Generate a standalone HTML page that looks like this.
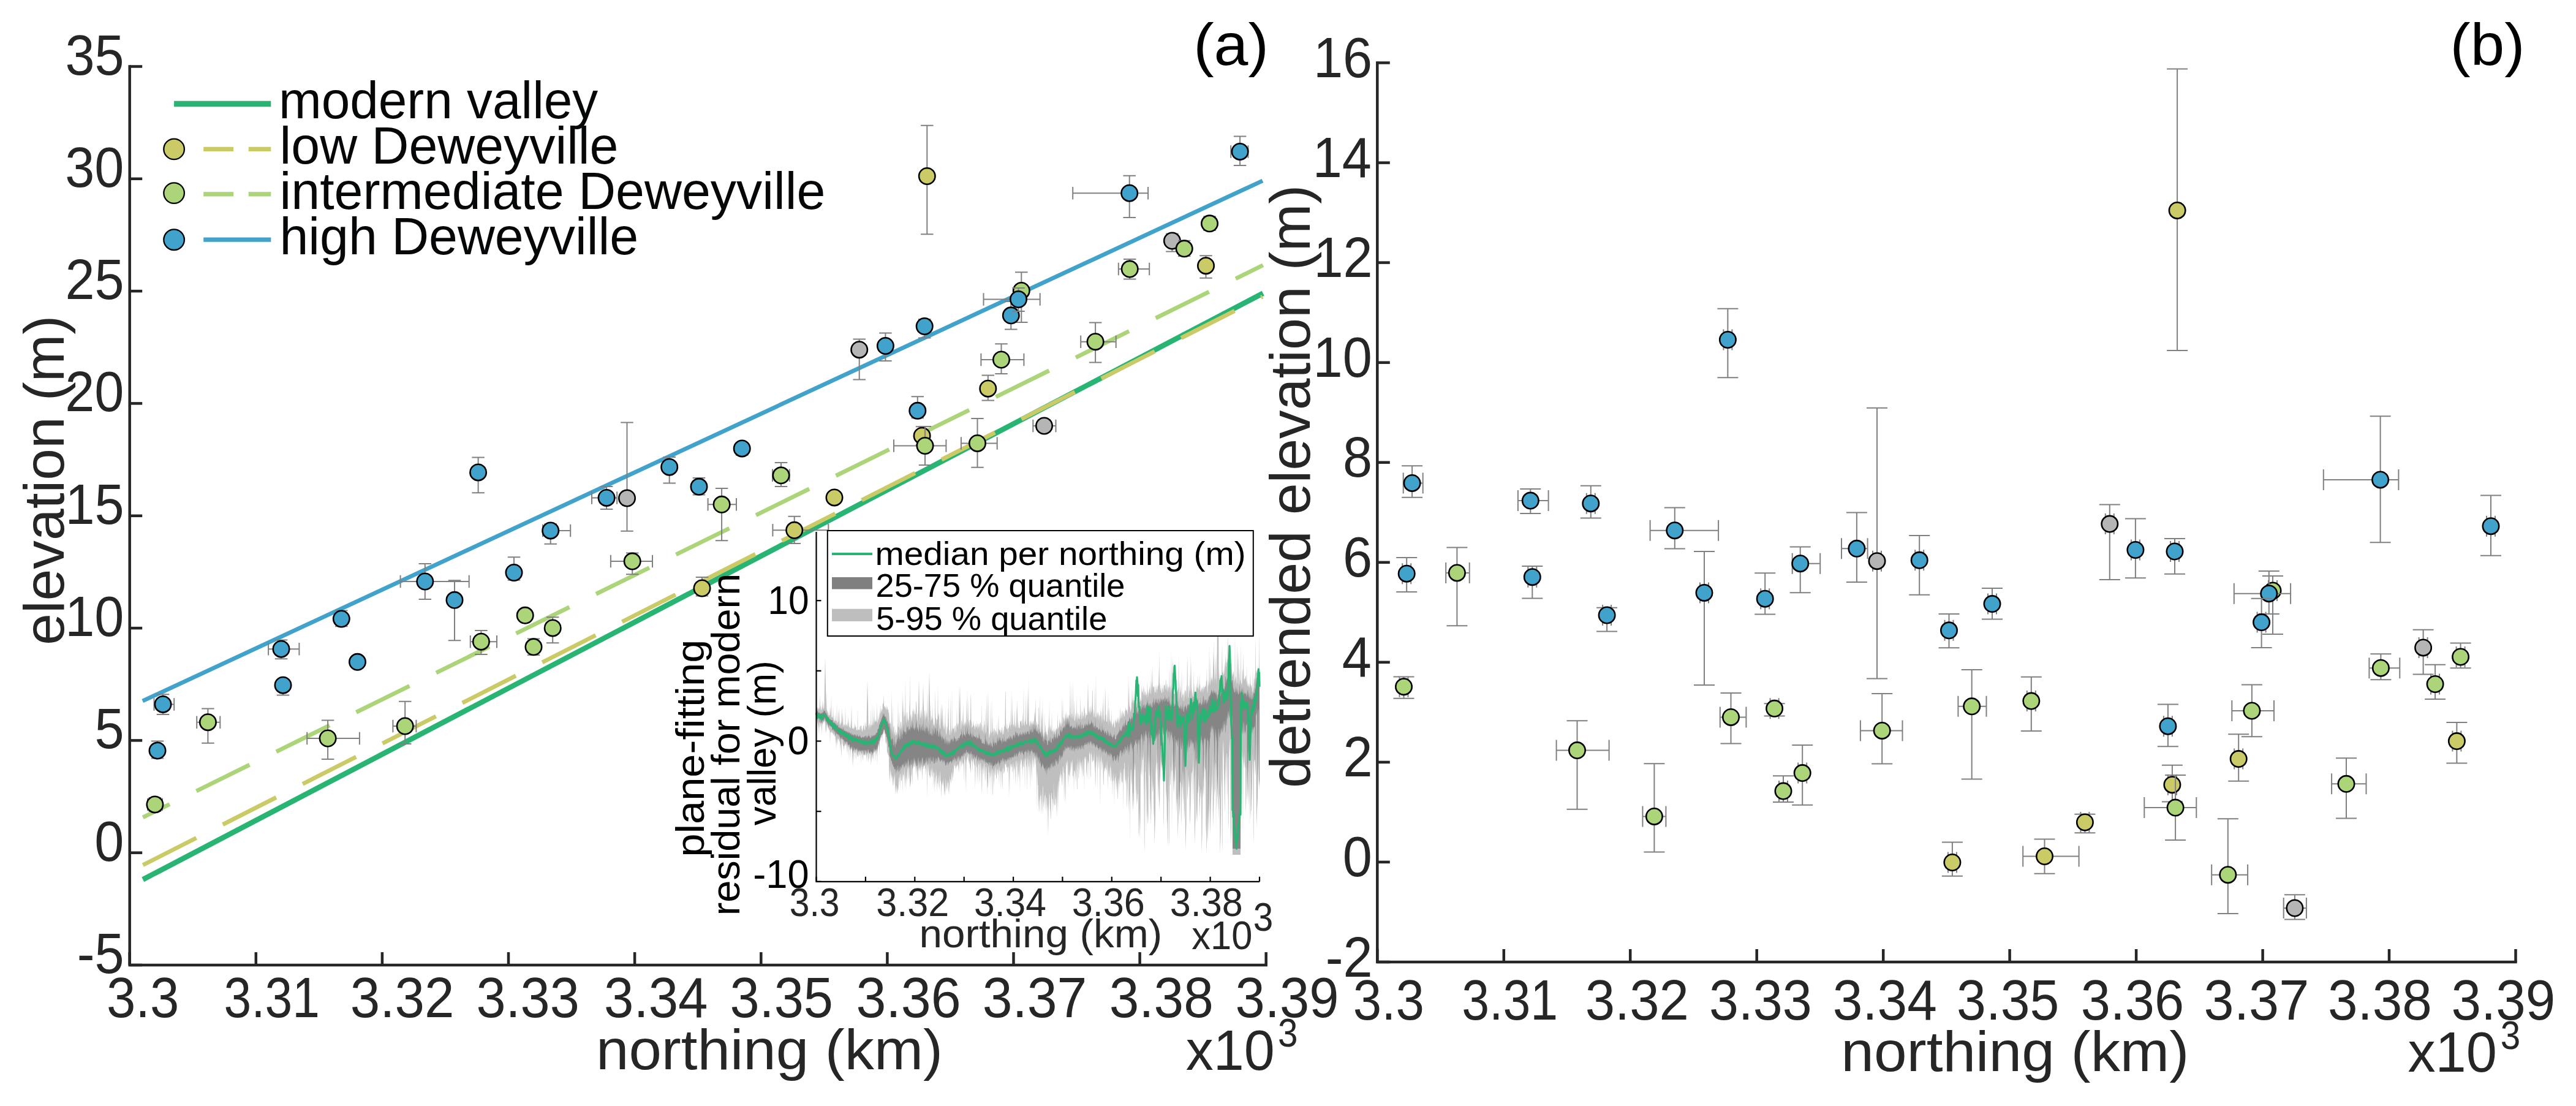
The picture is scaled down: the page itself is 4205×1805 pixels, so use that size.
<!DOCTYPE html>
<html><head><meta charset="utf-8"><style>html,body{margin:0;padding:0;background:#fff;}svg{display:block;-webkit-font-smoothing:antialiased;}</style></head>
<body><svg width="4205" height="1805" viewBox="0 0 4205 1805" font-family="'Liberation Sans', sans-serif">
<rect width="4205" height="1805" fill="#fff"/>
<path d="M211.7,106.3 V1575.0 H2068.8999999999996" fill="none" stroke="#262626" stroke-width="4.5"/>
<line x1="211.7" y1="1575.0" x2="232.2" y2="1575.0" stroke="#262626" stroke-width="4.5"/>
<line x1="211.7" y1="1391.7" x2="232.2" y2="1391.7" stroke="#262626" stroke-width="4.5"/>
<line x1="211.7" y1="1208.4" x2="232.2" y2="1208.4" stroke="#262626" stroke-width="4.5"/>
<line x1="211.7" y1="1025.1" x2="232.2" y2="1025.1" stroke="#262626" stroke-width="4.5"/>
<line x1="211.7" y1="841.8" x2="232.2" y2="841.8" stroke="#262626" stroke-width="4.5"/>
<line x1="211.7" y1="658.4" x2="232.2" y2="658.4" stroke="#262626" stroke-width="4.5"/>
<line x1="211.7" y1="475.1" x2="232.2" y2="475.1" stroke="#262626" stroke-width="4.5"/>
<line x1="211.7" y1="291.8" x2="232.2" y2="291.8" stroke="#262626" stroke-width="4.5"/>
<line x1="211.7" y1="108.5" x2="232.2" y2="108.5" stroke="#262626" stroke-width="4.5"/>
<line x1="211.7" y1="1575.0" x2="211.7" y2="1554.0" stroke="#262626" stroke-width="4.5"/>
<line x1="417.8" y1="1575.0" x2="417.8" y2="1554.0" stroke="#262626" stroke-width="4.5"/>
<line x1="623.9" y1="1575.0" x2="623.9" y2="1554.0" stroke="#262626" stroke-width="4.5"/>
<line x1="830.0" y1="1575.0" x2="830.0" y2="1554.0" stroke="#262626" stroke-width="4.5"/>
<line x1="1036.1" y1="1575.0" x2="1036.1" y2="1554.0" stroke="#262626" stroke-width="4.5"/>
<line x1="1242.3" y1="1575.0" x2="1242.3" y2="1554.0" stroke="#262626" stroke-width="4.5"/>
<line x1="1448.4" y1="1575.0" x2="1448.4" y2="1554.0" stroke="#262626" stroke-width="4.5"/>
<line x1="1654.5" y1="1575.0" x2="1654.5" y2="1554.0" stroke="#262626" stroke-width="4.5"/>
<line x1="1860.6" y1="1575.0" x2="1860.6" y2="1554.0" stroke="#262626" stroke-width="4.5"/>
<line x1="2066.7" y1="1575.0" x2="2066.7" y2="1554.0" stroke="#262626" stroke-width="4.5"/>
<text x="125.7" y="1588.0" font-size="93" textLength="76.9" lengthAdjust="spacingAndGlyphs" fill="#262626">-5</text>
<text x="154.3" y="1404.7" font-size="93" textLength="48.1" lengthAdjust="spacingAndGlyphs" fill="#262626">0</text>
<text x="154.5" y="1221.4" font-size="93" textLength="48.1" lengthAdjust="spacingAndGlyphs" fill="#262626">5</text>
<text x="106.2" y="1038.1" font-size="93" textLength="96.2" lengthAdjust="spacingAndGlyphs" fill="#262626">10</text>
<text x="106.5" y="854.8" font-size="93" textLength="96.2" lengthAdjust="spacingAndGlyphs" fill="#262626">15</text>
<text x="106.2" y="671.4" font-size="93" textLength="96.2" lengthAdjust="spacingAndGlyphs" fill="#262626">20</text>
<text x="106.5" y="488.1" font-size="93" textLength="96.2" lengthAdjust="spacingAndGlyphs" fill="#262626">25</text>
<text x="106.2" y="304.8" font-size="93" textLength="96.2" lengthAdjust="spacingAndGlyphs" fill="#262626">30</text>
<text x="106.5" y="121.5" font-size="93" textLength="96.2" lengthAdjust="spacingAndGlyphs" fill="#262626">35</text>
<text x="174.0" y="1660.2" font-size="93" textLength="118.4" lengthAdjust="spacingAndGlyphs" fill="#262626">3.3</text>
<text x="365.5" y="1660.2" font-size="93" textLength="156.4" lengthAdjust="spacingAndGlyphs" fill="#262626">3.31</text>
<text x="571.7" y="1660.2" font-size="93" textLength="169.7" lengthAdjust="spacingAndGlyphs" fill="#262626">3.32</text>
<text x="777.5" y="1660.2" font-size="93" textLength="168.3" lengthAdjust="spacingAndGlyphs" fill="#262626">3.33</text>
<text x="986.1" y="1660.2" font-size="93" textLength="169.4" lengthAdjust="spacingAndGlyphs" fill="#262626">3.34</text>
<text x="1191.5" y="1660.2" font-size="93" textLength="168.4" lengthAdjust="spacingAndGlyphs" fill="#262626">3.35</text>
<text x="1397.4" y="1660.2" font-size="93" textLength="171.2" lengthAdjust="spacingAndGlyphs" fill="#262626">3.36</text>
<text x="1603.7" y="1660.2" font-size="93" textLength="170.7" lengthAdjust="spacingAndGlyphs" fill="#262626">3.37</text>
<text x="1810.7" y="1660.2" font-size="93" textLength="170.1" lengthAdjust="spacingAndGlyphs" fill="#262626">3.38</text>
<text x="2016.6" y="1660.2" font-size="93" textLength="168.9" lengthAdjust="spacingAndGlyphs" fill="#262626">3.39</text>
<text x="973.0" y="1744.5" font-size="93" textLength="565.9" lengthAdjust="spacingAndGlyphs" fill="#262626">northing (km)</text>
<text x="1935.8" y="1745.5" font-size="93" textLength="145.0" lengthAdjust="spacingAndGlyphs" fill="#262626">x10</text>
<text x="2085.9" y="1708.3" font-size="64" textLength="32.5" lengthAdjust="spacingAndGlyphs" fill="#262626">3</text>
<g transform="rotate(-90)"><text x="-1052.9" y="104.3" font-size="93" textLength="538.1" lengthAdjust="spacingAndGlyphs" fill="#262626">elevation (m)</text></g>
<text x="1948.2" y="106.3" font-size="97" textLength="122.7" lengthAdjust="spacingAndGlyphs" fill="#000">(a)</text>
<path d="M2248.3,100.3 V1570.0 H4108.7" fill="none" stroke="#262626" stroke-width="4.5"/>
<line x1="2248.3" y1="1570.0" x2="2268.8" y2="1570.0" stroke="#262626" stroke-width="4.5"/>
<line x1="2248.3" y1="1406.9" x2="2268.8" y2="1406.9" stroke="#262626" stroke-width="4.5"/>
<line x1="2248.3" y1="1243.9" x2="2268.8" y2="1243.9" stroke="#262626" stroke-width="4.5"/>
<line x1="2248.3" y1="1080.8" x2="2268.8" y2="1080.8" stroke="#262626" stroke-width="4.5"/>
<line x1="2248.3" y1="917.8" x2="2268.8" y2="917.8" stroke="#262626" stroke-width="4.5"/>
<line x1="2248.3" y1="754.7" x2="2268.8" y2="754.7" stroke="#262626" stroke-width="4.5"/>
<line x1="2248.3" y1="591.7" x2="2268.8" y2="591.7" stroke="#262626" stroke-width="4.5"/>
<line x1="2248.3" y1="428.6" x2="2268.8" y2="428.6" stroke="#262626" stroke-width="4.5"/>
<line x1="2248.3" y1="265.6" x2="2268.8" y2="265.6" stroke="#262626" stroke-width="4.5"/>
<line x1="2248.3" y1="102.5" x2="2268.8" y2="102.5" stroke="#262626" stroke-width="4.5"/>
<line x1="2248.3" y1="1570.0" x2="2248.3" y2="1549.0" stroke="#262626" stroke-width="4.5"/>
<line x1="2454.8" y1="1570.0" x2="2454.8" y2="1549.0" stroke="#262626" stroke-width="4.5"/>
<line x1="2661.2" y1="1570.0" x2="2661.2" y2="1549.0" stroke="#262626" stroke-width="4.5"/>
<line x1="2867.7" y1="1570.0" x2="2867.7" y2="1549.0" stroke="#262626" stroke-width="4.5"/>
<line x1="3074.2" y1="1570.0" x2="3074.2" y2="1549.0" stroke="#262626" stroke-width="4.5"/>
<line x1="3280.6" y1="1570.0" x2="3280.6" y2="1549.0" stroke="#262626" stroke-width="4.5"/>
<line x1="3487.1" y1="1570.0" x2="3487.1" y2="1549.0" stroke="#262626" stroke-width="4.5"/>
<line x1="3693.6" y1="1570.0" x2="3693.6" y2="1549.0" stroke="#262626" stroke-width="4.5"/>
<line x1="3900.0" y1="1570.0" x2="3900.0" y2="1549.0" stroke="#262626" stroke-width="4.5"/>
<line x1="4106.5" y1="1570.0" x2="4106.5" y2="1549.0" stroke="#262626" stroke-width="4.5"/>
<text x="2163.8" y="1593.5" font-size="93" textLength="76.9" lengthAdjust="spacingAndGlyphs" fill="#262626">-2</text>
<text x="2191.7" y="1430.4" font-size="93" textLength="48.1" lengthAdjust="spacingAndGlyphs" fill="#262626">0</text>
<text x="2192.6" y="1267.4" font-size="93" textLength="48.1" lengthAdjust="spacingAndGlyphs" fill="#262626">2</text>
<text x="2190.8" y="1104.3" font-size="93" textLength="48.1" lengthAdjust="spacingAndGlyphs" fill="#262626">4</text>
<text x="2192.1" y="941.3" font-size="93" textLength="48.1" lengthAdjust="spacingAndGlyphs" fill="#262626">6</text>
<text x="2192.0" y="778.2" font-size="93" textLength="48.1" lengthAdjust="spacingAndGlyphs" fill="#262626">8</text>
<text x="2143.6" y="615.2" font-size="93" textLength="96.2" lengthAdjust="spacingAndGlyphs" fill="#262626">10</text>
<text x="2144.5" y="452.1" font-size="93" textLength="96.2" lengthAdjust="spacingAndGlyphs" fill="#262626">12</text>
<text x="2142.7" y="289.1" font-size="93" textLength="96.2" lengthAdjust="spacingAndGlyphs" fill="#262626">14</text>
<text x="2144.0" y="126.0" font-size="93" textLength="96.2" lengthAdjust="spacingAndGlyphs" fill="#262626">16</text>
<text x="2208.8" y="1664.2" font-size="93" textLength="116.1" lengthAdjust="spacingAndGlyphs" fill="#262626">3.3</text>
<text x="2386.2" y="1664.2" font-size="93" textLength="157.0" lengthAdjust="spacingAndGlyphs" fill="#262626">3.31</text>
<text x="2587.7" y="1664.2" font-size="93" textLength="169.2" lengthAdjust="spacingAndGlyphs" fill="#262626">3.32</text>
<text x="2789.9" y="1664.2" font-size="93" textLength="167.7" lengthAdjust="spacingAndGlyphs" fill="#262626">3.33</text>
<text x="2991.7" y="1664.2" font-size="93" textLength="170.2" lengthAdjust="spacingAndGlyphs" fill="#262626">3.34</text>
<text x="3194.1" y="1664.2" font-size="93" textLength="167.3" lengthAdjust="spacingAndGlyphs" fill="#262626">3.35</text>
<text x="3396.7" y="1664.2" font-size="93" textLength="168.4" lengthAdjust="spacingAndGlyphs" fill="#262626">3.36</text>
<text x="3597.6" y="1664.2" font-size="93" textLength="171.6" lengthAdjust="spacingAndGlyphs" fill="#262626">3.37</text>
<text x="3799.9" y="1664.2" font-size="93" textLength="169.9" lengthAdjust="spacingAndGlyphs" fill="#262626">3.38</text>
<text x="4001.5" y="1664.2" font-size="93" textLength="169.7" lengthAdjust="spacingAndGlyphs" fill="#262626">3.39</text>
<text x="3005.3" y="1747.5" font-size="93" textLength="568.0" lengthAdjust="spacingAndGlyphs" fill="#262626">northing (km)</text>
<text x="3930.5" y="1749.0" font-size="93" textLength="145.5" lengthAdjust="spacingAndGlyphs" fill="#262626">x10</text>
<text x="4081.7" y="1711.6" font-size="64" textLength="32.5" lengthAdjust="spacingAndGlyphs" fill="#262626">3</text>
<g transform="rotate(-90)"><text x="-1285.9" y="2137.9" font-size="93" textLength="984.2" lengthAdjust="spacingAndGlyphs" fill="#262626">detrended elevation (m)</text></g>
<text x="3999.5" y="106.3" font-size="97" textLength="121.9" lengthAdjust="spacingAndGlyphs" fill="#000">(b)</text>
<line x1="233.3" y1="1435.4" x2="2061.7" y2="478.6" stroke="#28B473" stroke-width="8.6"/>
<line x1="233.3" y1="1411.8" x2="2061" y2="484.2" stroke="#CACA66" stroke-width="6.8" stroke-dasharray="97.8 48.4" stroke-dashoffset="0"/>
<line x1="233.3" y1="1334" x2="2061.7" y2="432.8" stroke="#ABD578" stroke-width="6.8" stroke-dasharray="97 48.5" stroke-dashoffset="48.3"/>
<line x1="232.8" y1="1144" x2="2061" y2="295" stroke="#41A2CB" stroke-width="6.8"/>
<path d="M1023.5,689.5 V866.7 M1013.25,689.5 h20.5 M1013.25,866.7 h20.5" stroke="#808080" stroke-width="2" fill="none"/><circle cx="1023.5" cy="813" r="13.2" fill="#B5B5B5" stroke="#000" stroke-width="2.6"/>
<path d="M1402.7,553.6 V619.6 M1392.45,553.6 h20.5 M1392.45,619.6 h20.5" stroke="#808080" stroke-width="2" fill="none"/><circle cx="1402.7" cy="570.7" r="13.2" fill="#B5B5B5" stroke="#000" stroke-width="2.6"/>
<path d="M1704.5,685 V705 M1694.25,685 h20.5 M1694.25,705 h20.5" stroke="#808080" stroke-width="2" fill="none"/><path d="M1686.3,695 H1723.5 M1686.3,684.75 v20.5 M1723.5,684.75 v20.5" stroke="#808080" stroke-width="2" fill="none"/><circle cx="1704.5" cy="695" r="13.2" fill="#B5B5B5" stroke="#000" stroke-width="2.6"/>
<path d="M1913.4,381.6 V410.4 M1903.15,381.6 h20.5 M1903.15,410.4 h20.5" stroke="#808080" stroke-width="2" fill="none"/><circle cx="1913.4" cy="393" r="13.2" fill="#B5B5B5" stroke="#000" stroke-width="2.6"/>
<path d="M1146,942.1 V972.6 M1135.75,942.1 h20.5 M1135.75,972.6 h20.5" stroke="#808080" stroke-width="2" fill="none"/><circle cx="1146" cy="960" r="13.2" fill="#CACA66" stroke="#000" stroke-width="2.6"/>
<path d="M1296.7,842.8 V887 M1286.45,842.8 h20.5 M1286.45,887 h20.5" stroke="#808080" stroke-width="2" fill="none"/><path d="M1261.4,865.3 H1352.3 M1261.4,855.05 v20.5 M1352.3,855.05 v20.5" stroke="#808080" stroke-width="2" fill="none"/><circle cx="1296.7" cy="865.3" r="13.2" fill="#CACA66" stroke="#000" stroke-width="2.6"/>
<circle cx="1362" cy="811.9" r="13.2" fill="#CACA66" stroke="#000" stroke-width="2.6"/>
<path d="M1505.1,696.3 V726 M1494.85,696.3 h20.5 M1494.85,726 h20.5" stroke="#808080" stroke-width="2" fill="none"/><circle cx="1505.1" cy="711.2" r="13.2" fill="#CACA66" stroke="#000" stroke-width="2.6"/>
<path d="M1513.3,204.8 V382.2 M1503.05,204.8 h20.5 M1503.05,382.2 h20.5" stroke="#808080" stroke-width="2" fill="none"/><circle cx="1513.3" cy="287.5" r="13.2" fill="#CACA66" stroke="#000" stroke-width="2.6"/>
<path d="M1612.8,612.5 V653.5 M1602.55,612.5 h20.5 M1602.55,653.5 h20.5" stroke="#808080" stroke-width="2" fill="none"/><circle cx="1612.8" cy="634.2" r="13.2" fill="#CACA66" stroke="#000" stroke-width="2.6"/>
<path d="M1968.5,417.2 V453.8 M1958.25,417.2 h20.5 M1958.25,453.8 h20.5" stroke="#808080" stroke-width="2" fill="none"/><circle cx="1968.5" cy="433.7" r="13.2" fill="#CACA66" stroke="#000" stroke-width="2.6"/>
<path d="M252.9,1302 V1324 M242.65,1302 h20.5 M242.65,1324 h20.5" stroke="#808080" stroke-width="2" fill="none"/><path d="M241,1312.9 H265 M241,1302.65 v20.5 M265,1302.65 v20.5" stroke="#808080" stroke-width="2" fill="none"/><circle cx="252.9" cy="1312.9" r="13.2" fill="#ABD578" stroke="#000" stroke-width="2.6"/>
<path d="M339.4,1156.6 V1212.7 M329.15,1156.6 h20.5 M329.15,1212.7 h20.5" stroke="#808080" stroke-width="2" fill="none"/><path d="M321.2,1178.7 H359.3 M321.2,1168.45 v20.5 M359.3,1168.45 v20.5" stroke="#808080" stroke-width="2" fill="none"/><circle cx="339.4" cy="1178.7" r="13.2" fill="#ABD578" stroke="#000" stroke-width="2.6"/>
<path d="M535.1,1175.6 V1239 M524.85,1175.6 h20.5 M524.85,1239 h20.5" stroke="#808080" stroke-width="2" fill="none"/><path d="M501.2,1205 H586.9 M501.2,1194.75 v20.5 M586.9,1194.75 v20.5" stroke="#808080" stroke-width="2" fill="none"/><circle cx="535.1" cy="1205" r="13.2" fill="#ABD578" stroke="#000" stroke-width="2.6"/>
<path d="M661.2,1144.8 V1214 M650.95,1144.8 h20.5 M650.95,1214 h20.5" stroke="#808080" stroke-width="2" fill="none"/><path d="M641.4,1185 H679.4 M641.4,1174.75 v20.5 M679.4,1174.75 v20.5" stroke="#808080" stroke-width="2" fill="none"/><circle cx="661.2" cy="1185" r="13.2" fill="#ABD578" stroke="#000" stroke-width="2.6"/>
<path d="M785.4,1029 V1068 M775.15,1029 h20.5 M775.15,1068 h20.5" stroke="#808080" stroke-width="2" fill="none"/><path d="M767.8,1047.2 H811 M767.8,1036.95 v20.5 M811,1036.95 v20.5" stroke="#808080" stroke-width="2" fill="none"/><circle cx="785.4" cy="1047.2" r="13.2" fill="#ABD578" stroke="#000" stroke-width="2.6"/>
<circle cx="857.2" cy="1004.3" r="13.2" fill="#ABD578" stroke="#000" stroke-width="2.6"/>
<path d="M871,1042.5 V1069 M860.75,1042.5 h20.5 M860.75,1069 h20.5" stroke="#808080" stroke-width="2" fill="none"/><circle cx="871" cy="1055.8" r="13.2" fill="#ABD578" stroke="#000" stroke-width="2.6"/>
<path d="M902.2,1007.3 V1049.3 M891.95,1007.3 h20.5 M891.95,1049.3 h20.5" stroke="#808080" stroke-width="2" fill="none"/><circle cx="902.2" cy="1024.9" r="13.2" fill="#ABD578" stroke="#000" stroke-width="2.6"/>
<path d="M1032.2,902.5 V937.2 M1021.95,902.5 h20.5 M1021.95,937.2 h20.5" stroke="#808080" stroke-width="2" fill="none"/><path d="M996.9,916.1 H1065 M996.9,905.85 v20.5 M1065,905.85 v20.5" stroke="#808080" stroke-width="2" fill="none"/><circle cx="1032.2" cy="916.1" r="13.2" fill="#ABD578" stroke="#000" stroke-width="2.6"/>
<path d="M1178.1,797 V882.2 M1167.85,797 h20.5 M1167.85,882.2 h20.5" stroke="#808080" stroke-width="2" fill="none"/><path d="M1155.6,823.3 H1202 M1155.6,813.05 v20.5 M1202,813.05 v20.5" stroke="#808080" stroke-width="2" fill="none"/><circle cx="1178.1" cy="823.3" r="13.2" fill="#ABD578" stroke="#000" stroke-width="2.6"/>
<path d="M1275,754.9 V794 M1264.75,754.9 h20.5 M1264.75,794 h20.5" stroke="#808080" stroke-width="2" fill="none"/><path d="M1261,775.8 H1288.8 M1261,765.55 v20.5 M1288.8,765.55 v20.5" stroke="#808080" stroke-width="2" fill="none"/><circle cx="1275" cy="775.8" r="13.2" fill="#ABD578" stroke="#000" stroke-width="2.6"/>
<path d="M1510,696 V759 M1499.75,696 h20.5 M1499.75,759 h20.5" stroke="#808080" stroke-width="2" fill="none"/><path d="M1459,727.5 H1544.4 M1459,717.25 v20.5 M1544.4,717.25 v20.5" stroke="#808080" stroke-width="2" fill="none"/><circle cx="1510" cy="727.5" r="13.2" fill="#ABD578" stroke="#000" stroke-width="2.6"/>
<path d="M1595.5,683 V762.8 M1585.25,683 h20.5 M1585.25,762.8 h20.5" stroke="#808080" stroke-width="2" fill="none"/><path d="M1568.9,723.4 H1627.7 M1568.9,713.15 v20.5 M1627.7,713.15 v20.5" stroke="#808080" stroke-width="2" fill="none"/><circle cx="1595.5" cy="723.4" r="13.2" fill="#ABD578" stroke="#000" stroke-width="2.6"/>
<path d="M1634.5,561.2 V610 M1624.25,561.2 h20.5 M1624.25,610 h20.5" stroke="#808080" stroke-width="2" fill="none"/><path d="M1601.4,587 H1671.4 M1601.4,576.75 v20.5 M1671.4,576.75 v20.5" stroke="#808080" stroke-width="2" fill="none"/><circle cx="1634.5" cy="587" r="13.2" fill="#ABD578" stroke="#000" stroke-width="2.6"/>
<path d="M1667.3,444.3 V526 M1657.05,444.3 h20.5 M1657.05,526 h20.5" stroke="#808080" stroke-width="2" fill="none"/><circle cx="1667.3" cy="474.4" r="13.2" fill="#ABD578" stroke="#000" stroke-width="2.6"/>
<path d="M1788.1,526.5 V591.6 M1777.85,526.5 h20.5 M1777.85,591.6 h20.5" stroke="#808080" stroke-width="2" fill="none"/><path d="M1764.2,557.7 H1821.7 M1764.2,547.45 v20.5 M1821.7,547.45 v20.5" stroke="#808080" stroke-width="2" fill="none"/><circle cx="1788.1" cy="557.7" r="13.2" fill="#ABD578" stroke="#000" stroke-width="2.6"/>
<path d="M1844.2,422.9 V455.4 M1833.95,422.9 h20.5 M1833.95,455.4 h20.5" stroke="#808080" stroke-width="2" fill="none"/><path d="M1825.8,439.1 H1876.2 M1825.8,428.85 v20.5 M1876.2,428.85 v20.5" stroke="#808080" stroke-width="2" fill="none"/><circle cx="1844.2" cy="439.1" r="13.2" fill="#ABD578" stroke="#000" stroke-width="2.6"/>
<path d="M1933.2,392.8 V418 M1922.95,392.8 h20.5 M1922.95,418 h20.5" stroke="#808080" stroke-width="2" fill="none"/><circle cx="1933.2" cy="405.8" r="13.2" fill="#ABD578" stroke="#000" stroke-width="2.6"/>
<path d="M1974.5,353.2 V376 M1964.25,353.2 h20.5 M1964.25,376 h20.5" stroke="#808080" stroke-width="2" fill="none"/><circle cx="1974.5" cy="364.8" r="13.2" fill="#ABD578" stroke="#000" stroke-width="2.6"/>
<path d="M257,1209.6 V1237.5 M246.75,1209.6 h20.5 M246.75,1237.5 h20.5" stroke="#808080" stroke-width="2" fill="none"/><circle cx="257" cy="1225" r="13.2" fill="#41A2CB" stroke="#000" stroke-width="2.6"/>
<path d="M266,1133.2 V1166.1 M255.75,1133.2 h20.5 M255.75,1166.1 h20.5" stroke="#808080" stroke-width="2" fill="none"/><path d="M251.5,1149.4 H284.2 M251.5,1139.15 v20.5 M284.2,1139.15 v20.5" stroke="#808080" stroke-width="2" fill="none"/><circle cx="266" cy="1149.4" r="13.2" fill="#41A2CB" stroke="#000" stroke-width="2.6"/>
<path d="M459,1044.4 V1075.2 M448.75,1044.4 h20.5 M448.75,1075.2 h20.5" stroke="#808080" stroke-width="2" fill="none"/><path d="M438.1,1059.2 H488.4 M438.1,1048.95 v20.5 M488.4,1048.95 v20.5" stroke="#808080" stroke-width="2" fill="none"/><circle cx="459" cy="1059.2" r="13.2" fill="#41A2CB" stroke="#000" stroke-width="2.6"/>
<path d="M462,1118.2 V1134.5 M451.75,1134.5 h20.5" stroke="#808080" stroke-width="2" fill="none"/><circle cx="462" cy="1118.2" r="13.2" fill="#41A2CB" stroke="#000" stroke-width="2.6"/>
<path d="M557.3,996.4 V1022.2 M547.05,996.4 h20.5 M547.05,1022.2 h20.5" stroke="#808080" stroke-width="2" fill="none"/><circle cx="557.3" cy="1010" r="13.2" fill="#41A2CB" stroke="#000" stroke-width="2.6"/>
<circle cx="583.5" cy="1080.3" r="13.2" fill="#41A2CB" stroke="#000" stroke-width="2.6"/>
<path d="M693.8,920.1 V978 M683.55,920.1 h20.5 M683.55,978 h20.5" stroke="#808080" stroke-width="2" fill="none"/><path d="M653.6,949 H765.7 M653.6,938.75 v20.5 M765.7,938.75 v20.5" stroke="#808080" stroke-width="2" fill="none"/><circle cx="693.8" cy="949" r="13.2" fill="#41A2CB" stroke="#000" stroke-width="2.6"/>
<path d="M742,947.3 V1045.3 M731.75,947.3 h20.5 M731.75,1045.3 h20.5" stroke="#808080" stroke-width="2" fill="none"/><circle cx="742" cy="979.3" r="13.2" fill="#41A2CB" stroke="#000" stroke-width="2.6"/>
<path d="M780.6,746.5 V804.3 M770.35,746.5 h20.5 M770.35,804.3 h20.5" stroke="#808080" stroke-width="2" fill="none"/><circle cx="780.6" cy="770.9" r="13.2" fill="#41A2CB" stroke="#000" stroke-width="2.6"/>
<path d="M839,909.3 V946.7 M828.75,909.3 h20.5 M828.75,946.7 h20.5" stroke="#808080" stroke-width="2" fill="none"/><circle cx="839" cy="934.5" r="13.2" fill="#41A2CB" stroke="#000" stroke-width="2.6"/>
<path d="M898.7,855.3 V887.8 M888.45,855.3 h20.5 M888.45,887.8 h20.5" stroke="#808080" stroke-width="2" fill="none"/><path d="M886,865.9 H931.2 M886,855.65 v20.5 M931.2,855.65 v20.5" stroke="#808080" stroke-width="2" fill="none"/><circle cx="898.7" cy="865.9" r="13.2" fill="#41A2CB" stroke="#000" stroke-width="2.6"/>
<path d="M990.1,794 V830.9 M979.85,794 h20.5 M979.85,830.9 h20.5" stroke="#808080" stroke-width="2" fill="none"/><path d="M966,812.4 H1007.2 M966,802.15 v20.5 M1007.2,802.15 v20.5" stroke="#808080" stroke-width="2" fill="none"/><circle cx="990.1" cy="812.4" r="13.2" fill="#41A2CB" stroke="#000" stroke-width="2.6"/>
<path d="M1092.7,746 V788.6 M1082.45,746 h20.5 M1082.45,788.6 h20.5" stroke="#808080" stroke-width="2" fill="none"/><circle cx="1092.7" cy="762.2" r="13.2" fill="#41A2CB" stroke="#000" stroke-width="2.6"/>
<path d="M1141,779.9 V807.5 M1130.75,779.9 h20.5 M1130.75,807.5 h20.5" stroke="#808080" stroke-width="2" fill="none"/><circle cx="1141" cy="794.3" r="13.2" fill="#41A2CB" stroke="#000" stroke-width="2.6"/>
<path d="M1211.2,731.9 V742.7 M1200.95,742.7 h20.5" stroke="#808080" stroke-width="2" fill="none"/><circle cx="1211.2" cy="731.9" r="13.2" fill="#41A2CB" stroke="#000" stroke-width="2.6"/>
<path d="M1445.4,543.6 V588.9 M1435.15,543.6 h20.5 M1435.15,588.9 h20.5" stroke="#808080" stroke-width="2" fill="none"/><circle cx="1445.4" cy="564.5" r="13.2" fill="#41A2CB" stroke="#000" stroke-width="2.6"/>
<path d="M1497.8,647.2 V682.2 M1487.55,647.2 h20.5 M1487.55,682.2 h20.5" stroke="#808080" stroke-width="2" fill="none"/><circle cx="1497.8" cy="670.3" r="13.2" fill="#41A2CB" stroke="#000" stroke-width="2.6"/>
<path d="M1509.2,521 V551.5 M1498.95,521 h20.5 M1498.95,551.5 h20.5" stroke="#808080" stroke-width="2" fill="none"/><circle cx="1509.2" cy="532.5" r="13.2" fill="#41A2CB" stroke="#000" stroke-width="2.6"/>
<path d="M1650.3,492 V537.4 M1640.05,492 h20.5 M1640.05,537.4 h20.5" stroke="#808080" stroke-width="2" fill="none"/><circle cx="1650.3" cy="514.8" r="13.2" fill="#41A2CB" stroke="#000" stroke-width="2.6"/>
<path d="M1662.5,470 V508 M1652.25,470 h20.5 M1652.25,508 h20.5" stroke="#808080" stroke-width="2" fill="none"/><path d="M1605.5,488.5 H1697.7 M1605.5,478.25 v20.5 M1697.7,478.25 v20.5" stroke="#808080" stroke-width="2" fill="none"/><circle cx="1662.5" cy="488.5" r="13.2" fill="#41A2CB" stroke="#000" stroke-width="2.6"/>
<path d="M1843.7,286.7 V355 M1833.45,286.7 h20.5 M1833.45,355 h20.5" stroke="#808080" stroke-width="2" fill="none"/><path d="M1751.2,315.2 H1874.1 M1751.2,304.95 v20.5 M1874.1,304.95 v20.5" stroke="#808080" stroke-width="2" fill="none"/><circle cx="1843.7" cy="315.2" r="13.2" fill="#41A2CB" stroke="#000" stroke-width="2.6"/>
<path d="M2024.1,222.4 V269.9 M2013.85,222.4 h20.5 M2013.85,269.9 h20.5" stroke="#808080" stroke-width="2" fill="none"/><path d="M2009.2,247.4 H2037.4 M2009.2,237.15 v20.5 M2037.4,237.15 v20.5" stroke="#808080" stroke-width="2" fill="none"/><circle cx="2024.1" cy="247.4" r="13.2" fill="#41A2CB" stroke="#000" stroke-width="2.6"/>
<path d="M3064,665.7 V1107.5 M3047.0,665.7 h34 M3047.0,1107.5 h34" stroke="#808080" stroke-width="2" fill="none"/><path d="M3057.0,915.7 H3071.0 M3057.0,898.7 v34 M3071.0,898.7 v34" stroke="#808080" stroke-width="2" fill="none"/><circle cx="3064" cy="915.7" r="13.2" fill="#B5B5B5" stroke="#000" stroke-width="2.6"/>
<path d="M3443.8,823.4 V946 M3426.8,823.4 h34 M3426.8,946 h34" stroke="#808080" stroke-width="2" fill="none"/><path d="M3436.8,855.1 H3450.8 M3436.8,838.1 v34 M3450.8,838.1 v34" stroke="#808080" stroke-width="2" fill="none"/><circle cx="3443.8" cy="855.1" r="13.2" fill="#B5B5B5" stroke="#000" stroke-width="2.6"/>
<path d="M3745.9,1460.3 V1500.4 M3728.9,1460.3 h34 M3728.9,1500.4 h34" stroke="#808080" stroke-width="2" fill="none"/><path d="M3727.7,1482 H3764.9 M3727.7,1465.0 v34 M3764.9,1465.0 v34" stroke="#808080" stroke-width="2" fill="none"/><circle cx="3745.9" cy="1482" r="13.2" fill="#B5B5B5" stroke="#000" stroke-width="2.6"/>
<path d="M3955.6,1027.8 V1100.5 M3938.6,1027.8 h34 M3938.6,1100.5 h34" stroke="#808080" stroke-width="2" fill="none"/><path d="M3948.6,1056.9 H3962.6 M3948.6,1039.9 v34 M3962.6,1039.9 v34" stroke="#808080" stroke-width="2" fill="none"/><circle cx="3955.6" cy="1056.9" r="13.2" fill="#B5B5B5" stroke="#000" stroke-width="2.6"/>
<path d="M3186.9,1374.4 V1429.8 M3169.9,1374.4 h34 M3169.9,1429.8 h34" stroke="#808080" stroke-width="2" fill="none"/><path d="M3179.9,1407.5 H3193.9 M3179.9,1390.5 v34 M3193.9,1390.5 v34" stroke="#808080" stroke-width="2" fill="none"/><circle cx="3186.9" cy="1407.5" r="13.2" fill="#CACA66" stroke="#000" stroke-width="2.6"/>
<path d="M3337.5,1369.5 V1425.7 M3320.5,1369.5 h34 M3320.5,1425.7 h34" stroke="#808080" stroke-width="2" fill="none"/><path d="M3302.2,1397.5 H3393.6 M3302.2,1380.5 v34 M3393.6,1380.5 v34" stroke="#808080" stroke-width="2" fill="none"/><circle cx="3337.5" cy="1397.5" r="13.2" fill="#CACA66" stroke="#000" stroke-width="2.6"/>
<path d="M3403.4,1328.8 V1359.2 M3386.4,1328.8 h34 M3386.4,1359.2 h34" stroke="#808080" stroke-width="2" fill="none"/><path d="M3396.4,1342 H3410.4 M3396.4,1325.0 v34 M3410.4,1325.0 v34" stroke="#808080" stroke-width="2" fill="none"/><circle cx="3403.4" cy="1342" r="13.2" fill="#CACA66" stroke="#000" stroke-width="2.6"/>
<path d="M3545.9,1248.7 V1308.4 M3528.9,1248.7 h34 M3528.9,1308.4 h34" stroke="#808080" stroke-width="2" fill="none"/><path d="M3538.9,1280.7 H3552.9 M3538.9,1263.7 v34 M3552.9,1263.7 v34" stroke="#808080" stroke-width="2" fill="none"/><circle cx="3545.9" cy="1280.7" r="13.2" fill="#CACA66" stroke="#000" stroke-width="2.6"/>
<path d="M3554.1,112.6 V572.1 M3537.1,112.6 h34 M3537.1,572.1 h34" stroke="#808080" stroke-width="2" fill="none"/><circle cx="3554.1" cy="343.4" r="13.2" fill="#CACA66" stroke="#000" stroke-width="2.6"/>
<path d="M3654.2,1198.2 V1274.7 M3637.2,1198.2 h34 M3637.2,1274.7 h34" stroke="#808080" stroke-width="2" fill="none"/><path d="M3647.2,1238.6 H3661.2 M3647.2,1221.6 v34 M3661.2,1221.6 v34" stroke="#808080" stroke-width="2" fill="none"/><circle cx="3654.2" cy="1238.6" r="13.2" fill="#CACA66" stroke="#000" stroke-width="2.6"/>
<path d="M4010.4,1178.9 V1245.4 M3993.4,1178.9 h34 M3993.4,1245.4 h34" stroke="#808080" stroke-width="2" fill="none"/><path d="M4003.4,1209.6 H4017.4 M4003.4,1192.6 v34 M4017.4,1192.6 v34" stroke="#808080" stroke-width="2" fill="none"/><circle cx="4010.4" cy="1209.6" r="13.2" fill="#CACA66" stroke="#000" stroke-width="2.6"/>
<path d="M2291.5,1104.4 V1139.7 M2274.5,1104.4 h34 M2274.5,1139.7 h34" stroke="#808080" stroke-width="2" fill="none"/><path d="M2284.5,1120.7 H2298.5 M2284.5,1103.7 v34 M2298.5,1103.7 v34" stroke="#808080" stroke-width="2" fill="none"/><circle cx="2291.5" cy="1120.7" r="13.2" fill="#ABD578" stroke="#000" stroke-width="2.6"/>
<path d="M2378.4,893.6 V1021.2 M2361.4,893.6 h34 M2361.4,1021.2 h34" stroke="#808080" stroke-width="2" fill="none"/><path d="M2360.2,934.9 H2398.7 M2360.2,917.9 v34 M2398.7,917.9 v34" stroke="#808080" stroke-width="2" fill="none"/><circle cx="2378.4" cy="934.9" r="13.2" fill="#ABD578" stroke="#000" stroke-width="2.6"/>
<path d="M2574.5,1176.3 V1320.7 M2557.5,1176.3 h34 M2557.5,1320.7 h34" stroke="#808080" stroke-width="2" fill="none"/><path d="M2540.6,1224.6 H2626.6 M2540.6,1207.6 v34 M2626.6,1207.6 v34" stroke="#808080" stroke-width="2" fill="none"/><circle cx="2574.5" cy="1224.6" r="13.2" fill="#ABD578" stroke="#000" stroke-width="2.6"/>
<path d="M2700.4,1246.3 V1390.4 M2683.4,1246.3 h34 M2683.4,1390.4 h34" stroke="#808080" stroke-width="2" fill="none"/><path d="M2681.4,1332.4 H2719.4 M2681.4,1315.4 v34 M2719.4,1315.4 v34" stroke="#808080" stroke-width="2" fill="none"/><circle cx="2700.4" cy="1332.4" r="13.2" fill="#ABD578" stroke="#000" stroke-width="2.6"/>
<path d="M2825.5,1131 V1213.5 M2808.5,1131 h34 M2808.5,1213.5 h34" stroke="#808080" stroke-width="2" fill="none"/><path d="M2807.8,1170.4 H2850.4 M2807.8,1153.4 v34 M2850.4,1153.4 v34" stroke="#808080" stroke-width="2" fill="none"/><circle cx="2825.5" cy="1170.4" r="13.2" fill="#ABD578" stroke="#000" stroke-width="2.6"/>
<path d="M2896.6,1148.2 V1168.5 M2879.6,1148.2 h34 M2879.6,1168.5 h34" stroke="#808080" stroke-width="2" fill="none"/><path d="M2889.6,1156.3 H2903.6 M2889.6,1139.3 v34 M2903.6,1139.3 v34" stroke="#808080" stroke-width="2" fill="none"/><circle cx="2896.6" cy="1156.3" r="13.2" fill="#ABD578" stroke="#000" stroke-width="2.6"/>
<path d="M2911,1266.2 V1309 M2894.0,1266.2 h34 M2894.0,1309 h34" stroke="#808080" stroke-width="2" fill="none"/><path d="M2904.0,1291.1 H2918.0 M2904.0,1274.1 v34 M2918.0,1274.1 v34" stroke="#808080" stroke-width="2" fill="none"/><circle cx="2911" cy="1291.1" r="13.2" fill="#ABD578" stroke="#000" stroke-width="2.6"/>
<path d="M2942.2,1216 V1313.7 M2925.2,1216 h34 M2925.2,1313.7 h34" stroke="#808080" stroke-width="2" fill="none"/><path d="M2935.2,1261.6 H2949.2 M2935.2,1244.6 v34 M2949.2,1244.6 v34" stroke="#808080" stroke-width="2" fill="none"/><circle cx="2942.2" cy="1261.6" r="13.2" fill="#ABD578" stroke="#000" stroke-width="2.6"/>
<path d="M3072.2,1131.9 V1246.6 M3055.2,1131.9 h34 M3055.2,1246.6 h34" stroke="#808080" stroke-width="2" fill="none"/><path d="M3036.9,1192.4 H3105.5 M3036.9,1175.4 v34 M3105.5,1175.4 v34" stroke="#808080" stroke-width="2" fill="none"/><circle cx="3072.2" cy="1192.4" r="13.2" fill="#ABD578" stroke="#000" stroke-width="2.6"/>
<path d="M3218.7,1093.1 V1271.6 M3201.7,1093.1 h34 M3201.7,1271.6 h34" stroke="#808080" stroke-width="2" fill="none"/><path d="M3196.4,1152.8 H3242.5 M3196.4,1135.8 v34 M3242.5,1135.8 v34" stroke="#808080" stroke-width="2" fill="none"/><circle cx="3218.7" cy="1152.8" r="13.2" fill="#ABD578" stroke="#000" stroke-width="2.6"/>
<path d="M3315.8,1104.8 V1192.9 M3298.8,1104.8 h34 M3298.8,1192.9 h34" stroke="#808080" stroke-width="2" fill="none"/><path d="M3308.8,1144.1 H3322.8 M3308.8,1127.1 v34 M3322.8,1127.1 v34" stroke="#808080" stroke-width="2" fill="none"/><circle cx="3315.8" cy="1144.1" r="13.2" fill="#ABD578" stroke="#000" stroke-width="2.6"/>
<path d="M3551.1,1265 V1371 M3534.1,1265 h34 M3534.1,1371 h34" stroke="#808080" stroke-width="2" fill="none"/><path d="M3500.3,1318.1 H3585.3 M3500.3,1301.1 v34 M3585.3,1301.1 v34" stroke="#808080" stroke-width="2" fill="none"/><circle cx="3551.1" cy="1318.1" r="13.2" fill="#ABD578" stroke="#000" stroke-width="2.6"/>
<path d="M3636.8,1336.3 V1491 M3619.8,1336.3 h34 M3619.8,1491 h34" stroke="#808080" stroke-width="2" fill="none"/><path d="M3610.2,1427.7 H3669.1 M3610.2,1410.7 v34 M3669.1,1410.7 v34" stroke="#808080" stroke-width="2" fill="none"/><circle cx="3636.8" cy="1427.7" r="13.2" fill="#ABD578" stroke="#000" stroke-width="2.6"/>
<path d="M3675.9,1117.4 V1202.3 M3658.9,1117.4 h34 M3658.9,1202.3 h34" stroke="#808080" stroke-width="2" fill="none"/><path d="M3643.3,1160 H3712 M3643.3,1143.0 v34 M3712,1143.0 v34" stroke="#808080" stroke-width="2" fill="none"/><circle cx="3675.9" cy="1160" r="13.2" fill="#ABD578" stroke="#000" stroke-width="2.6"/>
<path d="M3710,940.1 V1035.1 M3693.0,940.1 h34 M3693.0,1035.1 h34" stroke="#808080" stroke-width="2" fill="none"/><path d="M3703.0,964 H3717.0 M3703.0,947.0 v34 M3717.0,947.0 v34" stroke="#808080" stroke-width="2" fill="none"/><circle cx="3710" cy="964" r="13.2" fill="#ABD578" stroke="#000" stroke-width="2.6"/>
<path d="M3830,1237.3 V1335.5 M3813.0,1237.3 h34 M3813.0,1335.5 h34" stroke="#808080" stroke-width="2" fill="none"/><path d="M3806.1,1279.3 H3862.5 M3806.1,1262.3 v34 M3862.5,1262.3 v34" stroke="#808080" stroke-width="2" fill="none"/><circle cx="3830" cy="1279.3" r="13.2" fill="#ABD578" stroke="#000" stroke-width="2.6"/>
<path d="M3886.4,1067.2 V1109.2 M3869.4,1067.2 h34 M3869.4,1109.2 h34" stroke="#808080" stroke-width="2" fill="none"/><path d="M3867.4,1090.2 H3917.3 M3867.4,1073.2 v34 M3917.3,1073.2 v34" stroke="#808080" stroke-width="2" fill="none"/><circle cx="3886.4" cy="1090.2" r="13.2" fill="#ABD578" stroke="#000" stroke-width="2.6"/>
<path d="M3975.1,1084.8 V1141 M3958.1,1084.8 h34 M3958.1,1141 h34" stroke="#808080" stroke-width="2" fill="none"/><path d="M3968.1,1116.5 H3982.1 M3968.1,1099.5 v34 M3982.1,1099.5 v34" stroke="#808080" stroke-width="2" fill="none"/><circle cx="3975.1" cy="1116.5" r="13.2" fill="#ABD578" stroke="#000" stroke-width="2.6"/>
<path d="M4016.6,1049.5 V1090.2 M3999.6,1049.5 h34 M3999.6,1090.2 h34" stroke="#808080" stroke-width="2" fill="none"/><path d="M4009.6,1072 H4023.6 M4009.6,1055.0 v34 M4023.6,1055.0 v34" stroke="#808080" stroke-width="2" fill="none"/><circle cx="4016.6" cy="1072" r="13.2" fill="#ABD578" stroke="#000" stroke-width="2.6"/>
<path d="M2305.1,760.2 V811.7 M2288.1,760.2 h34 M2288.1,811.7 h34" stroke="#808080" stroke-width="2" fill="none"/><path d="M2290.7,788.4 H2322.7 M2290.7,771.4 v34 M2322.7,771.4 v34" stroke="#808080" stroke-width="2" fill="none"/><circle cx="2305.1" cy="788.4" r="13.2" fill="#41A2CB" stroke="#000" stroke-width="2.6"/>
<path d="M2296.2,909.9 V966 M2279.2,909.9 h34 M2279.2,966 h34" stroke="#808080" stroke-width="2" fill="none"/><path d="M2289.2,936.2 H2303.2 M2289.2,919.2 v34 M2303.2,919.2 v34" stroke="#808080" stroke-width="2" fill="none"/><circle cx="2296.2" cy="936.2" r="13.2" fill="#41A2CB" stroke="#000" stroke-width="2.6"/>
<path d="M2498.3,798.1 V838 M2481.3,798.1 h34 M2481.3,838 h34" stroke="#808080" stroke-width="2" fill="none"/><path d="M2477.9,817.1 H2527.6 M2477.9,800.1 v34 M2527.6,800.1 v34" stroke="#808080" stroke-width="2" fill="none"/><circle cx="2498.3" cy="817.1" r="13.2" fill="#41A2CB" stroke="#000" stroke-width="2.6"/>
<path d="M2501.3,924 V976.4 M2484.3,924 h34 M2484.3,976.4 h34" stroke="#808080" stroke-width="2" fill="none"/><path d="M2494.3,941.7 H2508.3 M2494.3,924.7 v34 M2508.3,924.7 v34" stroke="#808080" stroke-width="2" fill="none"/><circle cx="2501.3" cy="941.7" r="13.2" fill="#41A2CB" stroke="#000" stroke-width="2.6"/>
<path d="M2596.8,792.7 V845.6 M2579.8,792.7 h34 M2579.8,845.6 h34" stroke="#808080" stroke-width="2" fill="none"/><path d="M2589.8,821.7 H2603.8 M2589.8,804.7 v34 M2603.8,804.7 v34" stroke="#808080" stroke-width="2" fill="none"/><circle cx="2596.8" cy="821.7" r="13.2" fill="#41A2CB" stroke="#000" stroke-width="2.6"/>
<path d="M2623.1,991.8 V1030.4 M2606.1,991.8 h34 M2606.1,1030.4 h34" stroke="#808080" stroke-width="2" fill="none"/><path d="M2616.1,1004 H2630.1 M2616.1,987.0 v34 M2630.1,987.0 v34" stroke="#808080" stroke-width="2" fill="none"/><circle cx="2623.1" cy="1004" r="13.2" fill="#41A2CB" stroke="#000" stroke-width="2.6"/>
<path d="M2733.8,828.5 V895.5 M2716.8,828.5 h34 M2716.8,895.5 h34" stroke="#808080" stroke-width="2" fill="none"/><path d="M2693.6,865.7 H2805.1 M2693.6,848.7 v34 M2805.1,848.7 v34" stroke="#808080" stroke-width="2" fill="none"/><circle cx="2733.8" cy="865.7" r="13.2" fill="#41A2CB" stroke="#000" stroke-width="2.6"/>
<path d="M2782,899.9 V1118 M2765.0,899.9 h34 M2765.0,1118 h34" stroke="#808080" stroke-width="2" fill="none"/><path d="M2775.0,967.4 H2789.0 M2775.0,950.4 v34 M2789.0,950.4 v34" stroke="#808080" stroke-width="2" fill="none"/><circle cx="2782" cy="967.4" r="13.2" fill="#41A2CB" stroke="#000" stroke-width="2.6"/>
<path d="M2820.4,503.8 V616.3 M2803.4,503.8 h34 M2803.4,616.3 h34" stroke="#808080" stroke-width="2" fill="none"/><path d="M2813.4,554.5 H2827.4 M2813.4,537.5 v34 M2827.4,537.5 v34" stroke="#808080" stroke-width="2" fill="none"/><circle cx="2820.4" cy="554.5" r="13.2" fill="#41A2CB" stroke="#000" stroke-width="2.6"/>
<path d="M2881.2,935.2 V1002.5 M2864.2,935.2 h34 M2864.2,1002.5 h34" stroke="#808080" stroke-width="2" fill="none"/><path d="M2874.2,977.2 H2888.2 M2874.2,960.2 v34 M2888.2,960.2 v34" stroke="#808080" stroke-width="2" fill="none"/><circle cx="2881.2" cy="977.2" r="13.2" fill="#41A2CB" stroke="#000" stroke-width="2.6"/>
<path d="M2938.7,892.6 V967.2 M2921.7,892.6 h34 M2921.7,967.2 h34" stroke="#808080" stroke-width="2" fill="none"/><path d="M2925.7,919.7 H2971.2 M2925.7,902.7 v34 M2971.2,902.7 v34" stroke="#808080" stroke-width="2" fill="none"/><circle cx="2938.7" cy="919.7" r="13.2" fill="#41A2CB" stroke="#000" stroke-width="2.6"/>
<path d="M3030.9,836.4 V950.1 M3013.9,836.4 h34 M3013.9,950.1 h34" stroke="#808080" stroke-width="2" fill="none"/><path d="M3006,895.3 H3048.6 M3006,878.3 v34 M3048.6,878.3 v34" stroke="#808080" stroke-width="2" fill="none"/><circle cx="3030.9" cy="895.3" r="13.2" fill="#41A2CB" stroke="#000" stroke-width="2.6"/>
<path d="M3133.2,874.1 V970.7 M3116.2,874.1 h34 M3116.2,970.7 h34" stroke="#808080" stroke-width="2" fill="none"/><path d="M3126.2,914.3 H3140.2 M3126.2,897.3 v34 M3140.2,897.3 v34" stroke="#808080" stroke-width="2" fill="none"/><circle cx="3133.2" cy="914.3" r="13.2" fill="#41A2CB" stroke="#000" stroke-width="2.6"/>
<path d="M3181.5,1001.9 V1057.3 M3164.5,1001.9 h34 M3164.5,1057.3 h34" stroke="#808080" stroke-width="2" fill="none"/><path d="M3174.5,1028.8 H3188.5 M3174.5,1011.8 v34 M3188.5,1011.8 v34" stroke="#808080" stroke-width="2" fill="none"/><circle cx="3181.5" cy="1028.8" r="13.2" fill="#41A2CB" stroke="#000" stroke-width="2.6"/>
<path d="M3252,959.9 V1010.6 M3235.0,959.9 h34 M3235.0,1010.6 h34" stroke="#808080" stroke-width="2" fill="none"/><path d="M3245.0,985.6 H3259.0 M3245.0,968.6 v34 M3259.0,968.6 v34" stroke="#808080" stroke-width="2" fill="none"/><circle cx="3252" cy="985.6" r="13.2" fill="#41A2CB" stroke="#000" stroke-width="2.6"/>
<path d="M3485.9,846.5 V943.3 M3468.9,846.5 h34 M3468.9,943.3 h34" stroke="#808080" stroke-width="2" fill="none"/><path d="M3478.9,897.5 H3492.9 M3478.9,880.5 v34 M3492.9,880.5 v34" stroke="#808080" stroke-width="2" fill="none"/><circle cx="3485.9" cy="897.5" r="13.2" fill="#41A2CB" stroke="#000" stroke-width="2.6"/>
<path d="M3550,879 V936.8 M3533.0,879 h34 M3533.0,936.8 h34" stroke="#808080" stroke-width="2" fill="none"/><path d="M3543.0,900 H3557.0 M3543.0,883.0 v34 M3557.0,883.0 v34" stroke="#808080" stroke-width="2" fill="none"/><circle cx="3550" cy="900" r="13.2" fill="#41A2CB" stroke="#000" stroke-width="2.6"/>
<path d="M3538.9,1149.4 V1218.3 M3521.9,1149.4 h34 M3521.9,1218.3 h34" stroke="#808080" stroke-width="2" fill="none"/><path d="M3531.9,1185.2 H3545.9 M3531.9,1168.2 v34 M3545.9,1168.2 v34" stroke="#808080" stroke-width="2" fill="none"/><circle cx="3538.9" cy="1185.2" r="13.2" fill="#41A2CB" stroke="#000" stroke-width="2.6"/>
<path d="M3703.8,932 V1002 M3686.8,932 h34 M3686.8,1002 h34" stroke="#808080" stroke-width="2" fill="none"/><path d="M3646.8,968.7 H3739.1 M3646.8,951.7 v34 M3739.1,951.7 v34" stroke="#808080" stroke-width="2" fill="none"/><circle cx="3703.8" cy="968.7" r="13.2" fill="#41A2CB" stroke="#000" stroke-width="2.6"/>
<path d="M3691.6,976.8 V1056.9 M3674.6,976.8 h34 M3674.6,1056.9 h34" stroke="#808080" stroke-width="2" fill="none"/><path d="M3684.6,1015.6 H3698.6 M3684.6,998.6 v34 M3698.6,998.6 v34" stroke="#808080" stroke-width="2" fill="none"/><circle cx="3691.6" cy="1015.6" r="13.2" fill="#41A2CB" stroke="#000" stroke-width="2.6"/>
<path d="M3885.6,679.2 V885.3 M3868.6,679.2 h34 M3868.6,885.3 h34" stroke="#808080" stroke-width="2" fill="none"/><path d="M3792.8,782.9 H3915.4 M3792.8,765.9 v34 M3915.4,765.9 v34" stroke="#808080" stroke-width="2" fill="none"/><circle cx="3885.6" cy="782.9" r="13.2" fill="#41A2CB" stroke="#000" stroke-width="2.6"/>
<path d="M4066,808.5 V906.7 M4049.0,808.5 h34 M4049.0,906.7 h34" stroke="#808080" stroke-width="2" fill="none"/><path d="M4059.0,858.7 H4073.0 M4059.0,841.7 v34 M4073.0,841.7 v34" stroke="#808080" stroke-width="2" fill="none"/><circle cx="4066" cy="858.7" r="13.2" fill="#41A2CB" stroke="#000" stroke-width="2.6"/>
<line x1="284.1" y1="169.4" x2="442.3" y2="169.4" stroke="#28B473" stroke-width="9.5"/>
<line x1="332.2" y1="243.4" x2="442.3" y2="243.4" stroke="#CACA66" stroke-width="7.3" stroke-dasharray="49 24.5" stroke-dashoffset="0"/>
<line x1="332.2" y1="316.8" x2="442.3" y2="316.8" stroke="#ABD578" stroke-width="7.3" stroke-dasharray="49 24.5" stroke-dashoffset="0"/>
<line x1="332.2" y1="391.2" x2="442.3" y2="391.2" stroke="#41A2CB" stroke-width="7.3"/>
<circle cx="284.1" cy="243.4" r="16.8" fill="#CACA66" stroke="#000" stroke-width="2.3"/>
<circle cx="284.1" cy="315.1" r="16.8" fill="#ABD578" stroke="#000" stroke-width="2.3"/>
<circle cx="284.1" cy="391.2" r="16.8" fill="#41A2CB" stroke="#000" stroke-width="2.3"/>
<text x="454.9" y="193.1" font-size="85" textLength="521.3" lengthAdjust="spacingAndGlyphs" fill="#060708">modern valley</text>
<text x="456.6" y="266.9" font-size="85" textLength="552.9" lengthAdjust="spacingAndGlyphs" fill="#060708">low Deweyville</text>
<text x="456.5" y="341.0" font-size="85" textLength="890.8" lengthAdjust="spacingAndGlyphs" fill="#060708">intermediate Deweyville</text>
<text x="456.4" y="414.8" font-size="85" textLength="585.7" lengthAdjust="spacingAndGlyphs" fill="#060708">high Deweyville</text>
<path d="M1332.5,1155.2 L1333.0,1152.5 L1333.5,1155.9 L1334.0,1153.7 L1334.5,1156.0 L1335.0,1158.0 L1335.5,1157.9 L1336.0,1154.0 L1336.5,1157.8 L1337.0,1153.9 L1337.5,1159.0 L1338.0,1147.2 L1338.5,1135.3 L1339.0,1158.2 L1339.5,1149.8 L1340.0,1158.9 L1340.5,1157.0 L1341.0,1160.3 L1341.5,1155.1 L1342.0,1154.0 L1342.5,1143.2 L1343.0,1156.9 L1343.5,1157.9 L1344.0,1143.8 L1344.5,1155.4 L1345.0,1156.8 L1345.5,1152.6 L1346.0,1122.0 L1346.5,1097.0 L1347.0,1072.0 L1347.5,1097.0 L1348.0,1122.0 L1348.5,1158.5 L1349.0,1125.8 L1349.5,1157.9 L1350.0,1159.1 L1350.5,1160.4 L1351.0,1161.7 L1351.5,1164.2 L1352.0,1161.6 L1352.5,1167.1 L1353.0,1167.7 L1353.5,1167.4 L1354.0,1167.3 L1354.5,1165.8 L1355.0,1151.5 L1355.5,1167.3 L1356.0,1152.7 L1356.5,1172.0 L1357.0,1132.5 L1357.5,1170.9 L1358.0,1170.3 L1358.5,1171.4 L1359.0,1168.1 L1359.5,1171.9 L1360.0,1152.3 L1360.5,1170.3 L1361.0,1176.6 L1361.5,1171.6 L1362.0,1176.7 L1362.5,1176.0 L1363.0,1177.0 L1363.5,1163.5 L1364.0,1175.1 L1364.5,1176.5 L1365.0,1175.4 L1365.5,1178.2 L1366.0,1146.6 L1366.5,1177.8 L1367.0,1180.1 L1367.5,1179.2 L1368.0,1160.1 L1368.5,1178.3 L1369.0,1177.4 L1369.5,1156.0 L1370.0,1164.6 L1370.5,1178.7 L1371.0,1183.9 L1371.5,1183.8 L1372.0,1180.3 L1372.5,1181.5 L1373.0,1174.7 L1373.5,1182.4 L1374.0,1154.1 L1374.5,1166.3 L1375.0,1181.8 L1375.5,1172.2 L1376.0,1162.7 L1376.5,1186.5 L1377.0,1184.6 L1377.5,1181.5 L1378.0,1183.8 L1378.5,1181.5 L1379.0,1187.2 L1379.5,1181.3 L1380.0,1151.4 L1380.5,1184.8 L1381.0,1183.2 L1381.5,1182.3 L1382.0,1182.0 L1382.5,1185.1 L1383.0,1186.4 L1383.5,1182.6 L1384.0,1177.7 L1384.5,1168.5 L1385.0,1186.0 L1385.5,1174.9 L1386.0,1190.8 L1386.5,1184.6 L1387.0,1187.1 L1387.5,1187.7 L1388.0,1176.5 L1388.5,1189.4 L1389.0,1187.3 L1389.5,1175.0 L1390.0,1150.0 L1390.5,1175.0 L1391.0,1189.5 L1391.5,1188.8 L1392.0,1188.8 L1392.5,1186.6 L1393.0,1189.2 L1393.5,1189.2 L1394.0,1190.3 L1394.5,1186.6 L1395.0,1178.2 L1395.5,1187.7 L1396.0,1187.0 L1396.5,1182.2 L1397.0,1186.5 L1397.5,1187.0 L1398.0,1192.3 L1398.5,1192.1 L1399.0,1190.3 L1399.5,1193.6 L1400.0,1155.2 L1400.5,1190.4 L1401.0,1189.5 L1401.5,1191.9 L1402.0,1190.9 L1402.5,1191.3 L1403.0,1190.4 L1403.5,1181.8 L1404.0,1193.8 L1404.5,1185.7 L1405.0,1184.9 L1405.5,1183.6 L1406.0,1184.7 L1406.5,1191.2 L1407.0,1190.5 L1407.5,1193.7 L1408.0,1194.1 L1408.5,1190.1 L1409.0,1185.1 L1409.5,1183.2 L1410.0,1189.9 L1410.5,1178.3 L1411.0,1192.0 L1411.5,1190.3 L1412.0,1192.6 L1412.5,1184.2 L1413.0,1177.4 L1413.5,1185.4 L1414.0,1185.0 L1414.5,1188.1 L1415.0,1158.0 L1415.5,1133.0 L1416.0,1108.0 L1416.5,1133.0 L1417.0,1147.7 L1417.5,1183.8 L1418.0,1183.1 L1418.5,1192.2 L1419.0,1182.5 L1419.5,1180.1 L1420.0,1186.7 L1420.5,1181.8 L1421.0,1191.6 L1421.5,1154.9 L1422.0,1187.0 L1422.5,1182.5 L1423.0,1182.9 L1423.5,1184.0 L1424.0,1147.2 L1424.5,1184.0 L1425.0,1176.7 L1425.5,1185.7 L1426.0,1174.3 L1426.5,1169.9 L1427.0,1151.8 L1427.5,1182.7 L1428.0,1176.8 L1428.5,1175.5 L1429.0,1179.7 L1429.5,1172.6 L1430.0,1177.8 L1430.5,1178.0 L1431.0,1175.0 L1431.5,1146.4 L1432.0,1173.0 L1432.5,1180.7 L1433.0,1178.2 L1433.5,1165.2 L1434.0,1177.0 L1434.5,1174.1 L1435.0,1171.4 L1435.5,1167.1 L1436.0,1160.1 L1436.5,1169.6 L1437.0,1147.9 L1437.5,1162.4 L1438.0,1165.0 L1438.5,1155.0 L1439.0,1158.9 L1439.5,1162.4 L1440.0,1157.5 L1440.5,1157.7 L1441.0,1145.9 L1441.5,1149.3 L1442.0,1149.0 L1442.5,1132.5 L1443.0,1150.5 L1443.5,1154.6 L1444.0,1152.3 L1444.5,1152.7 L1445.0,1156.7 L1445.5,1153.8 L1446.0,1159.4 L1446.5,1156.0 L1447.0,1149.9 L1447.5,1161.1 L1448.0,1152.5 L1448.5,1154.2 L1449.0,1159.3 L1449.5,1158.0 L1450.0,1156.0 L1450.5,1164.0 L1451.0,1162.4 L1451.5,1169.3 L1452.0,1179.5 L1452.5,1182.3 L1453.0,1175.2 L1453.5,1182.1 L1454.0,1178.2 L1454.5,1188.9 L1455.0,1191.6 L1455.5,1126.8 L1456.0,1177.0 L1456.5,1199.4 L1457.0,1146.4 L1457.5,1180.2 L1458.0,1200.2 L1458.5,1186.7 L1459.0,1184.0 L1459.5,1186.3 L1460.0,1203.3 L1460.5,1195.5 L1461.0,1195.3 L1461.5,1187.5 L1462.0,1201.1 L1462.5,1199.0 L1463.0,1199.9 L1463.5,1195.9 L1464.0,1193.9 L1464.5,1199.7 L1465.0,1179.8 L1465.5,1188.5 L1466.0,1141.0 L1466.5,1185.9 L1467.0,1187.0 L1467.5,1185.0 L1468.0,1159.0 L1468.5,1186.9 L1469.0,1192.6 L1469.5,1187.4 L1470.0,1179.0 L1470.5,1178.2 L1471.0,1176.4 L1471.5,1191.3 L1472.0,1182.4 L1472.5,1189.5 L1473.0,1124.1 L1473.5,1165.0 L1474.0,1140.0 L1474.5,1160.3 L1475.0,1171.4 L1475.5,1186.0 L1476.0,1153.8 L1476.5,1169.3 L1477.0,1168.6 L1477.5,1164.6 L1478.0,1109.3 L1478.5,1166.5 L1479.0,1181.0 L1479.5,1178.1 L1480.0,1168.3 L1480.5,1161.7 L1481.0,1162.9 L1481.5,1177.6 L1482.0,1170.1 L1482.5,1179.6 L1483.0,1175.1 L1483.5,1175.4 L1484.0,1166.2 L1484.5,1140.8 L1485.0,1174.1 L1485.5,1096.4 L1486.0,1168.3 L1486.5,1165.2 L1487.0,1175.3 L1487.5,1178.4 L1488.0,1166.0 L1488.5,1175.1 L1489.0,1159.3 L1489.5,1161.5 L1490.0,1175.8 L1490.5,1161.2 L1491.0,1155.4 L1491.5,1164.9 L1492.0,1154.3 L1492.5,1177.0 L1493.0,1157.4 L1493.5,1166.1 L1494.0,1164.5 L1494.5,1167.6 L1495.0,1155.6 L1495.5,1145.6 L1496.0,1144.4 L1496.5,1165.0 L1497.0,1173.3 L1497.5,1179.3 L1498.0,1166.0 L1498.5,1164.4 L1499.0,1158.0 L1499.5,1133.0 L1500.0,1108.0 L1500.5,1133.0 L1501.0,1158.0 L1501.5,1179.2 L1502.0,1161.6 L1502.5,1172.0 L1503.0,1171.1 L1503.5,1157.6 L1504.0,1160.7 L1504.5,1176.8 L1505.0,1148.3 L1505.5,1178.4 L1506.0,1161.1 L1506.5,1140.0 L1507.0,1115.0 L1507.5,1140.0 L1508.0,1154.9 L1508.5,1174.3 L1509.0,1158.8 L1509.5,1161.2 L1510.0,1182.6 L1510.5,1164.1 L1511.0,1174.4 L1511.5,1169.0 L1512.0,1156.3 L1512.5,1171.6 L1513.0,1161.5 L1513.5,1174.1 L1514.0,1122.6 L1514.5,1164.2 L1515.0,1181.7 L1515.5,1173.3 L1516.0,1145.0 L1516.5,1120.0 L1517.0,1095.0 L1517.5,1120.0 L1518.0,1145.0 L1518.5,1157.4 L1519.0,1165.3 L1519.5,1176.9 L1520.0,1175.5 L1520.5,1167.5 L1521.0,1175.8 L1521.5,1174.8 L1522.0,1147.2 L1522.5,1173.2 L1523.0,1170.5 L1523.5,1179.9 L1524.0,1184.8 L1524.5,1182.5 L1525.0,1187.0 L1525.5,1182.1 L1526.0,1177.1 L1526.5,1125.9 L1527.0,1161.1 L1527.5,1172.9 L1528.0,1171.6 L1528.5,1183.8 L1529.0,1172.9 L1529.5,1174.5 L1530.0,1175.4 L1530.5,1166.5 L1531.0,1117.9 L1531.5,1174.0 L1532.0,1161.5 L1532.5,1169.5 L1533.0,1164.3 L1533.5,1182.0 L1534.0,1186.3 L1534.5,1191.3 L1535.0,1187.0 L1535.5,1151.5 L1536.0,1183.1 L1536.5,1147.2 L1537.0,1182.9 L1537.5,1146.5 L1538.0,1179.2 L1538.5,1147.3 L1539.0,1177.5 L1539.5,1187.7 L1540.0,1182.9 L1540.5,1193.6 L1541.0,1163.1 L1541.5,1190.9 L1542.0,1188.2 L1542.5,1179.4 L1543.0,1195.1 L1543.5,1153.1 L1544.0,1199.8 L1544.5,1194.7 L1545.0,1201.6 L1545.5,1186.7 L1546.0,1184.5 L1546.5,1194.6 L1547.0,1181.4 L1547.5,1152.4 L1548.0,1190.8 L1548.5,1129.0 L1549.0,1191.3 L1549.5,1191.5 L1550.0,1199.5 L1550.5,1200.1 L1551.0,1188.9 L1551.5,1136.0 L1552.0,1184.7 L1552.5,1200.2 L1553.0,1188.7 L1553.5,1197.3 L1554.0,1122.9 L1554.5,1197.0 L1555.0,1184.9 L1555.5,1190.7 L1556.0,1188.1 L1556.5,1189.7 L1557.0,1188.5 L1557.5,1184.1 L1558.0,1198.4 L1558.5,1194.1 L1559.0,1183.9 L1559.5,1183.7 L1560.0,1195.4 L1560.5,1193.4 L1561.0,1183.4 L1561.5,1180.1 L1562.0,1154.0 L1562.5,1187.3 L1563.0,1183.9 L1563.5,1182.7 L1564.0,1178.5 L1564.5,1181.6 L1565.0,1191.3 L1565.5,1118.3 L1566.0,1168.0 L1566.5,1143.0 L1567.0,1118.0 L1567.5,1143.0 L1568.0,1168.0 L1568.5,1189.3 L1569.0,1189.7 L1569.5,1176.7 L1570.0,1175.2 L1570.5,1184.8 L1571.0,1158.9 L1571.5,1178.8 L1572.0,1187.5 L1572.5,1147.1 L1573.0,1178.9 L1573.5,1184.8 L1574.0,1183.1 L1574.5,1177.1 L1575.0,1187.9 L1575.5,1174.5 L1576.0,1186.0 L1576.5,1177.1 L1577.0,1180.6 L1577.5,1138.8 L1578.0,1178.6 L1578.5,1185.3 L1579.0,1122.0 L1579.5,1170.8 L1580.0,1176.6 L1580.5,1139.8 L1581.0,1183.1 L1581.5,1174.6 L1582.0,1181.0 L1582.5,1186.4 L1583.0,1175.4 L1583.5,1174.7 L1584.0,1174.5 L1584.5,1140.3 L1585.0,1131.7 L1585.5,1179.7 L1586.0,1176.0 L1586.5,1188.8 L1587.0,1186.3 L1587.5,1186.6 L1588.0,1184.7 L1588.5,1182.1 L1589.0,1174.8 L1589.5,1184.6 L1590.0,1183.1 L1590.5,1185.1 L1591.0,1188.7 L1591.5,1191.8 L1592.0,1184.8 L1592.5,1179.6 L1593.0,1187.2 L1593.5,1184.3 L1594.0,1189.2 L1594.5,1175.0 L1595.0,1189.4 L1595.5,1179.8 L1596.0,1193.3 L1596.5,1181.4 L1597.0,1181.1 L1597.5,1189.1 L1598.0,1186.7 L1598.5,1181.2 L1599.0,1180.6 L1599.5,1193.6 L1600.0,1180.1 L1600.5,1178.6 L1601.0,1180.9 L1601.5,1183.6 L1602.0,1196.1 L1602.5,1145.7 L1603.0,1189.7 L1603.5,1194.5 L1604.0,1188.7 L1604.5,1185.4 L1605.0,1182.3 L1605.5,1193.7 L1606.0,1197.1 L1606.5,1172.4 L1607.0,1181.6 L1607.5,1183.2 L1608.0,1201.4 L1608.5,1153.2 L1609.0,1189.8 L1609.5,1197.7 L1610.0,1193.5 L1610.5,1132.5 L1611.0,1169.9 L1611.5,1189.5 L1612.0,1181.0 L1612.5,1153.4 L1613.0,1127.8 L1613.5,1178.1 L1614.0,1194.5 L1614.5,1204.2 L1615.0,1203.6 L1615.5,1195.5 L1616.0,1202.0 L1616.5,1146.0 L1617.0,1201.7 L1617.5,1191.3 L1618.0,1195.9 L1618.5,1196.6 L1619.0,1135.5 L1619.5,1205.4 L1620.0,1163.0 L1620.5,1193.5 L1621.0,1195.6 L1621.5,1187.4 L1622.0,1192.9 L1622.5,1201.9 L1623.0,1192.9 L1623.5,1188.0 L1624.0,1191.2 L1624.5,1192.0 L1625.0,1200.0 L1625.5,1192.2 L1626.0,1193.2 L1626.5,1198.4 L1627.0,1179.3 L1627.5,1192.9 L1628.0,1198.5 L1628.5,1198.3 L1629.0,1199.8 L1629.5,1189.0 L1630.0,1164.0 L1630.5,1189.0 L1631.0,1191.1 L1631.5,1193.3 L1632.0,1190.0 L1632.5,1190.8 L1633.0,1194.0 L1633.5,1197.7 L1634.0,1191.8 L1634.5,1196.5 L1635.0,1188.2 L1635.5,1186.3 L1636.0,1195.7 L1636.5,1200.2 L1637.0,1185.4 L1637.5,1198.0 L1638.0,1198.9 L1638.5,1193.7 L1639.0,1189.8 L1639.5,1182.0 L1640.0,1185.8 L1640.5,1186.7 L1641.0,1129.0 L1641.5,1129.7 L1642.0,1173.5 L1642.5,1187.9 L1643.0,1189.7 L1643.5,1189.9 L1644.0,1179.5 L1644.5,1188.9 L1645.0,1189.5 L1645.5,1196.8 L1646.0,1189.1 L1646.5,1187.4 L1647.0,1188.1 L1647.5,1183.1 L1648.0,1175.5 L1648.5,1184.1 L1649.0,1182.8 L1649.5,1191.2 L1650.0,1155.5 L1650.5,1192.9 L1651.0,1123.3 L1651.5,1182.2 L1652.0,1182.9 L1652.5,1134.2 L1653.0,1194.6 L1653.5,1159.6 L1654.0,1186.3 L1654.5,1182.5 L1655.0,1181.9 L1655.5,1188.3 L1656.0,1175.5 L1656.5,1157.2 L1657.0,1184.1 L1657.5,1187.8 L1658.0,1178.0 L1658.5,1185.7 L1659.0,1189.0 L1659.5,1147.6 L1660.0,1177.1 L1660.5,1142.0 L1661.0,1164.9 L1661.5,1182.4 L1662.0,1190.0 L1662.5,1175.7 L1663.0,1189.4 L1663.5,1186.3 L1664.0,1188.2 L1664.5,1189.3 L1665.0,1177.6 L1665.5,1176.6 L1666.0,1176.8 L1666.5,1180.0 L1667.0,1174.3 L1667.5,1176.9 L1668.0,1186.2 L1668.5,1183.0 L1669.0,1173.7 L1669.5,1162.9 L1670.0,1183.9 L1670.5,1180.2 L1671.0,1119.4 L1671.5,1176.2 L1672.0,1184.8 L1672.5,1184.5 L1673.0,1178.1 L1673.5,1176.7 L1674.0,1171.2 L1674.5,1132.5 L1675.0,1183.2 L1675.5,1182.6 L1676.0,1179.5 L1676.5,1184.6 L1677.0,1131.4 L1677.5,1178.7 L1678.0,1122.6 L1678.5,1172.3 L1679.0,1104.5 L1679.5,1176.2 L1680.0,1182.4 L1680.5,1183.8 L1681.0,1186.3 L1681.5,1179.4 L1682.0,1175.4 L1682.5,1183.5 L1683.0,1174.2 L1683.5,1179.6 L1684.0,1184.2 L1684.5,1179.8 L1685.0,1179.0 L1685.5,1184.6 L1686.0,1176.9 L1686.5,1175.1 L1687.0,1180.2 L1687.5,1184.1 L1688.0,1175.2 L1688.5,1157.8 L1689.0,1176.5 L1689.5,1166.6 L1690.0,1160.6 L1690.5,1138.8 L1691.0,1176.6 L1691.5,1183.0 L1692.0,1183.8 L1692.5,1175.6 L1693.0,1185.9 L1693.5,1189.2 L1694.0,1181.2 L1694.5,1182.0 L1695.0,1182.2 L1695.5,1154.0 L1696.0,1155.7 L1696.5,1193.4 L1697.0,1183.3 L1697.5,1132.9 L1698.0,1184.6 L1698.5,1195.6 L1699.0,1192.7 L1699.5,1195.5 L1700.0,1162.3 L1700.5,1177.4 L1701.0,1155.3 L1701.5,1190.8 L1702.0,1137.8 L1702.5,1202.0 L1703.0,1203.8 L1703.5,1201.0 L1704.0,1195.5 L1704.5,1194.4 L1705.0,1161.2 L1705.5,1200.4 L1706.0,1196.0 L1706.5,1179.7 L1707.0,1188.2 L1707.5,1196.6 L1708.0,1192.8 L1708.5,1199.5 L1709.0,1198.2 L1709.5,1199.7 L1710.0,1204.8 L1710.5,1194.6 L1711.0,1184.9 L1711.5,1194.3 L1712.0,1167.3 L1712.5,1194.8 L1713.0,1141.1 L1713.5,1200.2 L1714.0,1181.5 L1714.5,1192.2 L1715.0,1181.7 L1715.5,1189.9 L1716.0,1193.5 L1716.5,1189.9 L1717.0,1160.3 L1717.5,1196.2 L1718.0,1191.3 L1718.5,1193.8 L1719.0,1190.1 L1719.5,1199.4 L1720.0,1194.0 L1720.5,1186.0 L1721.0,1194.5 L1721.5,1192.2 L1722.0,1198.0 L1722.5,1199.4 L1723.0,1189.2 L1723.5,1193.3 L1724.0,1186.2 L1724.5,1195.4 L1725.0,1187.5 L1725.5,1191.0 L1726.0,1189.4 L1726.5,1161.5 L1727.0,1182.7 L1727.5,1191.3 L1728.0,1187.4 L1728.5,1187.5 L1729.0,1183.1 L1729.5,1179.1 L1730.0,1171.8 L1730.5,1183.8 L1731.0,1177.7 L1731.5,1183.0 L1732.0,1187.0 L1732.5,1177.2 L1733.0,1187.0 L1733.5,1136.5 L1734.0,1177.7 L1734.5,1183.2 L1735.0,1140.2 L1735.5,1172.0 L1736.0,1169.7 L1736.5,1178.8 L1737.0,1170.6 L1737.5,1175.0 L1738.0,1177.9 L1738.5,1161.2 L1739.0,1174.8 L1739.5,1164.0 L1740.0,1176.5 L1740.5,1161.2 L1741.0,1166.3 L1741.5,1173.7 L1742.0,1170.4 L1742.5,1172.4 L1743.0,1164.1 L1743.5,1169.1 L1744.0,1172.9 L1744.5,1171.5 L1745.0,1166.1 L1745.5,1168.4 L1746.0,1166.6 L1746.5,1150.9 L1747.0,1110.7 L1747.5,1163.8 L1748.0,1170.9 L1748.5,1172.0 L1749.0,1114.1 L1749.5,1165.3 L1750.0,1164.8 L1750.5,1175.5 L1751.0,1162.6 L1751.5,1110.4 L1752.0,1166.6 L1752.5,1175.2 L1753.0,1160.7 L1753.5,1141.1 L1754.0,1176.4 L1754.5,1176.2 L1755.0,1176.1 L1755.5,1162.7 L1756.0,1172.5 L1756.5,1159.3 L1757.0,1175.5 L1757.5,1133.5 L1758.0,1178.5 L1758.5,1173.1 L1759.0,1168.8 L1759.5,1163.3 L1760.0,1163.8 L1760.5,1173.5 L1761.0,1173.0 L1761.5,1166.1 L1762.0,1174.6 L1762.5,1173.8 L1763.0,1165.7 L1763.5,1134.2 L1764.0,1169.2 L1764.5,1164.4 L1765.0,1174.8 L1765.5,1174.0 L1766.0,1154.5 L1766.5,1162.7 L1767.0,1161.9 L1767.5,1172.0 L1768.0,1173.1 L1768.5,1167.4 L1769.0,1168.8 L1769.5,1150.2 L1770.0,1160.5 L1770.5,1151.5 L1771.0,1172.1 L1771.5,1173.0 L1772.0,1161.0 L1772.5,1171.0 L1773.0,1163.0 L1773.5,1167.9 L1774.0,1166.6 L1774.5,1167.2 L1775.0,1163.0 L1775.5,1138.0 L1776.0,1113.0 L1776.5,1138.0 L1777.0,1163.0 L1777.5,1158.9 L1778.0,1166.5 L1778.5,1154.9 L1779.0,1167.2 L1779.5,1154.2 L1780.0,1151.5 L1780.5,1167.6 L1781.0,1158.9 L1781.5,1163.7 L1782.0,1147.7 L1782.5,1164.4 L1783.0,1128.1 L1783.5,1125.9 L1784.0,1156.5 L1784.5,1160.0 L1785.0,1170.6 L1785.5,1169.2 L1786.0,1160.2 L1786.5,1165.7 L1787.0,1116.4 L1787.5,1171.6 L1788.0,1168.5 L1788.5,1171.5 L1789.0,1097.0 L1789.5,1167.1 L1790.0,1173.7 L1790.5,1164.1 L1791.0,1162.1 L1791.5,1169.3 L1792.0,1159.4 L1792.5,1167.3 L1793.0,1176.4 L1793.5,1162.0 L1794.0,1166.7 L1794.5,1166.9 L1795.0,1176.8 L1795.5,1166.8 L1796.0,1169.2 L1796.5,1154.8 L1797.0,1172.2 L1797.5,1157.8 L1798.0,1169.2 L1798.5,1179.1 L1799.0,1164.8 L1799.5,1146.5 L1800.0,1179.1 L1800.5,1171.1 L1801.0,1132.4 L1801.5,1159.0 L1802.0,1173.3 L1802.5,1175.8 L1803.0,1178.5 L1803.5,1167.9 L1804.0,1119.8 L1804.5,1138.6 L1805.0,1167.0 L1805.5,1166.4 L1806.0,1177.9 L1806.5,1177.2 L1807.0,1179.0 L1807.5,1169.1 L1808.0,1153.9 L1808.5,1184.7 L1809.0,1126.0 L1809.5,1172.1 L1810.0,1185.5 L1810.5,1153.3 L1811.0,1162.7 L1811.5,1176.8 L1812.0,1177.6 L1812.5,1173.0 L1813.0,1181.6 L1813.5,1175.9 L1814.0,1184.4 L1814.5,1156.3 L1815.0,1186.3 L1815.5,1180.2 L1816.0,1188.5 L1816.5,1179.1 L1817.0,1186.3 L1817.5,1174.8 L1818.0,1182.2 L1818.5,1175.2 L1819.0,1186.1 L1819.5,1186.9 L1820.0,1188.1 L1820.5,1174.9 L1821.0,1176.7 L1821.5,1172.4 L1822.0,1181.0 L1822.5,1177.4 L1823.0,1180.8 L1823.5,1171.2 L1824.0,1180.4 L1824.5,1169.8 L1825.0,1177.7 L1825.5,1169.1 L1826.0,1182.0 L1826.5,1180.1 L1827.0,1167.5 L1827.5,1174.0 L1828.0,1178.5 L1828.5,1160.9 L1829.0,1154.5 L1829.5,1172.5 L1830.0,1172.4 L1830.5,1167.3 L1831.0,1158.2 L1831.5,1172.3 L1832.0,1161.9 L1832.5,1159.2 L1833.0,1174.4 L1833.5,1163.2 L1834.0,1166.0 L1834.5,1159.9 L1835.0,1169.9 L1835.5,1166.9 L1836.0,1170.8 L1836.5,1158.9 L1837.0,1159.9 L1837.5,1153.5 L1838.0,1157.4 L1838.5,1161.3 L1839.0,1157.9 L1839.5,1157.7 L1840.0,1160.5 L1840.5,1166.4 L1841.0,1160.4 L1841.5,1154.2 L1842.0,1098.6 L1842.5,1149.5 L1843.0,1117.0 L1843.5,1149.1 L1844.0,1153.2 L1844.5,1153.7 L1845.0,1160.9 L1845.5,1162.2 L1846.0,1156.1 L1846.5,1159.7 L1847.0,1147.1 L1847.5,1144.7 L1848.0,1121.5 L1848.5,1145.8 L1849.0,1140.8 L1849.5,1150.0 L1850.0,1125.0 L1850.5,1150.0 L1851.0,1138.7 L1851.5,1154.6 L1852.0,1152.3 L1852.5,1153.6 L1853.0,1155.3 L1853.5,1139.6 L1854.0,1143.8 L1854.5,1139.1 L1855.0,1155.1 L1855.5,1142.0 L1856.0,1149.9 L1856.5,1137.4 L1857.0,1138.6 L1857.5,1152.0 L1858.0,1142.8 L1858.5,1146.8 L1859.0,1144.1 L1859.5,1137.0 L1860.0,1139.4 L1860.5,1145.1 L1861.0,1145.9 L1861.5,1136.6 L1862.0,1142.0 L1862.5,1144.3 L1863.0,1143.3 L1863.5,1117.4 L1864.0,1127.7 L1864.5,1129.2 L1865.0,1131.2 L1865.5,1121.6 L1866.0,1141.2 L1866.5,1118.3 L1867.0,1125.2 L1867.5,1134.3 L1868.0,1134.6 L1868.5,1120.1 L1869.0,1139.0 L1869.5,1128.0 L1870.0,1128.9 L1870.5,1135.3 L1871.0,1133.9 L1871.5,1130.9 L1872.0,1140.6 L1872.5,1129.9 L1873.0,1109.0 L1873.5,1134.0 L1874.0,1123.7 L1874.5,1139.2 L1875.0,1132.2 L1875.5,1130.0 L1876.0,1125.9 L1876.5,1123.0 L1877.0,1119.6 L1877.5,1132.7 L1878.0,1106.3 L1878.5,1133.3 L1879.0,1132.0 L1879.5,1089.9 L1880.0,1131.7 L1880.5,1111.6 L1881.0,1123.2 L1881.5,1083.9 L1882.0,1127.8 L1882.5,1120.2 L1883.0,1120.7 L1883.5,1120.9 L1884.0,1118.8 L1884.5,1136.4 L1885.0,1116.8 L1885.5,1129.3 L1886.0,1129.4 L1886.5,1130.8 L1887.0,1115.4 L1887.5,1126.6 L1888.0,1118.2 L1888.5,1133.9 L1889.0,1124.9 L1889.5,1125.2 L1890.0,1117.0 L1890.5,1119.1 L1891.0,1121.5 L1891.5,1087.6 L1892.0,1119.4 L1892.5,1060.1 L1893.0,1119.5 L1893.5,1114.9 L1894.0,1128.2 L1894.5,1122.1 L1895.0,1130.1 L1895.5,1115.0 L1896.0,1130.3 L1896.5,1131.4 L1897.0,1130.0 L1897.5,1122.4 L1898.0,1124.6 L1898.5,1114.4 L1899.0,1130.3 L1899.5,1128.5 L1900.0,1118.7 L1900.5,1118.0 L1901.0,1119.1 L1901.5,1116.0 L1902.0,1126.2 L1902.5,1123.5 L1903.0,1108.5 L1903.5,1111.5 L1904.0,1128.8 L1904.5,1121.7 L1905.0,1115.0 L1905.5,1118.2 L1906.0,1130.2 L1906.5,1125.5 L1907.0,1119.3 L1907.5,1124.2 L1908.0,1115.4 L1908.5,1131.1 L1909.0,1086.7 L1909.5,1121.2 L1910.0,1121.3 L1910.5,1132.9 L1911.0,1117.8 L1911.5,1121.3 L1912.0,1061.3 L1912.5,1128.1 L1913.0,1124.0 L1913.5,1099.0 L1914.0,1074.0 L1914.5,1092.2 L1915.0,1120.9 L1915.5,1125.6 L1916.0,1132.7 L1916.5,1132.0 L1917.0,1132.0 L1917.5,1132.7 L1918.0,1128.0 L1918.5,1129.0 L1919.0,1124.4 L1919.5,1135.5 L1920.0,1130.2 L1920.5,1131.6 L1921.0,1122.5 L1921.5,1137.1 L1922.0,1125.2 L1922.5,1127.1 L1923.0,1124.2 L1923.5,1121.7 L1924.0,1067.5 L1924.5,1135.8 L1925.0,1143.5 L1925.5,1128.3 L1926.0,1108.5 L1926.5,1126.4 L1927.0,1131.3 L1927.5,1119.4 L1928.0,1137.0 L1928.5,1139.7 L1929.0,1089.8 L1929.5,1131.5 L1930.0,1144.6 L1930.5,1130.3 L1931.0,1135.6 L1931.5,1133.4 L1932.0,1128.2 L1932.5,1143.4 L1933.0,1144.4 L1933.5,1127.4 L1934.0,1124.8 L1934.5,1138.2 L1935.0,1125.1 L1935.5,1127.3 L1936.0,1128.2 L1936.5,1143.6 L1937.0,1115.8 L1937.5,1126.2 L1938.0,1071.3 L1938.5,1087.0 L1939.0,1137.1 L1939.5,1140.3 L1940.0,1135.8 L1940.5,1117.2 L1941.0,1121.8 L1941.5,1134.8 L1942.0,1097.2 L1942.5,1127.6 L1943.0,1127.2 L1943.5,1065.5 L1944.0,1139.0 L1944.5,1076.2 L1945.0,1121.5 L1945.5,1126.6 L1946.0,1136.9 L1946.5,1125.8 L1947.0,1136.5 L1947.5,1136.4 L1948.0,1138.0 L1948.5,1093.1 L1949.0,1135.2 L1949.5,1113.8 L1950.0,1130.2 L1950.5,1127.0 L1951.0,1137.1 L1951.5,1131.5 L1952.0,1130.0 L1952.5,1118.3 L1953.0,1132.9 L1953.5,1113.9 L1954.0,1124.2 L1954.5,1122.1 L1955.0,1100.0 L1955.5,1121.2 L1956.0,1122.8 L1956.5,1128.0 L1957.0,1115.8 L1957.5,1128.5 L1958.0,1097.3 L1958.5,1120.3 L1959.0,1115.1 L1959.5,1130.5 L1960.0,1125.9 L1960.5,1126.3 L1961.0,1130.9 L1961.5,1121.0 L1962.0,1125.0 L1962.5,1123.8 L1963.0,1120.1 L1963.5,1126.5 L1964.0,1132.1 L1964.5,1117.8 L1965.0,1125.1 L1965.5,1117.5 L1966.0,1127.5 L1966.5,1121.4 L1967.0,1120.9 L1967.5,1120.8 L1968.0,1118.1 L1968.5,1120.9 L1969.0,1109.1 L1969.5,1112.9 L1970.0,1087.5 L1970.5,1124.4 L1971.0,1132.4 L1971.5,1125.2 L1972.0,1109.5 L1972.5,1120.9 L1973.0,1116.7 L1973.5,1106.8 L1974.0,1054.0 L1974.5,1110.0 L1975.0,1118.7 L1975.5,1115.4 L1976.0,1071.7 L1976.5,1114.7 L1977.0,1106.0 L1977.5,1112.8 L1978.0,1101.1 L1978.5,1110.6 L1979.0,1105.2 L1979.5,1116.3 L1980.0,1092.0 L1980.5,1061.2 L1981.0,1094.0 L1981.5,1044.6 L1982.0,1097.8 L1982.5,1116.8 L1983.0,1072.2 L1983.5,1106.6 L1984.0,1109.7 L1984.5,1067.2 L1985.0,1115.0 L1985.5,1107.2 L1986.0,1060.2 L1986.5,1117.8 L1987.0,975.0 L1987.5,950.0 L1988.0,925.0 L1988.5,950.0 L1989.0,975.0 L1989.5,1107.6 L1990.0,1090.6 L1990.5,1108.2 L1991.0,1123.0 L1991.5,1119.8 L1992.0,1101.5 L1992.5,1116.4 L1993.0,1112.7 L1993.5,1104.7 L1994.0,1116.4 L1994.5,1079.7 L1995.0,1050.1 L1995.5,1098.0 L1996.0,1097.5 L1996.5,1093.3 L1997.0,1103.7 L1997.5,1098.4 L1998.0,1102.3 L1998.5,1086.5 L1999.0,1101.1 L1999.5,1085.0 L2000.0,1081.0 L2000.5,1067.1 L2001.0,1088.3 L2001.5,1088.5 L2002.0,1071.7 L2002.5,1081.9 L2003.0,1080.9 L2003.5,1078.0 L2004.0,1036.7 L2004.5,1052.3 L2005.0,1075.7 L2005.5,1067.5 L2006.0,1075.1 L2006.5,1084.5 L2007.0,1082.2 L2007.5,1079.5 L2008.0,1046.5 L2008.5,1068.6 L2009.0,1082.3 L2009.5,1083.0 L2010.0,1059.7 L2010.5,1081.8 L2011.0,1093.5 L2011.5,1102.5 L2012.0,1104.4 L2012.5,1098.0 L2013.0,1101.5 L2013.5,1096.0 L2014.0,1095.9 L2014.5,1108.9 L2015.0,1114.2 L2015.5,1108.8 L2016.0,1034.9 L2016.5,1109.9 L2017.0,1103.3 L2017.5,1106.3 L2018.0,1112.4 L2018.5,1118.1 L2019.0,1084.4 L2019.5,1049.6 L2020.0,1114.5 L2020.5,1115.1 L2021.0,1060.9 L2021.5,1103.7 L2022.0,1062.0 L2022.5,1118.0 L2023.0,1116.8 L2023.5,1089.9 L2024.0,1108.4 L2024.5,1110.8 L2025.0,1114.2 L2025.5,1048.3 L2026.0,1114.1 L2026.5,1115.1 L2027.0,1118.8 L2027.5,1112.6 L2028.0,1093.0 L2028.5,1094.0 L2029.0,1112.2 L2029.5,1065.1 L2030.0,1090.0 L2030.5,1106.0 L2031.0,1112.8 L2031.5,1106.6 L2032.0,1108.4 L2032.5,1107.8 L2033.0,1105.2 L2033.5,1102.4 L2034.0,1104.6 L2034.5,1119.2 L2035.0,1083.9 L2035.5,1117.0 L2036.0,1109.4 L2036.5,1117.2 L2037.0,1120.3 L2037.5,1120.1 L2038.0,1114.4 L2038.5,1116.5 L2039.0,1123.7 L2039.5,1120.8 L2040.0,1117.6 L2040.5,1115.5 L2041.0,1097.8 L2041.5,1117.0 L2042.0,1120.5 L2042.5,1117.2 L2043.0,1123.8 L2043.5,1116.7 L2044.0,1129.4 L2044.5,1130.0 L2045.0,1087.3 L2045.5,1129.1 L2046.0,1126.7 L2046.5,1120.9 L2047.0,1105.1 L2047.5,1116.8 L2048.0,1097.7 L2048.5,1107.2 L2049.0,1109.5 L2049.5,1037.5 L2050.0,1099.5 L2050.5,1092.6 L2051.0,1099.0 L2051.5,1097.3 L2052.0,1092.7 L2052.5,1100.8 L2053.0,1083.0 L2053.5,1099.7 L2054.0,1094.6 L2054.5,1091.0 L2055.0,1101.3 L2055.5,1030.1 L2056.0,1100.1 L2056.0,1220.9 L2055.5,1235.7 L2055.0,1188.5 L2054.5,1243.3 L2054.0,1258.3 L2053.5,1273.3 L2053.0,1213.4 L2052.5,1219.1 L2052.0,1321.5 L2051.5,1336.5 L2051.0,1351.5 L2050.5,1248.9 L2050.0,1204.7 L2049.5,1194.6 L2049.0,1266.2 L2048.5,1240.6 L2048.0,1239.7 L2047.5,1244.3 L2047.0,1238.0 L2046.5,1361.4 L2046.0,1376.4 L2045.5,1226.9 L2045.0,1264.3 L2044.5,1228.5 L2044.0,1277.9 L2043.5,1292.9 L2043.0,1307.9 L2042.5,1322.9 L2042.0,1324.0 L2041.5,1339.0 L2041.0,1245.6 L2040.5,1284.1 L2040.0,1216.5 L2039.5,1351.2 L2039.0,1284.5 L2038.5,1299.5 L2038.0,1314.5 L2037.5,1218.5 L2037.0,1230.8 L2036.5,1222.5 L2036.0,1228.5 L2035.5,1251.8 L2035.0,1255.7 L2034.5,1298.2 L2034.0,1313.2 L2033.5,1328.2 L2033.0,1250.1 L2032.5,1254.9 L2032.0,1245.7 L2031.5,1226.6 L2031.0,1254.7 L2030.5,1247.3 L2030.0,1243.8 L2029.5,1228.6 L2029.0,1372.9 L2028.5,1234.5 L2028.0,1241.6 L2027.5,1221.8 L2027.0,1250.8 L2026.5,1315.7 L2026.0,1224.2 L2025.5,1215.9 L2025.0,1395.0 L2024.5,1395.0 L2024.0,1395.0 L2023.5,1395.0 L2023.0,1395.0 L2022.5,1395.0 L2022.0,1395.0 L2021.5,1395.0 L2021.0,1395.0 L2020.5,1395.0 L2020.0,1395.0 L2019.5,1395.0 L2019.0,1395.0 L2018.5,1395.0 L2018.0,1395.0 L2017.5,1395.0 L2017.0,1395.0 L2016.5,1395.0 L2016.0,1395.0 L2015.5,1395.0 L2015.0,1395.0 L2014.5,1395.0 L2014.0,1395.0 L2013.5,1395.0 L2013.0,1395.0 L2012.5,1395.0 L2012.0,1395.0 L2011.5,1203.1 L2011.0,1239.5 L2010.5,1193.6 L2010.0,1350.1 L2009.5,1365.1 L2009.0,1380.1 L2008.5,1295.2 L2008.0,1186.4 L2007.5,1228.3 L2007.0,1206.8 L2006.5,1233.8 L2006.0,1281.3 L2005.5,1341.6 L2005.0,1356.6 L2004.5,1232.8 L2004.0,1237.3 L2003.5,1290.7 L2003.0,1305.7 L2002.5,1231.5 L2002.0,1228.8 L2001.5,1247.4 L2001.0,1284.5 L2000.5,1233.0 L2000.0,1271.7 L1999.5,1312.5 L1999.0,1327.5 L1998.5,1253.8 L1998.0,1286.8 L1997.5,1207.7 L1997.0,1239.0 L1996.5,1218.1 L1996.0,1205.9 L1995.5,1375.7 L1995.0,1390.7 L1994.5,1272.1 L1994.0,1287.1 L1993.5,1238.1 L1993.0,1329.0 L1992.5,1364.4 L1992.0,1379.4 L1991.5,1394.4 L1991.0,1306.1 L1990.5,1293.7 L1990.0,1308.7 L1989.5,1323.7 L1989.0,1338.7 L1988.5,1232.0 L1988.0,1215.3 L1987.5,1225.3 L1987.0,1307.2 L1986.5,1322.2 L1986.0,1262.2 L1985.5,1247.5 L1985.0,1362.5 L1984.5,1244.7 L1984.0,1248.2 L1983.5,1296.0 L1983.0,1286.7 L1982.5,1301.7 L1982.0,1232.0 L1981.5,1305.7 L1981.0,1320.7 L1980.5,1335.7 L1980.0,1350.7 L1979.5,1224.3 L1979.0,1277.3 L1978.5,1292.3 L1978.0,1259.1 L1977.5,1289.1 L1977.0,1304.7 L1976.5,1319.7 L1976.0,1334.7 L1975.5,1349.7 L1975.0,1363.2 L1974.5,1247.6 L1974.0,1273.9 L1973.5,1288.9 L1973.0,1330.2 L1972.5,1345.2 L1972.0,1360.2 L1971.5,1375.2 L1971.0,1319.3 L1970.5,1363.1 L1970.0,1378.1 L1969.5,1393.1 L1969.0,1346.4 L1968.5,1361.4 L1968.0,1261.0 L1967.5,1252.6 L1967.0,1257.0 L1966.5,1231.1 L1966.0,1310.2 L1965.5,1249.6 L1965.0,1275.0 L1964.5,1226.7 L1964.0,1250.8 L1963.5,1304.3 L1963.0,1287.9 L1962.5,1361.4 L1962.0,1376.4 L1961.5,1391.4 L1961.0,1288.2 L1960.5,1288.4 L1960.0,1303.4 L1959.5,1291.7 L1959.0,1306.7 L1958.5,1321.7 L1958.0,1336.7 L1957.5,1285.1 L1957.0,1282.8 L1956.5,1265.4 L1956.0,1293.2 L1955.5,1295.4 L1955.0,1285.4 L1954.5,1328.9 L1954.0,1343.9 L1953.5,1316.5 L1953.0,1236.6 L1952.5,1241.1 L1952.0,1246.2 L1951.5,1334.6 L1951.0,1349.6 L1950.5,1364.6 L1950.0,1379.6 L1949.5,1263.1 L1949.0,1283.1 L1948.5,1314.0 L1948.0,1230.1 L1947.5,1250.8 L1947.0,1257.0 L1946.5,1260.7 L1946.0,1316.0 L1945.5,1261.4 L1945.0,1259.4 L1944.5,1266.6 L1944.0,1281.6 L1943.5,1315.0 L1943.0,1330.0 L1942.5,1345.0 L1942.0,1339.3 L1941.5,1272.2 L1941.0,1287.2 L1940.5,1273.4 L1940.0,1262.8 L1939.5,1278.9 L1939.0,1292.8 L1938.5,1307.8 L1938.0,1293.3 L1937.5,1258.6 L1937.0,1253.9 L1936.5,1343.2 L1936.0,1358.2 L1935.5,1373.2 L1935.0,1388.2 L1934.5,1286.1 L1934.0,1233.6 L1933.5,1279.7 L1933.0,1263.9 L1932.5,1233.2 L1932.0,1263.8 L1931.5,1273.6 L1931.0,1257.2 L1930.5,1259.6 L1930.0,1290.1 L1929.5,1277.5 L1929.0,1290.2 L1928.5,1333.8 L1928.0,1348.8 L1927.5,1269.7 L1927.0,1279.6 L1926.5,1277.6 L1926.0,1273.4 L1925.5,1258.0 L1925.0,1256.9 L1924.5,1245.6 L1924.0,1310.0 L1923.5,1338.0 L1923.0,1353.0 L1922.5,1368.0 L1922.0,1300.8 L1921.5,1315.8 L1921.0,1298.4 L1920.5,1313.4 L1920.0,1328.4 L1919.5,1276.4 L1919.0,1257.3 L1918.5,1249.0 L1918.0,1261.2 L1917.5,1274.4 L1917.0,1276.5 L1916.5,1269.6 L1916.0,1241.9 L1915.5,1270.5 L1915.0,1254.7 L1914.5,1225.0 L1914.0,1257.8 L1913.5,1257.8 L1913.0,1357.2 L1912.5,1225.5 L1912.0,1269.2 L1911.5,1250.0 L1911.0,1265.0 L1910.5,1280.0 L1910.0,1282.8 L1909.5,1221.7 L1909.0,1367.1 L1908.5,1382.1 L1908.0,1266.9 L1907.5,1300.5 L1907.0,1314.2 L1906.5,1367.1 L1906.0,1382.1 L1905.5,1334.2 L1905.0,1349.2 L1904.5,1308.8 L1904.0,1289.4 L1903.5,1304.4 L1903.0,1272.7 L1902.5,1237.4 L1902.0,1258.0 L1901.5,1254.9 L1901.0,1213.1 L1900.5,1244.5 L1900.0,1335.9 L1899.5,1350.9 L1899.0,1262.9 L1898.5,1225.4 L1898.0,1233.6 L1897.5,1232.5 L1897.0,1236.8 L1896.5,1259.0 L1896.0,1242.1 L1895.5,1255.9 L1895.0,1243.5 L1894.5,1215.9 L1894.0,1255.8 L1893.5,1272.0 L1893.0,1326.8 L1892.5,1305.3 L1892.0,1320.3 L1891.5,1276.3 L1891.0,1291.3 L1890.5,1306.3 L1890.0,1238.4 L1889.5,1288.1 L1889.0,1244.4 L1888.5,1246.7 L1888.0,1220.2 L1887.5,1263.6 L1887.0,1246.4 L1886.5,1258.8 L1886.0,1332.0 L1885.5,1347.0 L1885.0,1362.0 L1884.5,1377.0 L1884.0,1320.8 L1883.5,1335.8 L1883.0,1290.2 L1882.5,1277.2 L1882.0,1292.2 L1881.5,1293.0 L1881.0,1262.6 L1880.5,1290.5 L1880.0,1241.4 L1879.5,1317.8 L1879.0,1332.8 L1878.5,1347.8 L1878.0,1225.3 L1877.5,1229.9 L1877.0,1268.4 L1876.5,1263.8 L1876.0,1234.4 L1875.5,1266.1 L1875.0,1229.8 L1874.5,1329.1 L1874.0,1344.1 L1873.5,1342.7 L1873.0,1322.4 L1872.5,1337.4 L1872.0,1293.5 L1871.5,1267.8 L1871.0,1366.9 L1870.5,1297.8 L1870.0,1232.7 L1869.5,1259.1 L1869.0,1261.0 L1868.5,1376.3 L1868.0,1391.3 L1867.5,1297.2 L1867.0,1270.4 L1866.5,1225.3 L1866.0,1239.2 L1865.5,1240.5 L1865.0,1233.4 L1864.5,1257.0 L1864.0,1271.6 L1863.5,1227.0 L1863.0,1266.2 L1862.5,1261.2 L1862.0,1250.8 L1861.5,1338.7 L1861.0,1353.7 L1860.5,1368.7 L1860.0,1320.6 L1859.5,1335.6 L1859.0,1356.7 L1858.5,1365.6 L1858.0,1248.5 L1857.5,1294.4 L1857.0,1296.9 L1856.5,1311.9 L1856.0,1302.2 L1855.5,1317.2 L1855.0,1283.4 L1854.5,1298.4 L1854.0,1253.1 L1853.5,1244.8 L1853.0,1309.9 L1852.5,1255.5 L1852.0,1256.3 L1851.5,1242.9 L1851.0,1272.9 L1850.5,1245.7 L1850.0,1293.0 L1849.5,1294.9 L1849.0,1309.9 L1848.5,1324.9 L1848.0,1271.0 L1847.5,1283.3 L1847.0,1257.4 L1846.5,1254.5 L1846.0,1292.5 L1845.5,1267.4 L1845.0,1253.3 L1844.5,1374.0 L1844.0,1291.3 L1843.5,1306.3 L1843.0,1310.9 L1842.5,1325.9 L1842.0,1242.0 L1841.5,1266.0 L1841.0,1270.6 L1840.5,1286.1 L1840.0,1309.3 L1839.5,1319.7 L1839.0,1283.3 L1838.5,1258.8 L1838.0,1285.3 L1837.5,1270.2 L1837.0,1277.3 L1836.5,1267.2 L1836.0,1246.1 L1835.5,1243.8 L1835.0,1270.8 L1834.5,1254.3 L1834.0,1255.5 L1833.5,1324.9 L1833.0,1253.5 L1832.5,1279.2 L1832.0,1276.5 L1831.5,1277.0 L1831.0,1273.6 L1830.5,1250.5 L1830.0,1286.0 L1829.5,1261.5 L1829.0,1260.7 L1828.5,1253.7 L1828.0,1286.9 L1827.5,1264.0 L1827.0,1282.7 L1826.5,1268.3 L1826.0,1299.1 L1825.5,1267.9 L1825.0,1281.4 L1824.5,1305.2 L1824.0,1301.8 L1823.5,1268.6 L1823.0,1293.1 L1822.5,1273.7 L1822.0,1289.7 L1821.5,1261.1 L1821.0,1269.8 L1820.5,1268.8 L1820.0,1285.5 L1819.5,1260.1 L1819.0,1316.5 L1818.5,1272.3 L1818.0,1275.7 L1817.5,1258.4 L1817.0,1275.6 L1816.5,1273.9 L1816.0,1300.7 L1815.5,1261.2 L1815.0,1281.5 L1814.5,1251.2 L1814.0,1273.1 L1813.5,1275.8 L1813.0,1246.9 L1812.5,1252.8 L1812.0,1253.3 L1811.5,1267.5 L1811.0,1269.7 L1810.5,1265.5 L1810.0,1250.7 L1809.5,1262.6 L1809.0,1266.4 L1808.5,1289.2 L1808.0,1253.8 L1807.5,1240.3 L1807.0,1263.3 L1806.5,1254.2 L1806.0,1256.7 L1805.5,1243.4 L1805.0,1253.1 L1804.5,1254.8 L1804.0,1250.2 L1803.5,1259.5 L1803.0,1257.3 L1802.5,1250.7 L1802.0,1262.1 L1801.5,1280.0 L1801.0,1281.8 L1800.5,1249.1 L1800.0,1239.6 L1799.5,1253.6 L1799.0,1239.7 L1798.5,1261.2 L1798.0,1240.1 L1797.5,1232.1 L1797.0,1242.7 L1796.5,1242.9 L1796.0,1318.3 L1795.5,1273.6 L1795.0,1231.5 L1794.5,1252.8 L1794.0,1226.4 L1793.5,1243.7 L1793.0,1257.7 L1792.5,1244.0 L1792.0,1234.6 L1791.5,1293.4 L1791.0,1228.1 L1790.5,1235.1 L1790.0,1238.2 L1789.5,1253.0 L1789.0,1240.9 L1788.5,1274.8 L1788.0,1286.4 L1787.5,1243.3 L1787.0,1261.3 L1786.5,1240.9 L1786.0,1224.0 L1785.5,1239.9 L1785.0,1241.8 L1784.5,1242.3 L1784.0,1234.8 L1783.5,1243.5 L1783.0,1244.3 L1782.5,1240.3 L1782.0,1224.1 L1781.5,1233.4 L1781.0,1229.7 L1780.5,1268.0 L1780.0,1268.6 L1779.5,1228.6 L1779.0,1230.9 L1778.5,1226.2 L1778.0,1233.4 L1777.5,1276.0 L1777.0,1241.0 L1776.5,1246.6 L1776.0,1239.4 L1775.5,1251.2 L1775.0,1235.4 L1774.5,1271.3 L1774.0,1263.9 L1773.5,1260.5 L1773.0,1247.2 L1772.5,1233.9 L1772.0,1236.1 L1771.5,1240.2 L1771.0,1235.9 L1770.5,1234.7 L1770.0,1295.8 L1769.5,1235.4 L1769.0,1251.6 L1768.5,1267.9 L1768.0,1265.0 L1767.5,1244.8 L1767.0,1237.0 L1766.5,1272.0 L1766.0,1255.2 L1765.5,1244.4 L1765.0,1259.4 L1764.5,1242.6 L1764.0,1244.8 L1763.5,1251.2 L1763.0,1235.6 L1762.5,1266.2 L1762.0,1239.4 L1761.5,1244.9 L1761.0,1272.0 L1760.5,1268.5 L1760.0,1244.1 L1759.5,1253.8 L1759.0,1233.5 L1758.5,1288.5 L1758.0,1287.5 L1757.5,1260.3 L1757.0,1244.0 L1756.5,1274.4 L1756.0,1244.2 L1755.5,1277.5 L1755.0,1264.5 L1754.5,1259.0 L1754.0,1256.7 L1753.5,1258.0 L1753.0,1294.6 L1752.5,1250.0 L1752.0,1271.4 L1751.5,1266.1 L1751.0,1266.5 L1750.5,1238.0 L1750.0,1243.0 L1749.5,1247.3 L1749.0,1256.3 L1748.5,1243.4 L1748.0,1242.4 L1747.5,1256.5 L1747.0,1260.9 L1746.5,1272.2 L1746.0,1252.1 L1745.5,1267.8 L1745.0,1264.3 L1744.5,1264.3 L1744.0,1287.8 L1743.5,1241.4 L1743.0,1284.6 L1742.5,1238.9 L1742.0,1244.5 L1741.5,1251.1 L1741.0,1241.9 L1740.5,1245.8 L1740.0,1257.1 L1739.5,1295.2 L1739.0,1313.4 L1738.5,1244.0 L1738.0,1313.2 L1737.5,1251.4 L1737.0,1311.3 L1736.5,1261.5 L1736.0,1260.2 L1735.5,1251.6 L1735.0,1250.1 L1734.5,1268.8 L1734.0,1282.5 L1733.5,1280.0 L1733.0,1265.4 L1732.5,1263.2 L1732.0,1276.8 L1731.5,1255.3 L1731.0,1263.2 L1730.5,1270.7 L1730.0,1262.4 L1729.5,1272.6 L1729.0,1287.9 L1728.5,1272.2 L1728.0,1277.1 L1727.5,1293.5 L1727.0,1328.5 L1726.5,1276.6 L1726.0,1300.4 L1725.5,1336.4 L1725.0,1281.5 L1724.5,1332.8 L1724.0,1306.5 L1723.5,1299.2 L1723.0,1313.8 L1722.5,1314.4 L1722.0,1286.7 L1721.5,1314.9 L1721.0,1311.1 L1720.5,1318.2 L1720.0,1275.6 L1719.5,1313.9 L1719.0,1302.6 L1718.5,1326.8 L1718.0,1306.6 L1717.5,1303.6 L1717.0,1302.2 L1716.5,1294.4 L1716.0,1294.1 L1715.5,1337.8 L1715.0,1334.5 L1714.5,1323.3 L1714.0,1316.5 L1713.5,1298.3 L1713.0,1293.8 L1712.5,1324.9 L1712.0,1289.4 L1711.5,1363.5 L1711.0,1320.0 L1710.5,1312.4 L1710.0,1366.9 L1709.5,1301.5 L1709.0,1326.2 L1708.5,1303.1 L1708.0,1300.2 L1707.5,1315.9 L1707.0,1325.5 L1706.5,1292.5 L1706.0,1299.8 L1705.5,1297.7 L1705.0,1323.3 L1704.5,1295.0 L1704.0,1316.2 L1703.5,1306.2 L1703.0,1328.2 L1702.5,1282.7 L1702.0,1284.4 L1701.5,1330.2 L1701.0,1313.1 L1700.5,1293.3 L1700.0,1317.6 L1699.5,1329.2 L1699.0,1287.9 L1698.5,1300.2 L1698.0,1297.6 L1697.5,1309.9 L1697.0,1301.6 L1696.5,1326.0 L1696.0,1319.4 L1695.5,1297.8 L1695.0,1329.2 L1694.5,1282.0 L1694.0,1281.3 L1693.5,1267.1 L1693.0,1259.3 L1692.5,1326.5 L1692.0,1247.1 L1691.5,1270.2 L1691.0,1243.8 L1690.5,1249.0 L1690.0,1229.9 L1689.5,1233.2 L1689.0,1230.5 L1688.5,1238.0 L1688.0,1255.5 L1687.5,1248.4 L1687.0,1241.5 L1686.5,1235.3 L1686.0,1252.3 L1685.5,1231.0 L1685.0,1247.4 L1684.5,1278.6 L1684.0,1233.9 L1683.5,1268.0 L1683.0,1232.1 L1682.5,1252.0 L1682.0,1291.0 L1681.5,1248.5 L1681.0,1244.7 L1680.5,1236.9 L1680.0,1270.9 L1679.5,1251.3 L1679.0,1250.8 L1678.5,1235.1 L1678.0,1257.2 L1677.5,1236.8 L1677.0,1240.0 L1676.5,1292.0 L1676.0,1261.1 L1675.5,1247.2 L1675.0,1252.4 L1674.5,1235.3 L1674.0,1241.8 L1673.5,1237.1 L1673.0,1290.6 L1672.5,1245.5 L1672.0,1237.4 L1671.5,1251.0 L1671.0,1252.5 L1670.5,1250.1 L1670.0,1237.9 L1669.5,1272.0 L1669.0,1247.1 L1668.5,1256.6 L1668.0,1244.5 L1667.5,1238.4 L1667.0,1242.5 L1666.5,1236.3 L1666.0,1248.9 L1665.5,1244.7 L1665.0,1295.0 L1664.5,1254.4 L1664.0,1239.1 L1663.5,1274.6 L1663.0,1256.8 L1662.5,1270.8 L1662.0,1255.4 L1661.5,1240.8 L1661.0,1246.8 L1660.5,1282.3 L1660.0,1254.7 L1659.5,1250.2 L1659.0,1241.6 L1658.5,1241.1 L1658.0,1250.4 L1657.5,1284.1 L1657.0,1262.8 L1656.5,1248.5 L1656.0,1257.7 L1655.5,1253.3 L1655.0,1241.2 L1654.5,1274.4 L1654.0,1250.3 L1653.5,1243.0 L1653.0,1260.4 L1652.5,1259.4 L1652.0,1245.4 L1651.5,1253.0 L1651.0,1251.6 L1650.5,1247.2 L1650.0,1246.7 L1649.5,1256.4 L1649.0,1240.0 L1648.5,1254.0 L1648.0,1297.0 L1647.5,1253.3 L1647.0,1306.6 L1646.5,1250.0 L1646.0,1254.4 L1645.5,1247.7 L1645.0,1261.6 L1644.5,1259.5 L1644.0,1251.0 L1643.5,1252.0 L1643.0,1253.8 L1642.5,1248.6 L1642.0,1245.1 L1641.5,1248.0 L1641.0,1247.3 L1640.5,1247.7 L1640.0,1257.2 L1639.5,1259.5 L1639.0,1262.1 L1638.5,1263.7 L1638.0,1251.8 L1637.5,1257.4 L1637.0,1244.5 L1636.5,1288.8 L1636.0,1279.0 L1635.5,1254.5 L1635.0,1260.9 L1634.5,1258.1 L1634.0,1291.8 L1633.5,1266.3 L1633.0,1257.4 L1632.5,1259.7 L1632.0,1257.0 L1631.5,1251.0 L1631.0,1284.0 L1630.5,1262.3 L1630.0,1250.2 L1629.5,1267.6 L1629.0,1256.5 L1628.5,1255.0 L1628.0,1265.8 L1627.5,1253.3 L1627.0,1273.1 L1626.5,1269.7 L1626.0,1267.7 L1625.5,1248.6 L1625.0,1255.4 L1624.5,1264.6 L1624.0,1265.3 L1623.5,1251.5 L1623.0,1283.5 L1622.5,1274.0 L1622.0,1254.9 L1621.5,1261.7 L1621.0,1294.4 L1620.5,1298.7 L1620.0,1252.2 L1619.5,1256.9 L1619.0,1269.9 L1618.5,1254.1 L1618.0,1301.5 L1617.5,1252.2 L1617.0,1264.9 L1616.5,1270.2 L1616.0,1254.1 L1615.5,1281.6 L1615.0,1260.3 L1614.5,1261.4 L1614.0,1249.8 L1613.5,1253.4 L1613.0,1285.1 L1612.5,1284.4 L1612.0,1269.0 L1611.5,1297.3 L1611.0,1274.8 L1610.5,1261.8 L1610.0,1250.4 L1609.5,1252.0 L1609.0,1255.3 L1608.5,1269.5 L1608.0,1276.7 L1607.5,1257.1 L1607.0,1247.7 L1606.5,1244.0 L1606.0,1265.4 L1605.5,1248.5 L1605.0,1268.4 L1604.5,1248.8 L1604.0,1253.2 L1603.5,1257.5 L1603.0,1297.6 L1602.5,1285.5 L1602.0,1254.0 L1601.5,1245.7 L1601.0,1265.2 L1600.5,1244.9 L1600.0,1245.6 L1599.5,1271.2 L1599.0,1278.5 L1598.5,1243.4 L1598.0,1249.6 L1597.5,1247.0 L1597.0,1243.5 L1596.5,1282.7 L1596.0,1249.5 L1595.5,1276.8 L1595.0,1238.5 L1594.5,1252.9 L1594.0,1251.7 L1593.5,1244.9 L1593.0,1284.6 L1592.5,1238.6 L1592.0,1239.2 L1591.5,1290.8 L1591.0,1244.7 L1590.5,1249.9 L1590.0,1248.3 L1589.5,1234.8 L1589.0,1246.8 L1588.5,1238.1 L1588.0,1242.7 L1587.5,1260.4 L1587.0,1240.0 L1586.5,1243.6 L1586.0,1236.7 L1585.5,1239.9 L1585.0,1249.4 L1584.5,1263.4 L1584.0,1255.7 L1583.5,1253.3 L1583.0,1241.1 L1582.5,1247.3 L1582.0,1247.3 L1581.5,1239.9 L1581.0,1244.5 L1580.5,1231.9 L1580.0,1229.8 L1579.5,1238.2 L1579.0,1234.2 L1578.5,1239.2 L1578.0,1240.5 L1577.5,1244.7 L1577.0,1299.0 L1576.5,1237.2 L1576.0,1288.9 L1575.5,1238.2 L1575.0,1241.8 L1574.5,1231.0 L1574.0,1245.7 L1573.5,1277.2 L1573.0,1242.9 L1572.5,1246.5 L1572.0,1249.2 L1571.5,1243.4 L1571.0,1248.0 L1570.5,1235.0 L1570.0,1249.0 L1569.5,1251.0 L1569.0,1237.8 L1568.5,1235.7 L1568.0,1260.9 L1567.5,1240.0 L1567.0,1242.5 L1566.5,1242.7 L1566.0,1247.2 L1565.5,1262.0 L1565.0,1246.1 L1564.5,1260.4 L1564.0,1247.4 L1563.5,1246.4 L1563.0,1251.6 L1562.5,1248.6 L1562.0,1248.3 L1561.5,1253.3 L1561.0,1250.1 L1560.5,1258.3 L1560.0,1240.5 L1559.5,1255.6 L1559.0,1250.4 L1558.5,1249.9 L1558.0,1248.9 L1557.5,1244.2 L1557.0,1256.2 L1556.5,1262.2 L1556.0,1270.6 L1555.5,1250.7 L1555.0,1275.0 L1554.5,1271.2 L1554.0,1263.9 L1553.5,1259.3 L1553.0,1269.1 L1552.5,1276.8 L1552.0,1278.2 L1551.5,1271.6 L1551.0,1272.6 L1550.5,1264.1 L1550.0,1300.6 L1549.5,1276.6 L1549.0,1289.7 L1548.5,1295.7 L1548.0,1271.4 L1547.5,1279.8 L1547.0,1273.9 L1546.5,1291.4 L1546.0,1273.4 L1545.5,1289.5 L1545.0,1281.0 L1544.5,1293.9 L1544.0,1268.5 L1543.5,1276.4 L1543.0,1290.2 L1542.5,1295.7 L1542.0,1299.1 L1541.5,1283.1 L1541.0,1298.0 L1540.5,1268.7 L1540.0,1280.0 L1539.5,1283.3 L1539.0,1271.2 L1538.5,1276.5 L1538.0,1281.0 L1537.5,1277.8 L1537.0,1287.6 L1536.5,1303.3 L1536.0,1272.9 L1535.5,1276.9 L1535.0,1271.0 L1534.5,1257.1 L1534.0,1267.2 L1533.5,1283.7 L1533.0,1290.0 L1532.5,1275.5 L1532.0,1261.4 L1531.5,1283.8 L1531.0,1262.6 L1530.5,1280.2 L1530.0,1277.3 L1529.5,1293.6 L1529.0,1267.3 L1528.5,1265.1 L1528.0,1255.1 L1527.5,1268.8 L1527.0,1272.5 L1526.5,1285.2 L1526.0,1266.0 L1525.5,1296.8 L1525.0,1258.5 L1524.5,1262.9 L1524.0,1259.1 L1523.5,1289.4 L1523.0,1253.2 L1522.5,1268.2 L1522.0,1248.0 L1521.5,1269.5 L1521.0,1267.0 L1520.5,1258.5 L1520.0,1252.4 L1519.5,1258.5 L1519.0,1266.8 L1518.5,1268.6 L1518.0,1270.8 L1517.5,1265.2 L1517.0,1264.8 L1516.5,1266.0 L1516.0,1245.7 L1515.5,1261.8 L1515.0,1252.0 L1514.5,1245.7 L1514.0,1264.2 L1513.5,1303.7 L1513.0,1243.7 L1512.5,1261.7 L1512.0,1243.8 L1511.5,1255.0 L1511.0,1267.7 L1510.5,1252.5 L1510.0,1255.6 L1509.5,1248.5 L1509.0,1249.4 L1508.5,1246.0 L1508.0,1251.9 L1507.5,1251.2 L1507.0,1255.9 L1506.5,1254.8 L1506.0,1247.2 L1505.5,1273.5 L1505.0,1263.2 L1504.5,1253.0 L1504.0,1248.5 L1503.5,1242.6 L1503.0,1259.9 L1502.5,1253.0 L1502.0,1262.6 L1501.5,1254.4 L1501.0,1251.6 L1500.5,1257.8 L1500.0,1239.7 L1499.5,1259.7 L1499.0,1253.6 L1498.5,1274.1 L1498.0,1272.2 L1497.5,1265.0 L1497.0,1250.0 L1496.5,1243.6 L1496.0,1269.0 L1495.5,1243.9 L1495.0,1265.9 L1494.5,1246.0 L1494.0,1240.5 L1493.5,1237.8 L1493.0,1235.3 L1492.5,1251.4 L1492.0,1251.2 L1491.5,1244.9 L1491.0,1254.6 L1490.5,1243.6 L1490.0,1251.9 L1489.5,1281.7 L1489.0,1267.3 L1488.5,1245.4 L1488.0,1265.3 L1487.5,1266.0 L1487.0,1277.4 L1486.5,1281.4 L1486.0,1273.7 L1485.5,1284.8 L1485.0,1283.3 L1484.5,1252.7 L1484.0,1268.4 L1483.5,1273.1 L1483.0,1257.4 L1482.5,1251.8 L1482.0,1249.3 L1481.5,1258.4 L1481.0,1278.5 L1480.5,1256.0 L1480.0,1273.9 L1479.5,1268.3 L1479.0,1291.5 L1478.5,1255.8 L1478.0,1284.4 L1477.5,1264.9 L1477.0,1289.0 L1476.5,1259.9 L1476.0,1251.6 L1475.5,1271.0 L1475.0,1264.2 L1474.5,1264.3 L1474.0,1265.6 L1473.5,1296.1 L1473.0,1254.8 L1472.5,1265.4 L1472.0,1274.4 L1471.5,1273.6 L1471.0,1274.6 L1470.5,1260.2 L1470.0,1291.7 L1469.5,1263.3 L1469.0,1263.6 L1468.5,1270.4 L1468.0,1283.5 L1467.5,1267.6 L1467.0,1270.3 L1466.5,1290.5 L1466.0,1284.4 L1465.5,1293.3 L1465.0,1283.2 L1464.5,1292.8 L1464.0,1296.3 L1463.5,1284.3 L1463.0,1280.7 L1462.5,1293.8 L1462.0,1283.5 L1461.5,1299.4 L1461.0,1271.1 L1460.5,1262.3 L1460.0,1270.9 L1459.5,1283.9 L1459.0,1263.6 L1458.5,1282.7 L1458.0,1266.5 L1457.5,1281.4 L1457.0,1282.1 L1456.5,1264.7 L1456.0,1270.5 L1455.5,1262.9 L1455.0,1274.1 L1454.5,1257.0 L1454.0,1265.5 L1453.5,1250.5 L1453.0,1267.2 L1452.5,1278.2 L1452.0,1252.0 L1451.5,1273.8 L1451.0,1236.9 L1450.5,1233.3 L1450.0,1231.7 L1449.5,1231.7 L1449.0,1228.5 L1448.5,1227.0 L1448.0,1231.2 L1447.5,1206.0 L1447.0,1216.7 L1446.5,1210.6 L1446.0,1214.8 L1445.5,1208.4 L1445.0,1198.4 L1444.5,1198.1 L1444.0,1194.5 L1443.5,1190.9 L1443.0,1190.9 L1442.5,1189.7 L1442.0,1199.6 L1441.5,1197.9 L1441.0,1197.0 L1440.5,1194.6 L1440.0,1216.8 L1439.5,1196.8 L1439.0,1199.3 L1438.5,1196.6 L1438.0,1203.8 L1437.5,1204.6 L1437.0,1212.9 L1436.5,1203.2 L1436.0,1206.7 L1435.5,1236.3 L1435.0,1214.1 L1434.5,1214.7 L1434.0,1217.7 L1433.5,1213.9 L1433.0,1222.3 L1432.5,1223.0 L1432.0,1250.5 L1431.5,1220.2 L1431.0,1233.6 L1430.5,1229.2 L1430.0,1224.1 L1429.5,1228.1 L1429.0,1244.6 L1428.5,1224.5 L1428.0,1222.5 L1427.5,1229.1 L1427.0,1226.9 L1426.5,1223.9 L1426.0,1244.8 L1425.5,1225.7 L1425.0,1239.0 L1424.5,1237.0 L1424.0,1232.9 L1423.5,1232.0 L1423.0,1232.8 L1422.5,1245.2 L1422.0,1235.5 L1421.5,1249.8 L1421.0,1228.9 L1420.5,1232.2 L1420.0,1228.3 L1419.5,1230.9 L1419.0,1240.6 L1418.5,1235.5 L1418.0,1224.3 L1417.5,1245.6 L1417.0,1238.7 L1416.5,1224.6 L1416.0,1227.9 L1415.5,1233.6 L1415.0,1244.0 L1414.5,1235.9 L1414.0,1231.8 L1413.5,1226.2 L1413.0,1231.1 L1412.5,1232.6 L1412.0,1233.9 L1411.5,1230.2 L1411.0,1231.3 L1410.5,1232.5 L1410.0,1232.8 L1409.5,1226.2 L1409.0,1234.5 L1408.5,1241.7 L1408.0,1235.5 L1407.5,1224.7 L1407.0,1226.6 L1406.5,1228.4 L1406.0,1230.4 L1405.5,1247.1 L1405.0,1226.1 L1404.5,1224.1 L1404.0,1229.3 L1403.5,1232.8 L1403.0,1233.3 L1402.5,1224.0 L1402.0,1237.1 L1401.5,1224.9 L1401.0,1233.5 L1400.5,1235.1 L1400.0,1235.5 L1399.5,1231.4 L1399.0,1232.2 L1398.5,1226.2 L1398.0,1220.8 L1397.5,1236.3 L1397.0,1239.2 L1396.5,1223.1 L1396.0,1230.5 L1395.5,1226.5 L1395.0,1230.5 L1394.5,1219.9 L1394.0,1242.6 L1393.5,1230.3 L1393.0,1220.9 L1392.5,1240.7 L1392.0,1252.2 L1391.5,1237.7 L1391.0,1224.0 L1390.5,1220.1 L1390.0,1225.4 L1389.5,1219.3 L1389.0,1218.2 L1388.5,1238.7 L1388.0,1220.5 L1387.5,1225.9 L1387.0,1221.1 L1386.5,1217.2 L1386.0,1243.0 L1385.5,1217.9 L1385.0,1219.4 L1384.5,1217.4 L1384.0,1233.6 L1383.5,1216.8 L1383.0,1213.2 L1382.5,1229.5 L1382.0,1219.3 L1381.5,1211.8 L1381.0,1218.9 L1380.5,1212.7 L1380.0,1217.9 L1379.5,1209.6 L1379.0,1218.4 L1378.5,1215.1 L1378.0,1219.5 L1377.5,1225.7 L1377.0,1217.0 L1376.5,1218.8 L1376.0,1214.8 L1375.5,1215.4 L1375.0,1207.8 L1374.5,1206.0 L1374.0,1205.9 L1373.5,1235.9 L1373.0,1226.4 L1372.5,1215.5 L1372.0,1212.4 L1371.5,1225.1 L1371.0,1209.6 L1370.5,1211.9 L1370.0,1204.8 L1369.5,1210.6 L1369.0,1203.9 L1368.5,1207.9 L1368.0,1204.3 L1367.5,1207.2 L1367.0,1216.3 L1366.5,1203.0 L1366.0,1219.5 L1365.5,1205.2 L1365.0,1225.6 L1364.5,1203.8 L1364.0,1213.8 L1363.5,1199.9 L1363.0,1202.5 L1362.5,1201.6 L1362.0,1196.2 L1361.5,1200.4 L1361.0,1196.2 L1360.5,1200.7 L1360.0,1197.7 L1359.5,1194.9 L1359.0,1198.1 L1358.5,1196.3 L1358.0,1191.6 L1357.5,1194.5 L1357.0,1196.7 L1356.5,1194.0 L1356.0,1196.0 L1355.5,1194.0 L1355.0,1213.6 L1354.5,1193.5 L1354.0,1189.4 L1353.5,1191.6 L1353.0,1192.5 L1352.5,1186.0 L1352.0,1189.3 L1351.5,1188.3 L1351.0,1185.0 L1350.5,1184.3 L1350.0,1181.8 L1349.5,1183.7 L1349.0,1190.9 L1348.5,1193.0 L1348.0,1197.7 L1347.5,1187.2 L1347.0,1176.2 L1346.5,1182.6 L1346.0,1174.0 L1345.5,1174.7 L1345.0,1178.0 L1344.5,1176.5 L1344.0,1180.8 L1343.5,1181.3 L1343.0,1177.9 L1342.5,1181.8 L1342.0,1184.4 L1341.5,1198.7 L1341.0,1185.8 L1340.5,1178.3 L1340.0,1179.0 L1339.5,1181.9 L1339.0,1188.3 L1338.5,1185.1 L1338.0,1177.6 L1337.5,1179.6 L1337.0,1200.0 L1336.5,1190.8 L1336.0,1179.4 L1335.5,1187.9 L1335.0,1181.4 L1334.5,1179.7 L1334.0,1176.9 L1333.5,1174.0 L1333.0,1200.9 L1332.5,1184.9Z" fill="#BFBFBF"/>
<path d="M1332.5,1159.0 L1333.0,1161.8 L1333.5,1162.0 L1334.0,1160.0 L1334.5,1160.0 L1335.0,1160.8 L1335.5,1163.2 L1336.0,1163.6 L1336.5,1163.6 L1337.0,1161.8 L1337.5,1162.6 L1338.0,1164.1 L1338.5,1164.8 L1339.0,1164.6 L1339.5,1165.1 L1340.0,1163.7 L1340.5,1163.1 L1341.0,1163.5 L1341.5,1165.2 L1342.0,1163.7 L1342.5,1162.9 L1343.0,1162.1 L1343.5,1162.0 L1344.0,1163.2 L1344.5,1158.7 L1345.0,1159.2 L1345.5,1160.9 L1346.0,1159.9 L1346.5,1160.8 L1347.0,1158.6 L1347.5,1164.2 L1348.0,1163.1 L1348.5,1163.0 L1349.0,1165.0 L1349.5,1165.8 L1350.0,1166.7 L1350.5,1167.1 L1351.0,1169.4 L1351.5,1169.5 L1352.0,1170.7 L1352.5,1171.3 L1353.0,1168.9 L1353.5,1173.3 L1354.0,1173.9 L1354.5,1174.0 L1355.0,1172.0 L1355.5,1174.5 L1356.0,1174.7 L1356.5,1174.8 L1357.0,1175.5 L1357.5,1175.5 L1358.0,1174.6 L1358.5,1174.9 L1359.0,1175.1 L1359.5,1176.7 L1360.0,1180.0 L1360.5,1178.9 L1361.0,1178.4 L1361.5,1179.6 L1362.0,1179.2 L1362.5,1179.3 L1363.0,1181.3 L1363.5,1180.8 L1364.0,1180.5 L1364.5,1182.0 L1365.0,1183.0 L1365.5,1182.6 L1366.0,1183.2 L1366.5,1184.9 L1367.0,1184.2 L1367.5,1183.8 L1368.0,1181.2 L1368.5,1187.4 L1369.0,1187.0 L1369.5,1187.3 L1370.0,1186.2 L1370.5,1187.9 L1371.0,1188.2 L1371.5,1187.0 L1372.0,1189.6 L1372.5,1189.1 L1373.0,1187.5 L1373.5,1188.7 L1374.0,1190.0 L1374.5,1188.8 L1375.0,1191.3 L1375.5,1191.0 L1376.0,1187.5 L1376.5,1188.1 L1377.0,1190.3 L1377.5,1192.4 L1378.0,1193.4 L1378.5,1191.0 L1379.0,1192.4 L1379.5,1194.2 L1380.0,1192.2 L1380.5,1193.7 L1381.0,1192.7 L1381.5,1192.7 L1382.0,1195.5 L1382.5,1194.9 L1383.0,1193.9 L1383.5,1193.5 L1384.0,1196.2 L1384.5,1197.3 L1385.0,1194.0 L1385.5,1194.7 L1386.0,1195.1 L1386.5,1195.4 L1387.0,1198.5 L1387.5,1196.6 L1388.0,1195.8 L1388.5,1197.7 L1389.0,1197.0 L1389.5,1200.0 L1390.0,1193.7 L1390.5,1199.6 L1391.0,1199.7 L1391.5,1199.9 L1392.0,1197.4 L1392.5,1198.8 L1393.0,1198.5 L1393.5,1201.0 L1394.0,1200.9 L1394.5,1199.6 L1395.0,1198.7 L1395.5,1197.9 L1396.0,1198.7 L1396.5,1199.7 L1397.0,1201.5 L1397.5,1202.6 L1398.0,1200.1 L1398.5,1201.6 L1399.0,1198.3 L1399.5,1198.6 L1400.0,1201.5 L1400.5,1200.9 L1401.0,1203.4 L1401.5,1200.4 L1402.0,1203.1 L1402.5,1202.2 L1403.0,1199.7 L1403.5,1199.8 L1404.0,1201.8 L1404.5,1201.8 L1405.0,1202.7 L1405.5,1204.4 L1406.0,1203.4 L1406.5,1204.7 L1407.0,1204.0 L1407.5,1201.7 L1408.0,1202.4 L1408.5,1204.6 L1409.0,1202.2 L1409.5,1205.0 L1410.0,1202.4 L1410.5,1201.7 L1411.0,1201.8 L1411.5,1201.8 L1412.0,1205.5 L1412.5,1201.2 L1413.0,1202.0 L1413.5,1200.3 L1414.0,1199.8 L1414.5,1204.9 L1415.0,1203.9 L1415.5,1201.5 L1416.0,1204.7 L1416.5,1202.2 L1417.0,1200.7 L1417.5,1201.1 L1418.0,1196.9 L1418.5,1202.8 L1419.0,1201.5 L1419.5,1200.2 L1420.0,1203.3 L1420.5,1204.9 L1421.0,1204.8 L1421.5,1202.4 L1422.0,1204.1 L1422.5,1199.7 L1423.0,1200.2 L1423.5,1203.1 L1424.0,1201.7 L1424.5,1201.2 L1425.0,1198.5 L1425.5,1202.0 L1426.0,1199.5 L1426.5,1201.5 L1427.0,1199.4 L1427.5,1201.1 L1428.0,1198.1 L1428.5,1199.4 L1429.0,1199.9 L1429.5,1199.0 L1430.0,1194.4 L1430.5,1197.3 L1431.0,1196.5 L1431.5,1195.7 L1432.0,1195.2 L1432.5,1191.1 L1433.0,1189.8 L1433.5,1188.8 L1434.0,1190.0 L1434.5,1188.2 L1435.0,1183.8 L1435.5,1181.8 L1436.0,1182.9 L1436.5,1178.7 L1437.0,1179.1 L1437.5,1178.2 L1438.0,1176.4 L1438.5,1175.7 L1439.0,1171.0 L1439.5,1173.7 L1440.0,1169.8 L1440.5,1170.4 L1441.0,1166.5 L1441.5,1163.6 L1442.0,1167.5 L1442.5,1168.4 L1443.0,1163.4 L1443.5,1166.0 L1444.0,1169.6 L1444.5,1168.7 L1445.0,1170.2 L1445.5,1169.0 L1446.0,1175.1 L1446.5,1171.5 L1447.0,1169.0 L1447.5,1177.1 L1448.0,1177.9 L1448.5,1175.1 L1449.0,1178.2 L1449.5,1179.9 L1450.0,1182.4 L1450.5,1179.5 L1451.0,1187.7 L1451.5,1185.4 L1452.0,1179.0 L1452.5,1191.0 L1453.0,1203.1 L1453.5,1184.3 L1454.0,1205.1 L1454.5,1208.2 L1455.0,1204.1 L1455.5,1210.7 L1456.0,1190.2 L1456.5,1206.3 L1457.0,1205.5 L1457.5,1205.8 L1458.0,1213.4 L1458.5,1216.8 L1459.0,1216.6 L1459.5,1197.5 L1460.0,1208.5 L1460.5,1214.7 L1461.0,1221.4 L1461.5,1217.0 L1462.0,1212.2 L1462.5,1210.7 L1463.0,1215.4 L1463.5,1214.2 L1464.0,1206.2 L1464.5,1211.0 L1465.0,1197.9 L1465.5,1206.5 L1466.0,1205.0 L1466.5,1193.9 L1467.0,1199.9 L1467.5,1205.5 L1468.0,1211.5 L1468.5,1198.3 L1469.0,1206.1 L1469.5,1207.5 L1470.0,1198.9 L1470.5,1188.8 L1471.0,1204.2 L1471.5,1191.3 L1472.0,1206.4 L1472.5,1205.6 L1473.0,1187.8 L1473.5,1198.6 L1474.0,1199.6 L1474.5,1191.7 L1475.0,1192.8 L1475.5,1182.0 L1476.0,1193.9 L1476.5,1196.0 L1477.0,1193.5 L1477.5,1193.8 L1478.0,1195.2 L1478.5,1199.7 L1479.0,1192.9 L1479.5,1198.5 L1480.0,1182.2 L1480.5,1188.9 L1481.0,1185.0 L1481.5,1188.8 L1482.0,1196.2 L1482.5,1183.5 L1483.0,1186.6 L1483.5,1193.8 L1484.0,1189.9 L1484.5,1189.5 L1485.0,1192.3 L1485.5,1185.3 L1486.0,1194.9 L1486.5,1181.1 L1487.0,1186.0 L1487.5,1187.0 L1488.0,1190.8 L1488.5,1183.2 L1489.0,1175.5 L1489.5,1185.3 L1490.0,1189.9 L1490.5,1177.6 L1491.0,1187.7 L1491.5,1191.0 L1492.0,1186.6 L1492.5,1188.6 L1493.0,1193.0 L1493.5,1190.4 L1494.0,1186.9 L1494.5,1188.5 L1495.0,1181.3 L1495.5,1179.3 L1496.0,1173.0 L1496.5,1186.9 L1497.0,1192.4 L1497.5,1187.2 L1498.0,1186.2 L1498.5,1189.8 L1499.0,1192.0 L1499.5,1195.1 L1500.0,1190.6 L1500.5,1182.7 L1501.0,1181.6 L1501.5,1191.9 L1502.0,1178.4 L1502.5,1189.7 L1503.0,1194.6 L1503.5,1183.9 L1504.0,1193.9 L1504.5,1187.6 L1505.0,1184.1 L1505.5,1180.7 L1506.0,1193.6 L1506.5,1191.1 L1507.0,1192.6 L1507.5,1172.9 L1508.0,1193.1 L1508.5,1193.0 L1509.0,1185.6 L1509.5,1192.5 L1510.0,1197.0 L1510.5,1181.1 L1511.0,1197.2 L1511.5,1187.2 L1512.0,1189.9 L1512.5,1185.7 L1513.0,1183.4 L1513.5,1190.1 L1514.0,1197.8 L1514.5,1186.0 L1515.0,1188.8 L1515.5,1193.9 L1516.0,1192.3 L1516.5,1200.0 L1517.0,1198.1 L1517.5,1187.5 L1518.0,1180.3 L1518.5,1196.6 L1519.0,1200.4 L1519.5,1196.5 L1520.0,1197.3 L1520.5,1199.9 L1521.0,1201.3 L1521.5,1187.1 L1522.0,1189.9 L1522.5,1199.3 L1523.0,1202.1 L1523.5,1189.0 L1524.0,1200.6 L1524.5,1179.7 L1525.0,1194.3 L1525.5,1199.6 L1526.0,1192.9 L1526.5,1188.5 L1527.0,1186.9 L1527.5,1189.0 L1528.0,1194.7 L1528.5,1202.1 L1529.0,1189.8 L1529.5,1194.8 L1530.0,1178.8 L1530.5,1192.3 L1531.0,1192.7 L1531.5,1201.3 L1532.0,1203.0 L1532.5,1199.2 L1533.0,1192.7 L1533.5,1198.2 L1534.0,1205.6 L1534.5,1187.2 L1535.0,1196.1 L1535.5,1203.3 L1536.0,1198.3 L1536.5,1202.5 L1537.0,1202.9 L1537.5,1209.3 L1538.0,1204.6 L1538.5,1202.5 L1539.0,1199.3 L1539.5,1206.6 L1540.0,1205.6 L1540.5,1205.0 L1541.0,1209.2 L1541.5,1202.7 L1542.0,1213.1 L1542.5,1214.0 L1543.0,1200.7 L1543.5,1205.1 L1544.0,1215.3 L1544.5,1204.9 L1545.0,1213.2 L1545.5,1206.7 L1546.0,1217.6 L1546.5,1206.2 L1547.0,1217.2 L1547.5,1208.0 L1548.0,1209.6 L1548.5,1214.0 L1549.0,1209.1 L1549.5,1216.7 L1550.0,1208.4 L1550.5,1210.6 L1551.0,1214.3 L1551.5,1209.5 L1552.0,1207.6 L1552.5,1204.1 L1553.0,1207.2 L1553.5,1208.0 L1554.0,1206.0 L1554.5,1205.7 L1555.0,1213.6 L1555.5,1203.0 L1556.0,1210.3 L1556.5,1209.2 L1557.0,1205.4 L1557.5,1199.5 L1558.0,1204.0 L1558.5,1205.3 L1559.0,1205.1 L1559.5,1207.5 L1560.0,1204.4 L1560.5,1211.4 L1561.0,1208.5 L1561.5,1210.4 L1562.0,1205.1 L1562.5,1205.2 L1563.0,1207.9 L1563.5,1209.0 L1564.0,1208.9 L1564.5,1203.7 L1565.0,1204.5 L1565.5,1204.1 L1566.0,1203.0 L1566.5,1207.2 L1567.0,1200.5 L1567.5,1201.2 L1568.0,1199.8 L1568.5,1198.2 L1569.0,1198.8 L1569.5,1193.5 L1570.0,1190.3 L1570.5,1201.8 L1571.0,1205.4 L1571.5,1197.5 L1572.0,1202.3 L1572.5,1188.8 L1573.0,1199.8 L1573.5,1196.3 L1574.0,1200.5 L1574.5,1199.1 L1575.0,1201.1 L1575.5,1202.8 L1576.0,1198.4 L1576.5,1179.5 L1577.0,1197.1 L1577.5,1199.6 L1578.0,1193.2 L1578.5,1199.5 L1579.0,1182.5 L1579.5,1196.8 L1580.0,1185.1 L1580.5,1199.8 L1581.0,1197.2 L1581.5,1197.7 L1582.0,1199.0 L1582.5,1201.6 L1583.0,1200.5 L1583.5,1194.4 L1584.0,1186.2 L1584.5,1199.3 L1585.0,1196.1 L1585.5,1198.2 L1586.0,1200.5 L1586.5,1203.1 L1587.0,1204.1 L1587.5,1202.3 L1588.0,1192.5 L1588.5,1200.4 L1589.0,1198.9 L1589.5,1201.6 L1590.0,1202.8 L1590.5,1202.5 L1591.0,1201.1 L1591.5,1202.0 L1592.0,1203.0 L1592.5,1203.6 L1593.0,1203.6 L1593.5,1203.6 L1594.0,1198.0 L1594.5,1208.0 L1595.0,1201.0 L1595.5,1206.5 L1596.0,1204.2 L1596.5,1203.6 L1597.0,1205.3 L1597.5,1206.5 L1598.0,1193.6 L1598.5,1204.6 L1599.0,1196.5 L1599.5,1204.9 L1600.0,1205.1 L1600.5,1208.9 L1601.0,1205.5 L1601.5,1206.1 L1602.0,1207.1 L1602.5,1211.1 L1603.0,1213.0 L1603.5,1213.9 L1604.0,1212.7 L1604.5,1213.0 L1605.0,1209.3 L1605.5,1213.7 L1606.0,1213.9 L1606.5,1214.7 L1607.0,1213.5 L1607.5,1215.7 L1608.0,1196.3 L1608.5,1201.4 L1609.0,1211.6 L1609.5,1208.4 L1610.0,1204.8 L1610.5,1216.8 L1611.0,1208.7 L1611.5,1209.4 L1612.0,1217.5 L1612.5,1211.7 L1613.0,1217.2 L1613.5,1212.8 L1614.0,1218.3 L1614.5,1215.0 L1615.0,1216.8 L1615.5,1214.6 L1616.0,1212.7 L1616.5,1208.6 L1617.0,1215.1 L1617.5,1219.0 L1618.0,1214.1 L1618.5,1211.9 L1619.0,1217.8 L1619.5,1217.2 L1620.0,1220.0 L1620.5,1219.2 L1621.0,1201.1 L1621.5,1210.8 L1622.0,1213.5 L1622.5,1212.8 L1623.0,1205.4 L1623.5,1218.3 L1624.0,1213.7 L1624.5,1212.0 L1625.0,1212.2 L1625.5,1212.7 L1626.0,1210.6 L1626.5,1215.5 L1627.0,1217.4 L1627.5,1203.3 L1628.0,1213.5 L1628.5,1205.7 L1629.0,1201.0 L1629.5,1211.6 L1630.0,1207.1 L1630.5,1209.8 L1631.0,1202.1 L1631.5,1204.1 L1632.0,1208.3 L1632.5,1207.3 L1633.0,1202.1 L1633.5,1210.9 L1634.0,1207.8 L1634.5,1208.2 L1635.0,1211.0 L1635.5,1214.9 L1636.0,1207.2 L1636.5,1203.2 L1637.0,1206.1 L1637.5,1211.7 L1638.0,1208.3 L1638.5,1211.6 L1639.0,1196.7 L1639.5,1209.1 L1640.0,1209.5 L1640.5,1209.4 L1641.0,1211.5 L1641.5,1207.9 L1642.0,1212.3 L1642.5,1206.2 L1643.0,1204.7 L1643.5,1212.0 L1644.0,1203.9 L1644.5,1206.7 L1645.0,1204.9 L1645.5,1207.8 L1646.0,1202.5 L1646.5,1203.8 L1647.0,1205.4 L1647.5,1207.3 L1648.0,1205.0 L1648.5,1198.5 L1649.0,1204.6 L1649.5,1200.4 L1650.0,1208.8 L1650.5,1202.8 L1651.0,1201.5 L1651.5,1205.1 L1652.0,1204.2 L1652.5,1208.4 L1653.0,1205.4 L1653.5,1201.6 L1654.0,1200.1 L1654.5,1198.4 L1655.0,1201.6 L1655.5,1198.3 L1656.0,1204.7 L1656.5,1200.2 L1657.0,1205.9 L1657.5,1194.7 L1658.0,1192.2 L1658.5,1196.5 L1659.0,1196.0 L1659.5,1201.0 L1660.0,1196.9 L1660.5,1194.9 L1661.0,1201.9 L1661.5,1195.2 L1662.0,1203.7 L1662.5,1200.9 L1663.0,1199.1 L1663.5,1203.1 L1664.0,1199.3 L1664.5,1195.8 L1665.0,1199.6 L1665.5,1193.3 L1666.0,1201.8 L1666.5,1196.7 L1667.0,1201.2 L1667.5,1197.4 L1668.0,1199.8 L1668.5,1195.9 L1669.0,1202.0 L1669.5,1194.2 L1670.0,1195.3 L1670.5,1198.8 L1671.0,1198.1 L1671.5,1196.5 L1672.0,1194.3 L1672.5,1199.4 L1673.0,1199.9 L1673.5,1197.1 L1674.0,1192.6 L1674.5,1196.1 L1675.0,1196.7 L1675.5,1198.5 L1676.0,1198.5 L1676.5,1193.7 L1677.0,1194.8 L1677.5,1193.1 L1678.0,1194.6 L1678.5,1192.1 L1679.0,1199.0 L1679.5,1196.2 L1680.0,1199.6 L1680.5,1197.8 L1681.0,1183.7 L1681.5,1195.8 L1682.0,1191.3 L1682.5,1191.3 L1683.0,1195.7 L1683.5,1191.5 L1684.0,1184.9 L1684.5,1195.9 L1685.0,1194.5 L1685.5,1195.2 L1686.0,1179.6 L1686.5,1197.1 L1687.0,1192.4 L1687.5,1188.3 L1688.0,1180.1 L1688.5,1187.5 L1689.0,1192.0 L1689.5,1188.1 L1690.0,1193.5 L1690.5,1182.5 L1691.0,1186.9 L1691.5,1192.2 L1692.0,1193.6 L1692.5,1192.5 L1693.0,1196.0 L1693.5,1194.4 L1694.0,1190.2 L1694.5,1191.2 L1695.0,1198.1 L1695.5,1197.8 L1696.0,1196.4 L1696.5,1188.4 L1697.0,1196.4 L1697.5,1194.5 L1698.0,1200.0 L1698.5,1194.7 L1699.0,1198.4 L1699.5,1205.6 L1700.0,1183.5 L1700.5,1203.2 L1701.0,1201.4 L1701.5,1197.6 L1702.0,1190.6 L1702.5,1209.7 L1703.0,1210.3 L1703.5,1203.8 L1704.0,1214.8 L1704.5,1207.6 L1705.0,1200.0 L1705.5,1206.9 L1706.0,1207.0 L1706.5,1208.7 L1707.0,1193.6 L1707.5,1199.3 L1708.0,1207.9 L1708.5,1209.0 L1709.0,1209.6 L1709.5,1215.8 L1710.0,1215.5 L1710.5,1216.3 L1711.0,1207.6 L1711.5,1209.6 L1712.0,1206.6 L1712.5,1210.9 L1713.0,1209.6 L1713.5,1207.9 L1714.0,1201.5 L1714.5,1204.4 L1715.0,1212.5 L1715.5,1210.2 L1716.0,1212.8 L1716.5,1212.4 L1717.0,1204.5 L1717.5,1204.9 L1718.0,1207.0 L1718.5,1205.6 L1719.0,1203.7 L1719.5,1210.6 L1720.0,1202.5 L1720.5,1202.7 L1721.0,1194.5 L1721.5,1207.6 L1722.0,1195.8 L1722.5,1206.2 L1723.0,1201.0 L1723.5,1207.0 L1724.0,1202.9 L1724.5,1187.0 L1725.0,1205.6 L1725.5,1199.0 L1726.0,1204.6 L1726.5,1205.8 L1727.0,1201.5 L1727.5,1196.3 L1728.0,1199.3 L1728.5,1200.0 L1729.0,1202.0 L1729.5,1199.9 L1730.0,1202.2 L1730.5,1186.1 L1731.0,1193.9 L1731.5,1191.6 L1732.0,1191.9 L1732.5,1195.0 L1733.0,1185.1 L1733.5,1197.8 L1734.0,1192.5 L1734.5,1191.6 L1735.0,1187.4 L1735.5,1188.3 L1736.0,1189.1 L1736.5,1184.5 L1737.0,1188.4 L1737.5,1185.1 L1738.0,1184.3 L1738.5,1190.5 L1739.0,1185.8 L1739.5,1180.1 L1740.0,1172.6 L1740.5,1181.1 L1741.0,1184.3 L1741.5,1181.2 L1742.0,1176.1 L1742.5,1173.1 L1743.0,1181.5 L1743.5,1183.1 L1744.0,1173.9 L1744.5,1184.7 L1745.0,1174.4 L1745.5,1179.1 L1746.0,1183.8 L1746.5,1187.9 L1747.0,1185.8 L1747.5,1184.5 L1748.0,1185.4 L1748.5,1187.5 L1749.0,1184.6 L1749.5,1183.4 L1750.0,1185.4 L1750.5,1191.1 L1751.0,1188.9 L1751.5,1186.8 L1752.0,1189.6 L1752.5,1185.9 L1753.0,1188.9 L1753.5,1183.3 L1754.0,1187.5 L1754.5,1189.6 L1755.0,1187.8 L1755.5,1185.5 L1756.0,1190.1 L1756.5,1189.6 L1757.0,1177.3 L1757.5,1191.4 L1758.0,1177.8 L1758.5,1185.7 L1759.0,1192.4 L1759.5,1187.5 L1760.0,1182.7 L1760.5,1186.4 L1761.0,1180.8 L1761.5,1186.5 L1762.0,1181.3 L1762.5,1190.6 L1763.0,1186.2 L1763.5,1181.0 L1764.0,1177.1 L1764.5,1189.6 L1765.0,1189.9 L1765.5,1188.6 L1766.0,1183.8 L1766.5,1181.8 L1767.0,1183.6 L1767.5,1190.3 L1768.0,1188.6 L1768.5,1188.5 L1769.0,1187.9 L1769.5,1187.0 L1770.0,1181.9 L1770.5,1184.5 L1771.0,1180.8 L1771.5,1187.8 L1772.0,1178.7 L1772.5,1185.8 L1773.0,1183.8 L1773.5,1182.2 L1774.0,1180.1 L1774.5,1184.8 L1775.0,1181.4 L1775.5,1185.3 L1776.0,1182.8 L1776.5,1179.0 L1777.0,1171.9 L1777.5,1183.0 L1778.0,1183.7 L1778.5,1181.4 L1779.0,1179.9 L1779.5,1184.4 L1780.0,1181.6 L1780.5,1181.2 L1781.0,1178.9 L1781.5,1174.1 L1782.0,1179.8 L1782.5,1177.6 L1783.0,1181.6 L1783.5,1180.0 L1784.0,1187.5 L1784.5,1177.3 L1785.0,1182.8 L1785.5,1188.7 L1786.0,1184.7 L1786.5,1184.8 L1787.0,1188.1 L1787.5,1189.9 L1788.0,1170.6 L1788.5,1184.8 L1789.0,1184.9 L1789.5,1190.3 L1790.0,1185.7 L1790.5,1187.0 L1791.0,1187.8 L1791.5,1186.5 L1792.0,1187.6 L1792.5,1192.1 L1793.0,1190.8 L1793.5,1190.3 L1794.0,1187.7 L1794.5,1191.2 L1795.0,1190.9 L1795.5,1179.5 L1796.0,1191.8 L1796.5,1191.1 L1797.0,1194.6 L1797.5,1194.4 L1798.0,1194.6 L1798.5,1191.5 L1799.0,1179.8 L1799.5,1191.3 L1800.0,1191.1 L1800.5,1192.3 L1801.0,1191.3 L1801.5,1194.6 L1802.0,1186.4 L1802.5,1196.2 L1803.0,1195.1 L1803.5,1199.4 L1804.0,1192.8 L1804.5,1194.1 L1805.0,1193.1 L1805.5,1196.9 L1806.0,1195.8 L1806.5,1200.5 L1807.0,1200.0 L1807.5,1190.3 L1808.0,1197.2 L1808.5,1189.3 L1809.0,1203.0 L1809.5,1198.8 L1810.0,1193.4 L1810.5,1198.3 L1811.0,1202.1 L1811.5,1201.3 L1812.0,1199.4 L1812.5,1193.3 L1813.0,1200.1 L1813.5,1201.3 L1814.0,1195.5 L1814.5,1202.4 L1815.0,1203.1 L1815.5,1203.4 L1816.0,1199.9 L1816.5,1207.0 L1817.0,1202.8 L1817.5,1203.3 L1818.0,1198.9 L1818.5,1198.4 L1819.0,1201.8 L1819.5,1194.9 L1820.0,1207.7 L1820.5,1205.7 L1821.0,1207.2 L1821.5,1206.5 L1822.0,1204.9 L1822.5,1198.7 L1823.0,1201.9 L1823.5,1198.2 L1824.0,1200.6 L1824.5,1197.2 L1825.0,1197.8 L1825.5,1196.7 L1826.0,1195.2 L1826.5,1194.0 L1827.0,1193.7 L1827.5,1184.9 L1828.0,1195.2 L1828.5,1190.4 L1829.0,1192.8 L1829.5,1191.3 L1830.0,1191.3 L1830.5,1193.1 L1831.0,1193.5 L1831.5,1185.9 L1832.0,1191.0 L1832.5,1183.6 L1833.0,1184.9 L1833.5,1185.9 L1834.0,1180.0 L1834.5,1182.3 L1835.0,1188.6 L1835.5,1180.2 L1836.0,1187.4 L1836.5,1180.4 L1837.0,1176.8 L1837.5,1172.9 L1838.0,1183.9 L1838.5,1183.2 L1839.0,1182.6 L1839.5,1184.7 L1840.0,1181.5 L1840.5,1178.2 L1841.0,1179.2 L1841.5,1175.8 L1842.0,1179.7 L1842.5,1179.3 L1843.0,1173.7 L1843.5,1168.9 L1844.0,1174.0 L1844.5,1173.5 L1845.0,1171.3 L1845.5,1179.0 L1846.0,1173.2 L1846.5,1173.4 L1847.0,1171.4 L1847.5,1167.2 L1848.0,1176.4 L1848.5,1169.5 L1849.0,1174.2 L1849.5,1171.6 L1850.0,1171.1 L1850.5,1166.7 L1851.0,1165.9 L1851.5,1167.8 L1852.0,1171.3 L1852.5,1172.7 L1853.0,1165.9 L1853.5,1166.7 L1854.0,1165.1 L1854.5,1164.2 L1855.0,1154.9 L1855.5,1152.6 L1856.0,1162.0 L1856.5,1161.5 L1857.0,1165.6 L1857.5,1165.1 L1858.0,1153.2 L1858.5,1160.3 L1859.0,1161.5 L1859.5,1161.6 L1860.0,1161.3 L1860.5,1158.8 L1861.0,1153.0 L1861.5,1152.8 L1862.0,1162.7 L1862.5,1155.7 L1863.0,1158.4 L1863.5,1144.7 L1864.0,1158.5 L1864.5,1154.1 L1865.0,1154.2 L1865.5,1140.0 L1866.0,1152.3 L1866.5,1150.1 L1867.0,1157.6 L1867.5,1149.9 L1868.0,1157.4 L1868.5,1149.4 L1869.0,1148.8 L1869.5,1157.2 L1870.0,1154.5 L1870.5,1149.4 L1871.0,1157.1 L1871.5,1150.2 L1872.0,1147.0 L1872.5,1147.5 L1873.0,1140.8 L1873.5,1153.4 L1874.0,1141.1 L1874.5,1153.2 L1875.0,1147.0 L1875.5,1152.1 L1876.0,1154.4 L1876.5,1147.7 L1877.0,1152.8 L1877.5,1146.0 L1878.0,1151.3 L1878.5,1154.8 L1879.0,1146.5 L1879.5,1151.1 L1880.0,1154.2 L1880.5,1154.4 L1881.0,1154.4 L1881.5,1146.4 L1882.0,1147.1 L1882.5,1139.1 L1883.0,1153.1 L1883.5,1135.9 L1884.0,1153.5 L1884.5,1145.3 L1885.0,1151.2 L1885.5,1139.5 L1886.0,1148.6 L1886.5,1143.9 L1887.0,1139.7 L1887.5,1140.5 L1888.0,1144.9 L1888.5,1147.6 L1889.0,1146.6 L1889.5,1148.5 L1890.0,1142.8 L1890.5,1139.9 L1891.0,1142.0 L1891.5,1149.7 L1892.0,1149.5 L1892.5,1138.5 L1893.0,1149.1 L1893.5,1143.5 L1894.0,1148.0 L1894.5,1139.0 L1895.0,1139.9 L1895.5,1145.4 L1896.0,1138.5 L1896.5,1143.6 L1897.0,1141.0 L1897.5,1148.3 L1898.0,1140.0 L1898.5,1141.8 L1899.0,1139.7 L1899.5,1142.2 L1900.0,1145.0 L1900.5,1144.4 L1901.0,1137.9 L1901.5,1140.0 L1902.0,1133.5 L1902.5,1142.2 L1903.0,1145.5 L1903.5,1142.9 L1904.0,1140.5 L1904.5,1141.2 L1905.0,1137.5 L1905.5,1140.6 L1906.0,1146.2 L1906.5,1144.6 L1907.0,1147.3 L1907.5,1140.0 L1908.0,1134.3 L1908.5,1141.8 L1909.0,1144.2 L1909.5,1150.9 L1910.0,1143.9 L1910.5,1151.5 L1911.0,1148.8 L1911.5,1152.8 L1912.0,1152.8 L1912.5,1148.6 L1913.0,1149.0 L1913.5,1147.1 L1914.0,1146.4 L1914.5,1137.8 L1915.0,1148.4 L1915.5,1148.3 L1916.0,1143.4 L1916.5,1152.9 L1917.0,1153.1 L1917.5,1150.1 L1918.0,1152.7 L1918.5,1147.2 L1919.0,1149.2 L1919.5,1142.8 L1920.0,1147.4 L1920.5,1142.6 L1921.0,1148.2 L1921.5,1154.4 L1922.0,1157.8 L1922.5,1146.9 L1923.0,1143.6 L1923.5,1153.3 L1924.0,1152.0 L1924.5,1154.3 L1925.0,1156.9 L1925.5,1155.8 L1926.0,1153.2 L1926.5,1157.5 L1927.0,1149.9 L1927.5,1151.6 L1928.0,1159.6 L1928.5,1151.8 L1929.0,1161.6 L1929.5,1152.2 L1930.0,1159.0 L1930.5,1153.4 L1931.0,1144.0 L1931.5,1160.9 L1932.0,1160.5 L1932.5,1163.1 L1933.0,1152.3 L1933.5,1159.1 L1934.0,1151.6 L1934.5,1153.9 L1935.0,1152.2 L1935.5,1149.5 L1936.0,1154.5 L1936.5,1157.0 L1937.0,1160.4 L1937.5,1154.2 L1938.0,1151.4 L1938.5,1149.1 L1939.0,1153.5 L1939.5,1149.0 L1940.0,1150.1 L1940.5,1148.3 L1941.0,1158.8 L1941.5,1148.7 L1942.0,1149.7 L1942.5,1157.7 L1943.0,1144.5 L1943.5,1148.5 L1944.0,1151.6 L1944.5,1150.1 L1945.0,1151.3 L1945.5,1147.5 L1946.0,1147.7 L1946.5,1146.3 L1947.0,1152.9 L1947.5,1148.4 L1948.0,1134.5 L1948.5,1149.7 L1949.0,1142.6 L1949.5,1149.5 L1950.0,1146.0 L1950.5,1144.6 L1951.0,1147.3 L1951.5,1150.4 L1952.0,1143.6 L1952.5,1149.2 L1953.0,1154.6 L1953.5,1143.6 L1954.0,1143.3 L1954.5,1143.2 L1955.0,1142.1 L1955.5,1137.6 L1956.0,1146.9 L1956.5,1148.2 L1957.0,1153.4 L1957.5,1146.5 L1958.0,1148.5 L1958.5,1145.7 L1959.0,1149.5 L1959.5,1137.2 L1960.0,1153.8 L1960.5,1145.5 L1961.0,1151.5 L1961.5,1149.2 L1962.0,1149.2 L1962.5,1144.2 L1963.0,1153.0 L1963.5,1135.6 L1964.0,1148.4 L1964.5,1134.2 L1965.0,1136.9 L1965.5,1151.2 L1966.0,1147.5 L1966.5,1142.5 L1967.0,1141.4 L1967.5,1148.6 L1968.0,1140.5 L1968.5,1143.1 L1969.0,1142.0 L1969.5,1150.9 L1970.0,1147.6 L1970.5,1139.6 L1971.0,1149.1 L1971.5,1145.3 L1972.0,1143.1 L1972.5,1136.9 L1973.0,1144.9 L1973.5,1137.3 L1974.0,1135.3 L1974.5,1135.0 L1975.0,1138.6 L1975.5,1130.7 L1976.0,1135.8 L1976.5,1131.1 L1977.0,1129.1 L1977.5,1125.6 L1978.0,1126.6 L1978.5,1132.1 L1979.0,1125.4 L1979.5,1130.1 L1980.0,1134.0 L1980.5,1127.6 L1981.0,1131.6 L1981.5,1125.5 L1982.0,1126.8 L1982.5,1131.6 L1983.0,1130.3 L1983.5,1131.8 L1984.0,1128.1 L1984.5,1136.1 L1985.0,1126.6 L1985.5,1132.2 L1986.0,1133.2 L1986.5,1136.6 L1987.0,1141.7 L1987.5,1139.4 L1988.0,1133.3 L1988.5,1133.4 L1989.0,1133.6 L1989.5,1128.2 L1990.0,1134.9 L1990.5,1136.4 L1991.0,1133.6 L1991.5,1136.2 L1992.0,1137.0 L1992.5,1134.4 L1993.0,1122.8 L1993.5,1131.3 L1994.0,1113.1 L1994.5,1132.9 L1995.0,1131.3 L1995.5,1125.1 L1996.0,1123.2 L1996.5,1122.3 L1997.0,1123.7 L1997.5,1126.1 L1998.0,1125.5 L1998.5,1125.4 L1999.0,1123.0 L1999.5,1120.4 L2000.0,1118.8 L2000.5,1103.8 L2001.0,1105.0 L2001.5,1111.9 L2002.0,1115.9 L2002.5,1108.3 L2003.0,1109.3 L2003.5,1107.2 L2004.0,1105.4 L2004.5,1103.0 L2005.0,1099.6 L2005.5,1108.1 L2006.0,1107.0 L2006.5,1101.6 L2007.0,1090.9 L2007.5,1098.4 L2008.0,1103.5 L2008.5,1101.9 L2009.0,1097.0 L2009.5,1103.0 L2010.0,1093.1 L2010.5,1114.8 L2011.0,1111.6 L2011.5,1109.8 L2012.0,1110.8 L2012.5,1117.5 L2013.0,1121.9 L2013.5,1123.6 L2014.0,1131.0 L2014.5,1122.5 L2015.0,1129.1 L2015.5,1130.4 L2016.0,1130.3 L2016.5,1125.5 L2017.0,1118.8 L2017.5,1134.7 L2018.0,1121.1 L2018.5,1125.5 L2019.0,1128.2 L2019.5,1131.8 L2020.0,1127.6 L2020.5,1123.0 L2021.0,1134.7 L2021.5,1132.2 L2022.0,1132.9 L2022.5,1127.3 L2023.0,1133.3 L2023.5,1121.2 L2024.0,1115.9 L2024.5,1134.3 L2025.0,1125.6 L2025.5,1130.0 L2026.0,1130.5 L2026.5,1128.3 L2027.0,1124.6 L2027.5,1121.8 L2028.0,1126.5 L2028.5,1131.3 L2029.0,1130.6 L2029.5,1135.0 L2030.0,1119.4 L2030.5,1135.3 L2031.0,1127.7 L2031.5,1132.2 L2032.0,1131.8 L2032.5,1133.1 L2033.0,1129.9 L2033.5,1131.1 L2034.0,1135.6 L2034.5,1131.1 L2035.0,1138.1 L2035.5,1136.4 L2036.0,1125.2 L2036.5,1128.8 L2037.0,1135.2 L2037.5,1124.2 L2038.0,1136.2 L2038.5,1139.4 L2039.0,1128.4 L2039.5,1137.1 L2040.0,1142.5 L2040.5,1133.4 L2041.0,1141.9 L2041.5,1138.7 L2042.0,1122.3 L2042.5,1137.1 L2043.0,1140.7 L2043.5,1141.4 L2044.0,1142.2 L2044.5,1131.2 L2045.0,1139.1 L2045.5,1140.9 L2046.0,1132.7 L2046.5,1131.6 L2047.0,1129.4 L2047.5,1130.9 L2048.0,1132.1 L2048.5,1121.4 L2049.0,1125.5 L2049.5,1124.1 L2050.0,1107.4 L2050.5,1118.2 L2051.0,1111.3 L2051.5,1112.7 L2052.0,1116.4 L2052.5,1116.0 L2053.0,1113.4 L2053.5,1105.3 L2054.0,1115.9 L2054.5,1108.1 L2055.0,1117.8 L2055.5,1120.5 L2056.0,1119.6 L2056.0,1283.5 L2055.5,1272.1 L2055.0,1292.1 L2054.5,1157.0 L2054.0,1159.1 L2053.5,1165.3 L2053.0,1302.1 L2052.5,1322.1 L2052.0,1153.1 L2051.5,1163.5 L2051.0,1166.5 L2050.5,1168.5 L2050.0,1161.8 L2049.5,1247.2 L2049.0,1267.2 L2048.5,1179.6 L2048.0,1187.4 L2047.5,1185.5 L2047.0,1187.1 L2046.5,1191.8 L2046.0,1185.6 L2045.5,1190.8 L2045.0,1198.8 L2044.5,1186.3 L2044.0,1191.7 L2043.5,1197.6 L2043.0,1183.9 L2042.5,1181.3 L2042.0,1188.6 L2041.5,1199.6 L2041.0,1180.2 L2040.5,1184.7 L2040.0,1198.2 L2039.5,1212.6 L2039.0,1206.0 L2038.5,1198.0 L2038.0,1201.8 L2037.5,1243.9 L2037.0,1263.9 L2036.5,1288.3 L2036.0,1308.3 L2035.5,1184.7 L2035.0,1180.2 L2034.5,1184.8 L2034.0,1182.7 L2033.5,1193.0 L2033.0,1199.6 L2032.5,1193.2 L2032.0,1195.2 L2031.5,1176.0 L2031.0,1198.1 L2030.5,1196.3 L2030.0,1190.6 L2029.5,1178.5 L2029.0,1178.6 L2028.5,1200.6 L2028.0,1191.8 L2027.5,1198.7 L2027.0,1184.1 L2026.5,1180.4 L2026.0,1191.9 L2025.5,1194.7 L2025.0,1385.0 L2024.5,1385.0 L2024.0,1385.0 L2023.5,1385.0 L2023.0,1385.0 L2022.5,1385.0 L2022.0,1385.0 L2021.5,1385.0 L2021.0,1385.0 L2020.5,1385.0 L2020.0,1385.0 L2019.5,1385.0 L2019.0,1385.0 L2018.5,1385.0 L2018.0,1385.0 L2017.5,1385.0 L2017.0,1385.0 L2016.5,1385.0 L2016.0,1385.0 L2015.5,1385.0 L2015.0,1385.0 L2014.5,1385.0 L2014.0,1385.0 L2013.5,1385.0 L2013.0,1385.0 L2012.5,1385.0 L2012.0,1385.0 L2011.5,1164.5 L2011.0,1180.2 L2010.5,1176.2 L2010.0,1176.7 L2009.5,1166.5 L2009.0,1160.5 L2008.5,1177.6 L2008.0,1151.5 L2007.5,1160.5 L2007.0,1171.2 L2006.5,1166.3 L2006.0,1173.5 L2005.5,1164.9 L2005.0,1158.8 L2004.5,1164.1 L2004.0,1166.9 L2003.5,1174.6 L2003.0,1170.0 L2002.5,1184.0 L2002.0,1183.6 L2001.5,1168.6 L2001.0,1194.1 L2000.5,1196.7 L2000.0,1181.5 L1999.5,1184.8 L1999.0,1174.5 L1998.5,1190.3 L1998.0,1174.7 L1997.5,1185.6 L1997.0,1194.4 L1996.5,1177.2 L1996.0,1192.4 L1995.5,1196.1 L1995.0,1183.4 L1994.5,1196.4 L1994.0,1189.7 L1993.5,1188.1 L1993.0,1195.4 L1992.5,1198.7 L1992.0,1187.8 L1991.5,1200.3 L1991.0,1204.6 L1990.5,1194.8 L1990.0,1213.2 L1989.5,1190.8 L1989.0,1188.1 L1988.5,1200.5 L1988.0,1266.7 L1987.5,1286.7 L1987.0,1306.7 L1986.5,1222.3 L1986.0,1194.0 L1985.5,1210.4 L1985.0,1203.3 L1984.5,1193.4 L1984.0,1188.6 L1983.5,1203.2 L1983.0,1234.6 L1982.5,1254.6 L1982.0,1214.4 L1981.5,1195.9 L1981.0,1183.2 L1980.5,1200.6 L1980.0,1187.4 L1979.5,1191.8 L1979.0,1183.0 L1978.5,1191.1 L1978.0,1182.5 L1977.5,1188.5 L1977.0,1194.4 L1976.5,1195.5 L1976.0,1185.1 L1975.5,1205.3 L1975.0,1203.6 L1974.5,1223.1 L1974.0,1208.2 L1973.5,1312.3 L1973.0,1332.3 L1972.5,1211.3 L1972.0,1208.0 L1971.5,1208.7 L1971.0,1202.7 L1970.5,1209.8 L1970.0,1234.7 L1969.5,1211.4 L1969.0,1257.9 L1968.5,1277.9 L1968.0,1208.3 L1967.5,1206.7 L1967.0,1201.7 L1966.5,1206.2 L1966.0,1205.3 L1965.5,1208.5 L1965.0,1217.1 L1964.5,1280.4 L1964.0,1300.4 L1963.5,1209.6 L1963.0,1219.0 L1962.5,1212.3 L1962.0,1206.8 L1961.5,1208.5 L1961.0,1198.3 L1960.5,1206.5 L1960.0,1213.1 L1959.5,1204.2 L1959.0,1196.3 L1958.5,1208.8 L1958.0,1211.8 L1957.5,1202.0 L1957.0,1195.7 L1956.5,1209.3 L1956.0,1213.0 L1955.5,1208.2 L1955.0,1216.4 L1954.5,1202.6 L1954.0,1319.4 L1953.5,1339.4 L1953.0,1229.0 L1952.5,1211.2 L1952.0,1206.3 L1951.5,1249.6 L1951.0,1269.6 L1950.5,1202.4 L1950.0,1226.6 L1949.5,1218.4 L1949.0,1229.2 L1948.5,1209.8 L1948.0,1215.2 L1947.5,1210.8 L1947.0,1217.3 L1946.5,1210.5 L1946.0,1212.9 L1945.5,1206.1 L1945.0,1209.7 L1944.5,1218.6 L1944.0,1205.2 L1943.5,1215.9 L1943.0,1203.0 L1942.5,1213.1 L1942.0,1220.6 L1941.5,1217.1 L1941.0,1222.3 L1940.5,1212.0 L1940.0,1204.8 L1939.5,1219.0 L1939.0,1228.9 L1938.5,1219.4 L1938.0,1215.0 L1937.5,1212.6 L1937.0,1208.3 L1936.5,1211.6 L1936.0,1219.5 L1935.5,1207.4 L1935.0,1221.4 L1934.5,1216.9 L1934.0,1219.8 L1933.5,1320.0 L1933.0,1340.0 L1932.5,1215.7 L1932.0,1211.4 L1931.5,1294.0 L1931.0,1314.0 L1930.5,1222.1 L1930.0,1204.6 L1929.5,1212.3 L1929.0,1218.4 L1928.5,1223.3 L1928.0,1223.0 L1927.5,1214.7 L1927.0,1202.6 L1926.5,1218.4 L1926.0,1313.4 L1925.5,1333.4 L1925.0,1287.6 L1924.5,1307.6 L1924.0,1204.0 L1923.5,1212.3 L1923.0,1202.5 L1922.5,1219.6 L1922.0,1215.1 L1921.5,1208.9 L1921.0,1207.2 L1920.5,1209.4 L1920.0,1213.7 L1919.5,1207.5 L1919.0,1204.9 L1918.5,1226.1 L1918.0,1246.1 L1917.5,1200.1 L1917.0,1203.3 L1916.5,1276.6 L1916.0,1296.6 L1915.5,1264.8 L1915.0,1214.9 L1914.5,1203.6 L1914.0,1203.5 L1913.5,1210.6 L1913.0,1192.3 L1912.5,1202.5 L1912.0,1193.1 L1911.5,1200.3 L1911.0,1199.2 L1910.5,1210.0 L1910.0,1190.5 L1909.5,1197.3 L1909.0,1218.0 L1908.5,1193.3 L1908.0,1195.1 L1907.5,1192.5 L1907.0,1208.7 L1906.5,1204.5 L1906.0,1201.6 L1905.5,1190.5 L1905.0,1189.0 L1904.5,1198.8 L1904.0,1191.1 L1903.5,1194.9 L1903.0,1192.3 L1902.5,1200.1 L1902.0,1208.8 L1901.5,1194.2 L1901.0,1203.0 L1900.5,1196.6 L1900.0,1197.2 L1899.5,1202.0 L1899.0,1185.5 L1898.5,1197.3 L1898.0,1197.9 L1897.5,1190.5 L1897.0,1185.4 L1896.5,1204.4 L1896.0,1189.3 L1895.5,1204.9 L1895.0,1193.9 L1894.5,1214.2 L1894.0,1253.6 L1893.5,1273.6 L1893.0,1198.8 L1892.5,1196.6 L1892.0,1187.4 L1891.5,1201.1 L1891.0,1198.5 L1890.5,1238.4 L1890.0,1258.4 L1889.5,1193.5 L1889.0,1205.2 L1888.5,1196.9 L1888.0,1201.1 L1887.5,1207.0 L1887.0,1198.0 L1886.5,1207.6 L1886.0,1204.9 L1885.5,1198.9 L1885.0,1189.9 L1884.5,1207.3 L1884.0,1207.6 L1883.5,1204.0 L1883.0,1198.2 L1882.5,1197.3 L1882.0,1216.5 L1881.5,1195.4 L1881.0,1197.8 L1880.5,1192.1 L1880.0,1195.0 L1879.5,1204.4 L1879.0,1205.2 L1878.5,1189.7 L1878.0,1301.2 L1877.5,1321.2 L1877.0,1203.0 L1876.5,1205.6 L1876.0,1217.6 L1875.5,1193.5 L1875.0,1194.7 L1874.5,1203.5 L1874.0,1232.1 L1873.5,1252.1 L1873.0,1203.6 L1872.5,1205.2 L1872.0,1197.7 L1871.5,1202.3 L1871.0,1192.9 L1870.5,1192.3 L1870.0,1203.0 L1869.5,1193.6 L1869.0,1205.1 L1868.5,1196.3 L1868.0,1209.0 L1867.5,1208.7 L1867.0,1218.6 L1866.5,1192.9 L1866.0,1205.2 L1865.5,1227.4 L1865.0,1200.0 L1864.5,1207.7 L1864.0,1198.4 L1863.5,1199.5 L1863.0,1196.0 L1862.5,1207.2 L1862.0,1200.7 L1861.5,1224.0 L1861.0,1244.0 L1860.5,1211.5 L1860.0,1205.3 L1859.5,1209.0 L1859.0,1217.7 L1858.5,1208.8 L1858.0,1206.1 L1857.5,1216.5 L1857.0,1204.7 L1856.5,1235.1 L1856.0,1214.9 L1855.5,1213.6 L1855.0,1212.5 L1854.5,1206.4 L1854.0,1208.0 L1853.5,1212.7 L1853.0,1206.8 L1852.5,1215.9 L1852.0,1214.3 L1851.5,1219.1 L1851.0,1214.9 L1850.5,1303.4 L1850.0,1323.4 L1849.5,1221.8 L1849.0,1220.3 L1848.5,1227.8 L1848.0,1211.7 L1847.5,1216.1 L1847.0,1224.2 L1846.5,1209.7 L1846.0,1218.6 L1845.5,1210.2 L1845.0,1214.6 L1844.5,1215.9 L1844.0,1228.0 L1843.5,1220.3 L1843.0,1234.7 L1842.5,1219.4 L1842.0,1218.4 L1841.5,1231.4 L1841.0,1223.6 L1840.5,1214.8 L1840.0,1217.7 L1839.5,1224.8 L1839.0,1224.6 L1838.5,1219.1 L1838.0,1227.6 L1837.5,1218.3 L1837.0,1229.6 L1836.5,1217.2 L1836.0,1218.6 L1835.5,1232.5 L1835.0,1227.7 L1834.5,1222.3 L1834.0,1222.9 L1833.5,1234.0 L1833.0,1223.9 L1832.5,1228.8 L1832.0,1227.8 L1831.5,1232.2 L1831.0,1236.4 L1830.5,1227.7 L1830.0,1223.2 L1829.5,1225.2 L1829.0,1224.6 L1828.5,1230.2 L1828.0,1224.9 L1827.5,1230.0 L1827.0,1235.5 L1826.5,1232.3 L1826.0,1239.3 L1825.5,1245.9 L1825.0,1237.4 L1824.5,1232.3 L1824.0,1230.7 L1823.5,1234.4 L1823.0,1242.4 L1822.5,1233.8 L1822.0,1240.2 L1821.5,1242.6 L1821.0,1236.6 L1820.5,1241.6 L1820.0,1240.9 L1819.5,1233.6 L1819.0,1233.9 L1818.5,1233.3 L1818.0,1241.9 L1817.5,1239.9 L1817.0,1246.0 L1816.5,1236.0 L1816.0,1234.8 L1815.5,1242.5 L1815.0,1231.4 L1814.5,1233.3 L1814.0,1229.6 L1813.5,1231.7 L1813.0,1227.7 L1812.5,1235.0 L1812.0,1227.2 L1811.5,1236.6 L1811.0,1232.8 L1810.5,1230.8 L1810.0,1226.3 L1809.5,1232.8 L1809.0,1232.8 L1808.5,1229.9 L1808.0,1237.3 L1807.5,1226.5 L1807.0,1231.9 L1806.5,1223.7 L1806.0,1227.8 L1805.5,1225.9 L1805.0,1227.4 L1804.5,1230.2 L1804.0,1228.9 L1803.5,1223.4 L1803.0,1221.5 L1802.5,1229.7 L1802.0,1220.8 L1801.5,1229.0 L1801.0,1225.8 L1800.5,1221.2 L1800.0,1227.6 L1799.5,1224.6 L1799.0,1231.4 L1798.5,1218.1 L1798.0,1230.1 L1797.5,1220.8 L1797.0,1223.9 L1796.5,1222.1 L1796.0,1218.3 L1795.5,1219.0 L1795.0,1222.7 L1794.5,1219.1 L1794.0,1224.7 L1793.5,1223.8 L1793.0,1220.4 L1792.5,1221.4 L1792.0,1220.4 L1791.5,1219.5 L1791.0,1215.6 L1790.5,1214.9 L1790.0,1216.7 L1789.5,1220.1 L1789.0,1215.3 L1788.5,1221.6 L1788.0,1218.6 L1787.5,1219.3 L1787.0,1214.8 L1786.5,1216.5 L1786.0,1212.5 L1785.5,1213.1 L1785.0,1217.7 L1784.5,1211.7 L1784.0,1214.3 L1783.5,1213.9 L1783.0,1219.1 L1782.5,1210.0 L1782.0,1216.5 L1781.5,1212.7 L1781.0,1209.1 L1780.5,1211.3 L1780.0,1208.8 L1779.5,1212.3 L1779.0,1212.9 L1778.5,1217.0 L1778.0,1209.7 L1777.5,1210.3 L1777.0,1215.7 L1776.5,1211.2 L1776.0,1212.2 L1775.5,1218.1 L1775.0,1211.3 L1774.5,1210.7 L1774.0,1214.2 L1773.5,1214.4 L1773.0,1215.8 L1772.5,1216.0 L1772.0,1214.9 L1771.5,1212.1 L1771.0,1212.4 L1770.5,1216.1 L1770.0,1215.6 L1769.5,1216.0 L1769.0,1225.7 L1768.5,1217.2 L1768.0,1216.7 L1767.5,1222.7 L1767.0,1220.3 L1766.5,1215.2 L1766.0,1218.2 L1765.5,1214.6 L1765.0,1222.3 L1764.5,1221.8 L1764.0,1224.8 L1763.5,1221.0 L1763.0,1215.7 L1762.5,1219.0 L1762.0,1220.3 L1761.5,1222.7 L1761.0,1215.9 L1760.5,1225.6 L1760.0,1216.5 L1759.5,1221.2 L1759.0,1225.2 L1758.5,1219.4 L1758.0,1216.5 L1757.5,1222.5 L1757.0,1221.9 L1756.5,1222.8 L1756.0,1218.3 L1755.5,1223.8 L1755.0,1217.9 L1754.5,1227.9 L1754.0,1218.6 L1753.5,1224.3 L1753.0,1226.3 L1752.5,1219.9 L1752.0,1220.5 L1751.5,1217.8 L1751.0,1226.9 L1750.5,1220.7 L1750.0,1223.6 L1749.5,1225.9 L1749.0,1220.8 L1748.5,1217.0 L1748.0,1217.8 L1747.5,1226.2 L1747.0,1217.1 L1746.5,1219.3 L1746.0,1225.0 L1745.5,1220.7 L1745.0,1218.8 L1744.5,1220.4 L1744.0,1219.0 L1743.5,1221.3 L1743.0,1216.2 L1742.5,1222.8 L1742.0,1217.1 L1741.5,1222.3 L1741.0,1221.2 L1740.5,1220.0 L1740.0,1222.1 L1739.5,1225.9 L1739.0,1217.4 L1738.5,1218.9 L1738.0,1224.5 L1737.5,1227.4 L1737.0,1221.3 L1736.5,1230.8 L1736.0,1223.8 L1735.5,1224.4 L1735.0,1232.2 L1734.5,1234.0 L1734.0,1236.2 L1733.5,1235.5 L1733.0,1231.2 L1732.5,1238.6 L1732.0,1232.9 L1731.5,1242.4 L1731.0,1234.9 L1730.5,1232.0 L1730.0,1241.7 L1729.5,1230.8 L1729.0,1233.1 L1728.5,1240.6 L1728.0,1245.0 L1727.5,1247.5 L1727.0,1235.6 L1726.5,1247.7 L1726.0,1248.4 L1725.5,1242.5 L1725.0,1241.6 L1724.5,1241.4 L1724.0,1244.9 L1723.5,1238.4 L1723.0,1238.9 L1722.5,1248.9 L1722.0,1251.3 L1721.5,1247.8 L1721.0,1251.7 L1720.5,1240.9 L1720.0,1248.7 L1719.5,1252.9 L1719.0,1250.0 L1718.5,1251.5 L1718.0,1241.9 L1717.5,1253.6 L1717.0,1243.4 L1716.5,1248.3 L1716.0,1245.8 L1715.5,1253.8 L1715.0,1254.4 L1714.5,1245.0 L1714.0,1253.3 L1713.5,1253.5 L1713.0,1258.8 L1712.5,1250.5 L1712.0,1252.6 L1711.5,1252.0 L1711.0,1254.6 L1710.5,1254.8 L1710.0,1257.1 L1709.5,1248.3 L1709.0,1266.7 L1708.5,1258.6 L1708.0,1254.7 L1707.5,1249.4 L1707.0,1263.1 L1706.5,1257.4 L1706.0,1252.2 L1705.5,1258.7 L1705.0,1253.6 L1704.5,1254.8 L1704.0,1251.4 L1703.5,1252.4 L1703.0,1247.7 L1702.5,1247.0 L1702.0,1250.5 L1701.5,1244.4 L1701.0,1250.2 L1700.5,1251.9 L1700.0,1249.4 L1699.5,1256.5 L1699.0,1247.8 L1698.5,1240.5 L1698.0,1244.8 L1697.5,1246.8 L1697.0,1244.9 L1696.5,1234.1 L1696.0,1240.3 L1695.5,1234.7 L1695.0,1244.6 L1694.5,1242.5 L1694.0,1233.8 L1693.5,1238.6 L1693.0,1227.8 L1692.5,1233.1 L1692.0,1237.8 L1691.5,1226.8 L1691.0,1238.7 L1690.5,1227.0 L1690.0,1233.4 L1689.5,1240.2 L1689.0,1230.7 L1688.5,1228.6 L1688.0,1227.0 L1687.5,1228.5 L1687.0,1227.9 L1686.5,1232.5 L1686.0,1228.6 L1685.5,1227.2 L1685.0,1222.3 L1684.5,1227.0 L1684.0,1226.6 L1683.5,1221.9 L1683.0,1226.7 L1682.5,1225.5 L1682.0,1228.3 L1681.5,1234.9 L1681.0,1225.0 L1680.5,1225.7 L1680.0,1235.1 L1679.5,1226.2 L1679.0,1224.7 L1678.5,1222.3 L1678.0,1229.6 L1677.5,1227.3 L1677.0,1222.0 L1676.5,1230.9 L1676.0,1236.7 L1675.5,1226.0 L1675.0,1227.6 L1674.5,1223.3 L1674.0,1229.0 L1673.5,1225.1 L1673.0,1227.5 L1672.5,1226.7 L1672.0,1228.8 L1671.5,1239.9 L1671.0,1231.1 L1670.5,1231.2 L1670.0,1231.6 L1669.5,1223.5 L1669.0,1228.8 L1668.5,1228.6 L1668.0,1229.0 L1667.5,1225.3 L1667.0,1225.4 L1666.5,1230.2 L1666.0,1232.7 L1665.5,1225.9 L1665.0,1229.0 L1664.5,1226.2 L1664.0,1224.9 L1663.5,1226.5 L1663.0,1231.6 L1662.5,1228.3 L1662.0,1229.0 L1661.5,1236.2 L1661.0,1231.4 L1660.5,1236.0 L1660.0,1228.7 L1659.5,1229.5 L1659.0,1235.7 L1658.5,1229.4 L1658.0,1233.7 L1657.5,1235.7 L1657.0,1233.0 L1656.5,1228.2 L1656.0,1236.1 L1655.5,1231.8 L1655.0,1235.3 L1654.5,1235.6 L1654.0,1236.9 L1653.5,1234.1 L1653.0,1235.2 L1652.5,1237.0 L1652.0,1236.1 L1651.5,1234.5 L1651.0,1236.1 L1650.5,1240.9 L1650.0,1237.7 L1649.5,1236.5 L1649.0,1236.2 L1648.5,1236.1 L1648.0,1235.2 L1647.5,1241.3 L1647.0,1240.1 L1646.5,1238.8 L1646.0,1235.5 L1645.5,1237.0 L1645.0,1241.6 L1644.5,1238.1 L1644.0,1240.5 L1643.5,1243.0 L1643.0,1236.9 L1642.5,1243.0 L1642.0,1242.4 L1641.5,1240.3 L1641.0,1238.7 L1640.5,1240.0 L1640.0,1246.3 L1639.5,1243.2 L1639.0,1236.5 L1638.5,1241.3 L1638.0,1243.4 L1637.5,1240.5 L1637.0,1236.4 L1636.5,1238.3 L1636.0,1239.4 L1635.5,1243.1 L1635.0,1244.5 L1634.5,1238.8 L1634.0,1241.0 L1633.5,1240.3 L1633.0,1246.2 L1632.5,1244.3 L1632.0,1250.5 L1631.5,1248.7 L1631.0,1242.7 L1630.5,1247.8 L1630.0,1244.8 L1629.5,1239.7 L1629.0,1244.3 L1628.5,1244.2 L1628.0,1246.9 L1627.5,1245.1 L1627.0,1248.6 L1626.5,1246.3 L1626.0,1248.5 L1625.5,1242.2 L1625.0,1253.5 L1624.5,1244.9 L1624.0,1247.2 L1623.5,1249.1 L1623.0,1247.9 L1622.5,1250.3 L1622.0,1250.8 L1621.5,1249.0 L1621.0,1251.4 L1620.5,1256.6 L1620.0,1249.9 L1619.5,1247.5 L1619.0,1243.3 L1618.5,1248.8 L1618.0,1249.2 L1617.5,1249.9 L1617.0,1242.5 L1616.5,1249.3 L1616.0,1243.6 L1615.5,1244.2 L1615.0,1245.1 L1614.5,1248.9 L1614.0,1249.4 L1613.5,1244.1 L1613.0,1242.8 L1612.5,1247.5 L1612.0,1246.1 L1611.5,1244.7 L1611.0,1244.2 L1610.5,1245.5 L1610.0,1243.2 L1609.5,1240.2 L1609.0,1247.1 L1608.5,1243.8 L1608.0,1243.9 L1607.5,1239.8 L1607.0,1237.6 L1606.5,1244.8 L1606.0,1237.5 L1605.5,1243.6 L1605.0,1238.7 L1604.5,1242.2 L1604.0,1238.6 L1603.5,1239.1 L1603.0,1242.3 L1602.5,1237.3 L1602.0,1241.6 L1601.5,1236.6 L1601.0,1242.3 L1600.5,1236.3 L1600.0,1241.8 L1599.5,1241.5 L1599.0,1236.3 L1598.5,1242.1 L1598.0,1234.7 L1597.5,1235.5 L1597.0,1238.0 L1596.5,1242.0 L1596.0,1238.9 L1595.5,1244.1 L1595.0,1231.5 L1594.5,1232.0 L1594.0,1238.6 L1593.5,1231.8 L1593.0,1238.5 L1592.5,1236.3 L1592.0,1233.7 L1591.5,1237.1 L1591.0,1234.7 L1590.5,1229.8 L1590.0,1241.5 L1589.5,1232.8 L1589.0,1230.2 L1588.5,1237.8 L1588.0,1237.9 L1587.5,1230.3 L1587.0,1231.0 L1586.5,1230.0 L1586.0,1235.2 L1585.5,1227.2 L1585.0,1225.5 L1584.5,1232.3 L1584.0,1229.4 L1583.5,1226.6 L1583.0,1234.1 L1582.5,1229.9 L1582.0,1230.1 L1581.5,1231.6 L1581.0,1224.7 L1580.5,1230.1 L1580.0,1227.3 L1579.5,1228.2 L1579.0,1229.1 L1578.5,1226.6 L1578.0,1229.1 L1577.5,1223.2 L1577.0,1223.9 L1576.5,1230.1 L1576.0,1230.3 L1575.5,1229.0 L1575.0,1227.4 L1574.5,1230.5 L1574.0,1234.5 L1573.5,1227.8 L1573.0,1229.4 L1572.5,1235.4 L1572.0,1229.8 L1571.5,1235.3 L1571.0,1233.5 L1570.5,1232.1 L1570.0,1234.2 L1569.5,1235.2 L1569.0,1232.0 L1568.5,1239.2 L1568.0,1244.3 L1567.5,1234.9 L1567.0,1239.2 L1566.5,1240.5 L1566.0,1232.9 L1565.5,1238.7 L1565.0,1232.9 L1564.5,1235.5 L1564.0,1236.6 L1563.5,1240.9 L1563.0,1238.0 L1562.5,1233.0 L1562.0,1236.8 L1561.5,1241.7 L1561.0,1243.0 L1560.5,1241.1 L1560.0,1239.1 L1559.5,1237.6 L1559.0,1236.9 L1558.5,1244.1 L1558.0,1235.7 L1557.5,1236.0 L1557.0,1239.9 L1556.5,1239.6 L1556.0,1241.7 L1555.5,1237.9 L1555.0,1241.3 L1554.5,1242.8 L1554.0,1243.6 L1553.5,1246.0 L1553.0,1244.6 L1552.5,1241.6 L1552.0,1241.8 L1551.5,1241.9 L1551.0,1243.4 L1550.5,1242.8 L1550.0,1244.1 L1549.5,1246.3 L1549.0,1242.8 L1548.5,1250.3 L1548.0,1241.7 L1547.5,1250.2 L1547.0,1243.6 L1546.5,1243.1 L1546.0,1247.9 L1545.5,1243.3 L1545.0,1245.7 L1544.5,1248.4 L1544.0,1249.0 L1543.5,1250.3 L1543.0,1247.3 L1542.5,1244.4 L1542.0,1241.6 L1541.5,1240.2 L1541.0,1246.2 L1540.5,1241.3 L1540.0,1241.3 L1539.5,1244.5 L1539.0,1239.1 L1538.5,1246.2 L1538.0,1238.6 L1537.5,1242.1 L1537.0,1238.8 L1536.5,1240.4 L1536.0,1241.4 L1535.5,1243.0 L1535.0,1243.1 L1534.5,1240.7 L1534.0,1237.9 L1533.5,1243.0 L1533.0,1235.3 L1532.5,1238.0 L1532.0,1236.4 L1531.5,1235.4 L1531.0,1233.6 L1530.5,1244.1 L1530.0,1237.8 L1529.5,1245.0 L1529.0,1236.5 L1528.5,1237.4 L1528.0,1244.4 L1527.5,1244.5 L1527.0,1239.6 L1526.5,1235.5 L1526.0,1243.6 L1525.5,1246.8 L1525.0,1245.2 L1524.5,1246.9 L1524.0,1237.3 L1523.5,1233.7 L1523.0,1246.3 L1522.5,1236.6 L1522.0,1243.5 L1521.5,1242.3 L1521.0,1244.0 L1520.5,1239.8 L1520.0,1242.5 L1519.5,1234.3 L1519.0,1237.6 L1518.5,1246.0 L1518.0,1248.2 L1517.5,1237.9 L1517.0,1235.5 L1516.5,1239.0 L1516.0,1234.4 L1515.5,1240.6 L1515.0,1247.3 L1514.5,1247.4 L1514.0,1242.1 L1513.5,1241.7 L1513.0,1234.1 L1512.5,1240.8 L1512.0,1244.9 L1511.5,1243.2 L1511.0,1235.6 L1510.5,1244.7 L1510.0,1247.1 L1509.5,1245.9 L1509.0,1239.8 L1508.5,1249.3 L1508.0,1250.3 L1507.5,1241.6 L1507.0,1251.0 L1506.5,1235.9 L1506.0,1239.8 L1505.5,1235.2 L1505.0,1238.6 L1504.5,1252.1 L1504.0,1245.1 L1503.5,1236.9 L1503.0,1246.8 L1502.5,1252.5 L1502.0,1239.9 L1501.5,1244.1 L1501.0,1253.9 L1500.5,1241.1 L1500.0,1246.7 L1499.5,1235.6 L1499.0,1237.9 L1498.5,1249.0 L1498.0,1248.5 L1497.5,1235.0 L1497.0,1258.9 L1496.5,1250.2 L1496.0,1250.3 L1495.5,1244.4 L1495.0,1240.8 L1494.5,1253.9 L1494.0,1244.7 L1493.5,1238.6 L1493.0,1252.8 L1492.5,1238.3 L1492.0,1236.0 L1491.5,1247.3 L1491.0,1236.4 L1490.5,1248.6 L1490.0,1255.5 L1489.5,1252.7 L1489.0,1242.3 L1488.5,1238.5 L1488.0,1248.7 L1487.5,1248.0 L1487.0,1248.0 L1486.5,1238.9 L1486.0,1255.3 L1485.5,1244.1 L1485.0,1252.0 L1484.5,1246.5 L1484.0,1254.6 L1483.5,1242.5 L1483.0,1242.5 L1482.5,1237.7 L1482.0,1240.5 L1481.5,1256.1 L1481.0,1242.9 L1480.5,1247.3 L1480.0,1241.5 L1479.5,1252.0 L1479.0,1244.1 L1478.5,1249.7 L1478.0,1247.4 L1477.5,1240.4 L1477.0,1253.6 L1476.5,1250.5 L1476.0,1251.5 L1475.5,1243.9 L1475.0,1254.9 L1474.5,1248.2 L1474.0,1245.8 L1473.5,1249.4 L1473.0,1247.7 L1472.5,1247.7 L1472.0,1251.0 L1471.5,1254.8 L1471.0,1252.9 L1470.5,1250.6 L1470.0,1250.6 L1469.5,1258.0 L1469.0,1255.1 L1468.5,1250.0 L1468.0,1260.9 L1467.5,1257.1 L1467.0,1260.4 L1466.5,1255.8 L1466.0,1249.6 L1465.5,1248.9 L1465.0,1259.5 L1464.5,1255.5 L1464.0,1257.1 L1463.5,1261.7 L1463.0,1250.6 L1462.5,1252.9 L1462.0,1264.4 L1461.5,1255.6 L1461.0,1256.3 L1460.5,1254.6 L1460.0,1255.8 L1459.5,1252.0 L1459.0,1250.6 L1458.5,1250.7 L1458.0,1252.2 L1457.5,1245.2 L1457.0,1247.8 L1456.5,1248.2 L1456.0,1243.9 L1455.5,1241.7 L1455.0,1240.2 L1454.5,1242.6 L1454.0,1237.2 L1453.5,1237.0 L1453.0,1234.8 L1452.5,1234.4 L1452.0,1233.6 L1451.5,1218.7 L1451.0,1219.0 L1450.5,1221.1 L1450.0,1217.4 L1449.5,1212.0 L1449.0,1204.7 L1448.5,1211.9 L1448.0,1202.3 L1447.5,1203.1 L1447.0,1203.1 L1446.5,1197.4 L1446.0,1199.3 L1445.5,1197.0 L1445.0,1194.3 L1444.5,1198.5 L1444.0,1189.8 L1443.5,1192.1 L1443.0,1190.1 L1442.5,1195.3 L1442.0,1188.6 L1441.5,1196.8 L1441.0,1195.4 L1440.5,1198.3 L1440.0,1199.5 L1439.5,1198.9 L1439.0,1205.5 L1438.5,1199.3 L1438.0,1199.3 L1437.5,1204.2 L1437.0,1202.3 L1436.5,1209.4 L1436.0,1206.1 L1435.5,1212.5 L1435.0,1209.1 L1434.5,1208.4 L1434.0,1220.9 L1433.5,1214.7 L1433.0,1213.6 L1432.5,1227.2 L1432.0,1218.8 L1431.5,1221.0 L1431.0,1225.8 L1430.5,1222.0 L1430.0,1223.4 L1429.5,1223.2 L1429.0,1223.8 L1428.5,1227.6 L1428.0,1220.4 L1427.5,1223.0 L1427.0,1229.4 L1426.5,1220.7 L1426.0,1225.0 L1425.5,1228.8 L1425.0,1228.8 L1424.5,1230.5 L1424.0,1229.9 L1423.5,1227.4 L1423.0,1226.5 L1422.5,1227.4 L1422.0,1228.0 L1421.5,1226.2 L1421.0,1225.1 L1420.5,1228.4 L1420.0,1230.0 L1419.5,1228.1 L1419.0,1230.2 L1418.5,1224.9 L1418.0,1228.6 L1417.5,1222.8 L1417.0,1222.8 L1416.5,1224.2 L1416.0,1230.2 L1415.5,1230.7 L1415.0,1227.0 L1414.5,1223.2 L1414.0,1230.6 L1413.5,1223.3 L1413.0,1226.6 L1412.5,1224.6 L1412.0,1224.1 L1411.5,1224.3 L1411.0,1233.2 L1410.5,1230.8 L1410.0,1222.5 L1409.5,1224.9 L1409.0,1225.7 L1408.5,1233.3 L1408.0,1224.6 L1407.5,1225.1 L1407.0,1223.6 L1406.5,1224.3 L1406.0,1233.2 L1405.5,1228.3 L1405.0,1224.5 L1404.5,1227.0 L1404.0,1224.1 L1403.5,1223.4 L1403.0,1226.7 L1402.5,1226.4 L1402.0,1222.1 L1401.5,1225.2 L1401.0,1225.6 L1400.5,1229.0 L1400.0,1223.3 L1399.5,1224.7 L1399.0,1219.6 L1398.5,1222.0 L1398.0,1225.5 L1397.5,1222.2 L1397.0,1222.4 L1396.5,1223.4 L1396.0,1224.9 L1395.5,1221.6 L1395.0,1219.8 L1394.5,1221.9 L1394.0,1225.0 L1393.5,1223.9 L1393.0,1227.3 L1392.5,1216.5 L1392.0,1222.5 L1391.5,1229.9 L1391.0,1224.7 L1390.5,1216.3 L1390.0,1223.4 L1389.5,1218.5 L1389.0,1219.8 L1388.5,1221.3 L1388.0,1224.6 L1387.5,1220.3 L1387.0,1216.6 L1386.5,1215.2 L1386.0,1215.6 L1385.5,1214.7 L1385.0,1216.2 L1384.5,1215.4 L1384.0,1217.0 L1383.5,1212.4 L1383.0,1209.4 L1382.5,1211.6 L1382.0,1211.1 L1381.5,1209.3 L1381.0,1214.0 L1380.5,1209.2 L1380.0,1210.5 L1379.5,1215.9 L1379.0,1208.0 L1378.5,1211.2 L1378.0,1209.6 L1377.5,1207.4 L1377.0,1205.4 L1376.5,1207.9 L1376.0,1206.4 L1375.5,1208.0 L1375.0,1205.2 L1374.5,1202.8 L1374.0,1203.2 L1373.5,1206.0 L1373.0,1206.3 L1372.5,1206.7 L1372.0,1202.5 L1371.5,1204.7 L1371.0,1204.1 L1370.5,1200.4 L1370.0,1200.4 L1369.5,1202.0 L1369.0,1198.1 L1368.5,1199.9 L1368.0,1198.3 L1367.5,1199.6 L1367.0,1197.3 L1366.5,1197.7 L1366.0,1197.7 L1365.5,1197.7 L1365.0,1195.8 L1364.5,1193.6 L1364.0,1199.8 L1363.5,1201.3 L1363.0,1192.2 L1362.5,1192.9 L1362.0,1195.3 L1361.5,1193.4 L1361.0,1189.8 L1360.5,1192.5 L1360.0,1190.5 L1359.5,1190.1 L1359.0,1192.3 L1358.5,1192.1 L1358.0,1186.5 L1357.5,1186.6 L1357.0,1185.5 L1356.5,1185.0 L1356.0,1183.9 L1355.5,1184.3 L1355.0,1186.1 L1354.5,1184.8 L1354.0,1182.8 L1353.5,1183.8 L1353.0,1182.6 L1352.5,1188.7 L1352.0,1183.5 L1351.5,1182.6 L1351.0,1180.6 L1350.5,1180.8 L1350.0,1179.3 L1349.5,1176.1 L1349.0,1179.9 L1348.5,1177.3 L1348.0,1177.5 L1347.5,1174.9 L1347.0,1173.8 L1346.5,1171.2 L1346.0,1172.5 L1345.5,1174.0 L1345.0,1178.7 L1344.5,1173.7 L1344.0,1174.7 L1343.5,1178.3 L1343.0,1176.0 L1342.5,1172.9 L1342.0,1178.8 L1341.5,1179.4 L1341.0,1181.7 L1340.5,1177.1 L1340.0,1173.8 L1339.5,1173.6 L1339.0,1179.5 L1338.5,1180.6 L1338.0,1175.5 L1337.5,1173.0 L1337.0,1172.4 L1336.5,1171.8 L1336.0,1171.4 L1335.5,1173.2 L1335.0,1176.3 L1334.5,1171.1 L1334.0,1171.9 L1333.5,1171.1 L1333.0,1171.7 L1332.5,1170.7Z" fill="#858585"/>
<path d="M1332.5,1163.5 L1333.0,1166.2 L1333.5,1164.8 L1334.0,1164.5 L1334.5,1171.5 L1335.0,1166.8 L1335.5,1168.7 L1336.0,1167.3 L1336.5,1168.7 L1337.0,1170.4 L1337.5,1168.7 L1338.0,1169.9 L1338.5,1171.4 L1339.0,1167.9 L1339.5,1168.7 L1340.0,1169.3 L1340.5,1169.0 L1341.0,1169.0 L1341.5,1166.6 L1342.0,1173.9 L1342.5,1167.3 L1343.0,1167.0 L1343.5,1166.6 L1344.0,1167.5 L1344.5,1167.5 L1345.0,1168.2 L1345.5,1166.7 L1346.0,1167.5 L1346.5,1166.5 L1347.0,1167.8 L1347.5,1168.3 L1348.0,1168.4 L1348.5,1168.8 L1349.0,1172.4 L1349.5,1170.4 L1350.0,1175.6 L1350.5,1171.1 L1351.0,1174.1 L1351.5,1177.0 L1352.0,1173.3 L1352.5,1176.3 L1353.0,1176.4 L1353.5,1177.5 L1354.0,1177.6 L1354.5,1177.5 L1355.0,1178.7 L1355.5,1179.9 L1356.0,1179.3 L1356.5,1177.7 L1357.0,1180.6 L1357.5,1184.6 L1358.0,1183.1 L1358.5,1181.9 L1359.0,1182.6 L1359.5,1185.5 L1360.0,1181.7 L1360.5,1183.0 L1361.0,1182.9 L1361.5,1185.0 L1362.0,1188.7 L1362.5,1185.5 L1363.0,1186.1 L1363.5,1184.4 L1364.0,1189.4 L1364.5,1187.2 L1365.0,1187.8 L1365.5,1188.6 L1366.0,1188.1 L1366.5,1190.2 L1367.0,1190.3 L1367.5,1191.3 L1368.0,1191.5 L1368.5,1194.1 L1369.0,1193.8 L1369.5,1191.0 L1370.0,1194.9 L1370.5,1192.4 L1371.0,1194.7 L1371.5,1196.1 L1372.0,1193.8 L1372.5,1192.1 L1373.0,1194.6 L1373.5,1197.3 L1374.0,1195.0 L1374.5,1197.6 L1375.0,1197.7 L1375.5,1197.8 L1376.0,1199.1 L1376.5,1195.4 L1377.0,1197.2 L1377.5,1194.8 L1378.0,1194.6 L1378.5,1199.3 L1379.0,1197.9 L1379.5,1197.7 L1380.0,1201.3 L1380.5,1198.9 L1381.0,1199.3 L1381.5,1200.9 L1382.0,1201.3 L1382.5,1201.4 L1383.0,1198.7 L1383.5,1199.1 L1384.0,1201.9 L1384.5,1201.7 L1385.0,1202.0 L1385.5,1207.0 L1386.0,1200.9 L1386.5,1203.0 L1387.0,1203.0 L1387.5,1204.1 L1388.0,1204.4 L1388.5,1202.0 L1389.0,1204.0 L1389.5,1204.2 L1390.0,1206.0 L1390.5,1203.2 L1391.0,1205.0 L1391.5,1209.6 L1392.0,1207.2 L1392.5,1207.4 L1393.0,1208.9 L1393.5,1206.8 L1394.0,1206.2 L1394.5,1205.6 L1395.0,1208.2 L1395.5,1205.2 L1396.0,1208.4 L1396.5,1208.1 L1397.0,1207.2 L1397.5,1208.6 L1398.0,1209.2 L1398.5,1207.2 L1399.0,1207.4 L1399.5,1206.3 L1400.0,1209.2 L1400.5,1209.3 L1401.0,1210.4 L1401.5,1210.7 L1402.0,1208.5 L1402.5,1210.4 L1403.0,1209.1 L1403.5,1210.3 L1404.0,1207.8 L1404.5,1209.7 L1405.0,1212.0 L1405.5,1210.7 L1406.0,1211.2 L1406.5,1209.6 L1407.0,1211.8 L1407.5,1210.7 L1408.0,1209.6 L1408.5,1211.4 L1409.0,1213.9 L1409.5,1212.2 L1410.0,1211.8 L1410.5,1210.0 L1411.0,1211.4 L1411.5,1211.2 L1412.0,1212.9 L1412.5,1213.6 L1413.0,1214.6 L1413.5,1211.4 L1414.0,1210.0 L1414.5,1216.1 L1415.0,1210.2 L1415.5,1211.7 L1416.0,1213.5 L1416.5,1211.2 L1417.0,1211.7 L1417.5,1210.5 L1418.0,1212.2 L1418.5,1212.4 L1419.0,1212.4 L1419.5,1212.7 L1420.0,1211.9 L1420.5,1213.1 L1421.0,1211.3 L1421.5,1208.4 L1422.0,1211.1 L1422.5,1212.6 L1423.0,1213.3 L1423.5,1211.2 L1424.0,1210.7 L1424.5,1211.6 L1425.0,1207.5 L1425.5,1211.5 L1426.0,1213.7 L1426.5,1210.7 L1427.0,1209.2 L1427.5,1211.2 L1428.0,1207.3 L1428.5,1210.4 L1429.0,1207.3 L1429.5,1206.2 L1430.0,1208.9 L1430.5,1203.0 L1431.0,1207.4 L1431.5,1206.7 L1432.0,1205.8 L1432.5,1204.9 L1433.0,1201.8 L1433.5,1201.3 L1434.0,1200.5 L1434.5,1199.1 L1435.0,1197.2 L1435.5,1194.3 L1436.0,1191.8 L1436.5,1191.5 L1437.0,1189.3 L1437.5,1184.3 L1438.0,1186.0 L1438.5,1185.0 L1439.0,1184.5 L1439.5,1181.2 L1440.0,1180.3 L1440.5,1181.2 L1441.0,1178.2 L1441.5,1178.2 L1442.0,1175.6 L1442.5,1175.2 L1443.0,1173.4 L1443.5,1174.8 L1444.0,1174.8 L1444.5,1180.0 L1445.0,1179.5 L1445.5,1178.3 L1446.0,1182.0 L1446.5,1185.2 L1447.0,1185.7 L1447.5,1187.6 L1448.0,1188.0 L1448.5,1189.1 L1449.0,1190.8 L1449.5,1193.7 L1450.0,1197.4 L1450.5,1202.9 L1451.0,1204.4 L1451.5,1205.1 L1452.0,1210.2 L1452.5,1211.4 L1453.0,1214.7 L1453.5,1219.6 L1454.0,1222.0 L1454.5,1225.4 L1455.0,1228.8 L1455.5,1229.2 L1456.0,1227.6 L1456.5,1229.2 L1457.0,1231.7 L1457.5,1233.1 L1458.0,1234.1 L1458.5,1232.7 L1459.0,1234.6 L1459.5,1233.3 L1460.0,1234.6 L1460.5,1235.9 L1461.0,1236.9 L1461.5,1238.8 L1462.0,1236.7 L1462.5,1236.6 L1463.0,1236.4 L1463.5,1237.7 L1464.0,1236.5 L1464.5,1233.3 L1465.0,1234.5 L1465.5,1234.3 L1466.0,1232.0 L1466.5,1233.5 L1467.0,1234.1 L1467.5,1232.1 L1468.0,1230.5 L1468.5,1231.6 L1469.0,1228.1 L1469.5,1228.4 L1470.0,1227.3 L1470.5,1227.2 L1471.0,1224.8 L1471.5,1224.0 L1472.0,1224.2 L1472.5,1225.3 L1473.0,1222.9 L1473.5,1222.0 L1474.0,1223.6 L1474.5,1218.2 L1475.0,1219.5 L1475.5,1219.1 L1476.0,1221.0 L1476.5,1219.4 L1477.0,1215.4 L1477.5,1217.4 L1478.0,1219.3 L1478.5,1215.6 L1479.0,1218.9 L1479.5,1216.6 L1480.0,1217.3 L1480.5,1214.8 L1481.0,1216.0 L1481.5,1216.2 L1482.0,1216.5 L1482.5,1212.4 L1483.0,1218.2 L1483.5,1214.5 L1484.0,1215.4 L1484.5,1212.7 L1485.0,1214.4 L1485.5,1212.5 L1486.0,1211.0 L1486.5,1213.5 L1487.0,1212.6 L1487.5,1212.7 L1488.0,1213.7 L1488.5,1212.7 L1489.0,1209.3 L1489.5,1211.7 L1490.0,1210.8 L1490.5,1212.4 L1491.0,1209.3 L1491.5,1208.6 L1492.0,1209.6 L1492.5,1211.7 L1493.0,1209.3 L1493.5,1212.0 L1494.0,1212.6 L1494.5,1213.5 L1495.0,1210.8 L1495.5,1212.8 L1496.0,1213.7 L1496.5,1213.4 L1497.0,1213.8 L1497.5,1213.2 L1498.0,1212.0 L1498.5,1211.7 L1499.0,1213.6 L1499.5,1211.3 L1500.0,1209.7 L1500.5,1212.6 L1501.0,1213.3 L1501.5,1215.3 L1502.0,1213.8 L1502.5,1212.3 L1503.0,1214.0 L1503.5,1214.1 L1504.0,1214.3 L1504.5,1214.5 L1505.0,1214.6 L1505.5,1213.4 L1506.0,1216.7 L1506.5,1213.9 L1507.0,1212.5 L1507.5,1215.1 L1508.0,1213.0 L1508.5,1215.1 L1509.0,1216.5 L1509.5,1215.7 L1510.0,1216.6 L1510.5,1217.1 L1511.0,1216.0 L1511.5,1218.8 L1512.0,1213.6 L1512.5,1216.9 L1513.0,1216.4 L1513.5,1216.5 L1514.0,1214.4 L1514.5,1218.0 L1515.0,1218.9 L1515.5,1216.2 L1516.0,1214.3 L1516.5,1219.6 L1517.0,1216.0 L1517.5,1217.6 L1518.0,1218.5 L1518.5,1217.6 L1519.0,1216.8 L1519.5,1217.7 L1520.0,1220.2 L1520.5,1217.5 L1521.0,1219.2 L1521.5,1218.8 L1522.0,1215.4 L1522.5,1215.7 L1523.0,1221.0 L1523.5,1218.5 L1524.0,1218.1 L1524.5,1216.9 L1525.0,1219.7 L1525.5,1219.2 L1526.0,1218.7 L1526.5,1218.2 L1527.0,1221.2 L1527.5,1221.7 L1528.0,1220.5 L1528.5,1218.9 L1529.0,1218.1 L1529.5,1219.6 L1530.0,1220.5 L1530.5,1220.4 L1531.0,1221.0 L1531.5,1221.2 L1532.0,1221.2 L1532.5,1221.2 L1533.0,1222.6 L1533.5,1224.3 L1534.0,1225.4 L1534.5,1228.0 L1535.0,1222.1 L1535.5,1225.9 L1536.0,1224.0 L1536.5,1225.3 L1537.0,1229.6 L1537.5,1227.1 L1538.0,1228.5 L1538.5,1226.8 L1539.0,1225.8 L1539.5,1228.2 L1540.0,1230.1 L1540.5,1229.0 L1541.0,1226.7 L1541.5,1231.9 L1542.0,1233.3 L1542.5,1232.5 L1543.0,1233.1 L1543.5,1233.8 L1544.0,1233.0 L1544.5,1234.9 L1545.0,1234.8 L1545.5,1234.6 L1546.0,1231.5 L1546.5,1231.6 L1547.0,1232.1 L1547.5,1231.7 L1548.0,1234.5 L1548.5,1233.2 L1549.0,1233.3 L1549.5,1230.8 L1550.0,1229.6 L1550.5,1229.8 L1551.0,1231.9 L1551.5,1228.7 L1552.0,1228.5 L1552.5,1230.7 L1553.0,1228.5 L1553.5,1230.2 L1554.0,1229.2 L1554.5,1231.8 L1555.0,1227.5 L1555.5,1226.0 L1556.0,1226.0 L1556.5,1226.7 L1557.0,1230.1 L1557.5,1228.0 L1558.0,1224.6 L1558.5,1227.1 L1559.0,1224.2 L1559.5,1224.4 L1560.0,1225.0 L1560.5,1225.3 L1561.0,1224.3 L1561.5,1224.3 L1562.0,1224.0 L1562.5,1221.0 L1563.0,1221.8 L1563.5,1223.1 L1564.0,1222.5 L1564.5,1220.8 L1565.0,1220.4 L1565.5,1219.2 L1566.0,1218.6 L1566.5,1218.5 L1567.0,1218.5 L1567.5,1218.4 L1568.0,1217.7 L1568.5,1219.6 L1569.0,1218.7 L1569.5,1215.8 L1570.0,1216.3 L1570.5,1215.1 L1571.0,1214.7 L1571.5,1215.8 L1572.0,1219.3 L1572.5,1214.4 L1573.0,1217.4 L1573.5,1213.7 L1574.0,1215.7 L1574.5,1215.1 L1575.0,1214.0 L1575.5,1215.9 L1576.0,1215.0 L1576.5,1216.4 L1577.0,1214.5 L1577.5,1213.0 L1578.0,1210.5 L1578.5,1210.8 L1579.0,1213.5 L1579.5,1211.3 L1580.0,1210.7 L1580.5,1211.8 L1581.0,1209.9 L1581.5,1211.9 L1582.0,1216.0 L1582.5,1211.1 L1583.0,1211.5 L1583.5,1213.9 L1584.0,1214.8 L1584.5,1209.8 L1585.0,1214.2 L1585.5,1214.6 L1586.0,1214.0 L1586.5,1214.4 L1587.0,1218.2 L1587.5,1213.9 L1588.0,1215.1 L1588.5,1216.8 L1589.0,1217.4 L1589.5,1217.8 L1590.0,1217.4 L1590.5,1218.3 L1591.0,1216.1 L1591.5,1218.0 L1592.0,1219.5 L1592.5,1218.1 L1593.0,1219.2 L1593.5,1220.1 L1594.0,1221.0 L1594.5,1219.4 L1595.0,1220.4 L1595.5,1222.7 L1596.0,1221.6 L1596.5,1221.7 L1597.0,1223.8 L1597.5,1221.5 L1598.0,1224.9 L1598.5,1226.1 L1599.0,1223.1 L1599.5,1224.3 L1600.0,1223.7 L1600.5,1224.7 L1601.0,1225.4 L1601.5,1223.6 L1602.0,1226.3 L1602.5,1226.1 L1603.0,1225.9 L1603.5,1226.4 L1604.0,1226.8 L1604.5,1225.1 L1605.0,1225.9 L1605.5,1224.3 L1606.0,1226.8 L1606.5,1227.2 L1607.0,1226.3 L1607.5,1228.3 L1608.0,1229.8 L1608.5,1230.2 L1609.0,1227.6 L1609.5,1230.3 L1610.0,1226.6 L1610.5,1226.4 L1611.0,1229.3 L1611.5,1230.0 L1612.0,1228.4 L1612.5,1228.2 L1613.0,1230.6 L1613.5,1231.8 L1614.0,1229.2 L1614.5,1229.0 L1615.0,1228.1 L1615.5,1230.0 L1616.0,1229.0 L1616.5,1232.5 L1617.0,1229.1 L1617.5,1231.0 L1618.0,1231.2 L1618.5,1230.5 L1619.0,1232.5 L1619.5,1231.7 L1620.0,1231.0 L1620.5,1232.0 L1621.0,1231.4 L1621.5,1231.1 L1622.0,1231.1 L1622.5,1231.4 L1623.0,1233.0 L1623.5,1231.0 L1624.0,1229.6 L1624.5,1229.6 L1625.0,1228.2 L1625.5,1230.7 L1626.0,1228.1 L1626.5,1230.9 L1627.0,1229.9 L1627.5,1227.3 L1628.0,1230.6 L1628.5,1224.9 L1629.0,1229.6 L1629.5,1226.7 L1630.0,1228.1 L1630.5,1226.8 L1631.0,1227.0 L1631.5,1227.5 L1632.0,1227.8 L1632.5,1229.4 L1633.0,1225.2 L1633.5,1225.4 L1634.0,1226.3 L1634.5,1226.6 L1635.0,1225.6 L1635.5,1225.3 L1636.0,1225.0 L1636.5,1223.6 L1637.0,1225.9 L1637.5,1223.8 L1638.0,1226.2 L1638.5,1225.3 L1639.0,1227.3 L1639.5,1224.6 L1640.0,1223.6 L1640.5,1222.5 L1641.0,1223.6 L1641.5,1223.2 L1642.0,1223.2 L1642.5,1221.3 L1643.0,1222.0 L1643.5,1221.7 L1644.0,1219.4 L1644.5,1220.9 L1645.0,1226.0 L1645.5,1220.4 L1646.0,1221.2 L1646.5,1221.7 L1647.0,1220.9 L1647.5,1223.1 L1648.0,1218.1 L1648.5,1220.5 L1649.0,1219.5 L1649.5,1223.2 L1650.0,1220.0 L1650.5,1218.7 L1651.0,1218.2 L1651.5,1218.2 L1652.0,1217.4 L1652.5,1219.6 L1653.0,1218.7 L1653.5,1219.3 L1654.0,1217.9 L1654.5,1218.4 L1655.0,1217.5 L1655.5,1217.3 L1656.0,1216.2 L1656.5,1217.6 L1657.0,1216.1 L1657.5,1216.1 L1658.0,1217.1 L1658.5,1218.1 L1659.0,1216.2 L1659.5,1215.5 L1660.0,1215.1 L1660.5,1213.2 L1661.0,1218.0 L1661.5,1213.1 L1662.0,1214.1 L1662.5,1214.3 L1663.0,1215.5 L1663.5,1216.4 L1664.0,1214.1 L1664.5,1214.1 L1665.0,1211.9 L1665.5,1215.6 L1666.0,1212.1 L1666.5,1210.6 L1667.0,1211.7 L1667.5,1212.4 L1668.0,1213.1 L1668.5,1212.6 L1669.0,1212.8 L1669.5,1214.3 L1670.0,1212.4 L1670.5,1215.6 L1671.0,1212.9 L1671.5,1212.4 L1672.0,1212.8 L1672.5,1209.6 L1673.0,1209.2 L1673.5,1210.9 L1674.0,1210.7 L1674.5,1210.8 L1675.0,1211.1 L1675.5,1210.5 L1676.0,1212.1 L1676.5,1211.9 L1677.0,1210.7 L1677.5,1210.3 L1678.0,1210.1 L1678.5,1210.1 L1679.0,1210.4 L1679.5,1209.8 L1680.0,1209.2 L1680.5,1210.6 L1681.0,1210.6 L1681.5,1211.4 L1682.0,1207.0 L1682.5,1207.9 L1683.0,1210.5 L1683.5,1210.4 L1684.0,1213.2 L1684.5,1208.0 L1685.0,1208.7 L1685.5,1208.7 L1686.0,1208.3 L1686.5,1208.6 L1687.0,1209.9 L1687.5,1211.1 L1688.0,1206.8 L1688.5,1204.7 L1689.0,1208.8 L1689.5,1207.3 L1690.0,1205.7 L1690.5,1210.5 L1691.0,1209.4 L1691.5,1211.3 L1692.0,1209.4 L1692.5,1210.4 L1693.0,1211.8 L1693.5,1213.9 L1694.0,1211.2 L1694.5,1214.7 L1695.0,1214.8 L1695.5,1215.5 L1696.0,1216.6 L1696.5,1218.3 L1697.0,1219.8 L1697.5,1220.3 L1698.0,1220.0 L1698.5,1219.2 L1699.0,1217.8 L1699.5,1220.6 L1700.0,1221.6 L1700.5,1222.2 L1701.0,1222.8 L1701.5,1226.2 L1702.0,1224.1 L1702.5,1226.4 L1703.0,1226.7 L1703.5,1228.3 L1704.0,1229.8 L1704.5,1228.7 L1705.0,1227.0 L1705.5,1228.9 L1706.0,1233.0 L1706.5,1230.6 L1707.0,1229.3 L1707.5,1233.6 L1708.0,1229.5 L1708.5,1231.5 L1709.0,1232.3 L1709.5,1233.7 L1710.0,1229.1 L1710.5,1231.4 L1711.0,1227.8 L1711.5,1227.9 L1712.0,1227.4 L1712.5,1231.4 L1713.0,1225.3 L1713.5,1229.4 L1714.0,1228.9 L1714.5,1226.2 L1715.0,1226.9 L1715.5,1228.6 L1716.0,1227.2 L1716.5,1225.9 L1717.0,1227.4 L1717.5,1228.9 L1718.0,1227.1 L1718.5,1225.4 L1719.0,1226.1 L1719.5,1224.1 L1720.0,1226.3 L1720.5,1226.0 L1721.0,1223.8 L1721.5,1227.0 L1722.0,1226.8 L1722.5,1223.6 L1723.0,1222.1 L1723.5,1225.2 L1724.0,1223.9 L1724.5,1222.7 L1725.0,1223.7 L1725.5,1222.7 L1726.0,1221.0 L1726.5,1217.3 L1727.0,1219.4 L1727.5,1215.2 L1728.0,1217.5 L1728.5,1219.2 L1729.0,1216.0 L1729.5,1216.3 L1730.0,1217.5 L1730.5,1214.9 L1731.0,1210.7 L1731.5,1212.7 L1732.0,1214.0 L1732.5,1211.0 L1733.0,1212.8 L1733.5,1213.3 L1734.0,1210.2 L1734.5,1208.6 L1735.0,1208.8 L1735.5,1205.6 L1736.0,1206.9 L1736.5,1205.6 L1737.0,1205.6 L1737.5,1204.6 L1738.0,1203.9 L1738.5,1204.1 L1739.0,1202.3 L1739.5,1200.1 L1740.0,1201.3 L1740.5,1202.5 L1741.0,1200.8 L1741.5,1200.1 L1742.0,1201.1 L1742.5,1198.8 L1743.0,1201.2 L1743.5,1201.2 L1744.0,1202.3 L1744.5,1202.9 L1745.0,1201.6 L1745.5,1197.4 L1746.0,1201.1 L1746.5,1203.8 L1747.0,1201.3 L1747.5,1201.1 L1748.0,1201.1 L1748.5,1202.0 L1749.0,1202.6 L1749.5,1202.3 L1750.0,1202.8 L1750.5,1202.4 L1751.0,1205.4 L1751.5,1200.6 L1752.0,1201.7 L1752.5,1201.7 L1753.0,1202.5 L1753.5,1205.0 L1754.0,1202.8 L1754.5,1202.7 L1755.0,1202.3 L1755.5,1202.5 L1756.0,1202.8 L1756.5,1200.6 L1757.0,1201.4 L1757.5,1202.6 L1758.0,1203.7 L1758.5,1202.9 L1759.0,1203.0 L1759.5,1200.0 L1760.0,1201.8 L1760.5,1201.1 L1761.0,1204.4 L1761.5,1202.9 L1762.0,1203.5 L1762.5,1202.5 L1763.0,1200.7 L1763.5,1201.9 L1764.0,1201.0 L1764.5,1200.5 L1765.0,1199.4 L1765.5,1203.2 L1766.0,1202.4 L1766.5,1201.5 L1767.0,1201.4 L1767.5,1199.3 L1768.0,1200.8 L1768.5,1198.3 L1769.0,1197.8 L1769.5,1200.0 L1770.0,1199.7 L1770.5,1196.2 L1771.0,1196.5 L1771.5,1196.9 L1772.0,1199.2 L1772.5,1198.8 L1773.0,1199.3 L1773.5,1199.8 L1774.0,1194.8 L1774.5,1194.0 L1775.0,1197.1 L1775.5,1196.9 L1776.0,1195.4 L1776.5,1196.2 L1777.0,1196.4 L1777.5,1193.5 L1778.0,1195.5 L1778.5,1196.3 L1779.0,1194.2 L1779.5,1198.0 L1780.0,1194.0 L1780.5,1194.0 L1781.0,1196.1 L1781.5,1196.7 L1782.0,1198.4 L1782.5,1196.9 L1783.0,1198.5 L1783.5,1194.2 L1784.0,1196.4 L1784.5,1197.5 L1785.0,1196.2 L1785.5,1197.5 L1786.0,1199.8 L1786.5,1199.2 L1787.0,1198.9 L1787.5,1202.2 L1788.0,1200.1 L1788.5,1201.6 L1789.0,1198.3 L1789.5,1202.1 L1790.0,1203.5 L1790.5,1202.7 L1791.0,1199.5 L1791.5,1202.5 L1792.0,1202.0 L1792.5,1205.5 L1793.0,1204.5 L1793.5,1202.2 L1794.0,1202.6 L1794.5,1204.1 L1795.0,1204.4 L1795.5,1205.7 L1796.0,1206.6 L1796.5,1206.7 L1797.0,1205.8 L1797.5,1203.0 L1798.0,1206.3 L1798.5,1204.1 L1799.0,1205.9 L1799.5,1206.6 L1800.0,1205.5 L1800.5,1204.5 L1801.0,1210.2 L1801.5,1209.8 L1802.0,1205.2 L1802.5,1210.2 L1803.0,1208.5 L1803.5,1209.1 L1804.0,1207.9 L1804.5,1211.0 L1805.0,1212.3 L1805.5,1209.5 L1806.0,1210.5 L1806.5,1212.7 L1807.0,1211.8 L1807.5,1211.7 L1808.0,1213.5 L1808.5,1211.6 L1809.0,1211.4 L1809.5,1213.6 L1810.0,1213.7 L1810.5,1215.0 L1811.0,1211.8 L1811.5,1215.3 L1812.0,1213.1 L1812.5,1215.3 L1813.0,1215.8 L1813.5,1215.0 L1814.0,1215.0 L1814.5,1213.9 L1815.0,1217.0 L1815.5,1216.3 L1816.0,1217.6 L1816.5,1218.2 L1817.0,1217.8 L1817.5,1219.2 L1818.0,1218.4 L1818.5,1217.6 L1819.0,1216.7 L1819.5,1218.1 L1820.0,1218.8 L1820.5,1217.3 L1821.0,1217.7 L1821.5,1218.4 L1822.0,1216.2 L1822.5,1215.8 L1823.0,1213.6 L1823.5,1213.8 L1824.0,1215.3 L1824.5,1213.1 L1825.0,1212.2 L1825.5,1211.5 L1826.0,1210.7 L1826.5,1209.7 L1827.0,1211.0 L1827.5,1211.5 L1828.0,1209.2 L1828.5,1211.2 L1829.0,1208.8 L1829.5,1209.1 L1830.0,1205.5 L1830.5,1205.6 L1831.0,1206.1 L1831.5,1202.4 L1832.0,1202.8 L1832.5,1203.3 L1833.0,1201.1 L1833.5,1201.0 L1834.0,1200.7 L1834.5,1199.4 L1835.0,1199.1 L1835.5,1201.1 L1836.0,1198.4 L1836.5,1198.6 L1837.0,1196.1 L1837.5,1196.7 L1838.0,1196.6 L1838.5,1196.9 L1839.0,1195.4 L1839.5,1195.7 L1840.0,1200.6 L1840.5,1186.2 L1841.0,1186.8 L1841.5,1198.2 L1842.0,1198.4 L1842.5,1178.4 L1843.0,1202.7 L1843.5,1194.2 L1844.0,1180.6 L1844.5,1193.3 L1845.0,1186.1 L1845.5,1192.5 L1846.0,1190.6 L1846.5,1189.8 L1847.0,1189.8 L1847.5,1191.4 L1848.0,1188.6 L1848.5,1184.9 L1849.0,1182.2 L1849.5,1190.1 L1850.0,1187.6 L1850.5,1182.8 L1851.0,1164.5 L1851.5,1172.1 L1852.0,1171.6 L1852.5,1162.4 L1853.0,1145.1 L1853.5,1141.7 L1854.0,1134.7 L1854.5,1121.4 L1855.0,1110.2 L1855.5,1117.7 L1856.0,1105.1 L1856.5,1110.6 L1857.0,1119.0 L1857.5,1136.1 L1858.0,1117.6 L1858.5,1142.8 L1859.0,1154.4 L1859.5,1154.5 L1860.0,1153.2 L1860.5,1162.0 L1861.0,1175.0 L1861.5,1179.9 L1862.0,1166.9 L1862.5,1181.2 L1863.0,1169.0 L1863.5,1168.7 L1864.0,1171.6 L1864.5,1173.5 L1865.0,1178.1 L1865.5,1169.5 L1866.0,1166.3 L1866.5,1170.2 L1867.0,1174.6 L1867.5,1168.5 L1868.0,1172.0 L1868.5,1176.5 L1869.0,1174.0 L1869.5,1172.3 L1870.0,1170.5 L1870.5,1182.2 L1871.0,1169.7 L1871.5,1164.7 L1872.0,1167.0 L1872.5,1152.0 L1873.0,1173.1 L1873.5,1161.5 L1874.0,1179.8 L1874.5,1169.1 L1875.0,1168.3 L1875.5,1154.0 L1876.0,1175.9 L1876.5,1169.8 L1877.0,1175.6 L1877.5,1157.3 L1878.0,1171.9 L1878.5,1177.5 L1879.0,1184.9 L1879.5,1197.8 L1880.0,1191.8 L1880.5,1181.2 L1881.0,1200.1 L1881.5,1199.4 L1882.0,1207.1 L1882.5,1214.1 L1883.0,1207.0 L1883.5,1205.6 L1884.0,1208.2 L1884.5,1193.5 L1885.0,1194.8 L1885.5,1174.9 L1886.0,1172.1 L1886.5,1163.2 L1887.0,1163.6 L1887.5,1160.2 L1888.0,1166.5 L1888.5,1167.6 L1889.0,1165.2 L1889.5,1166.4 L1890.0,1163.1 L1890.5,1166.3 L1891.0,1153.3 L1891.5,1166.2 L1892.0,1171.1 L1892.5,1168.2 L1893.0,1162.1 L1893.5,1161.9 L1894.0,1164.6 L1894.5,1174.8 L1895.0,1175.9 L1895.5,1193.5 L1896.0,1203.5 L1896.5,1215.6 L1897.0,1212.9 L1897.5,1224.7 L1898.0,1236.5 L1898.5,1245.9 L1899.0,1251.6 L1899.5,1260.0 L1900.0,1274.0 L1900.5,1257.5 L1901.0,1234.6 L1901.5,1210.1 L1902.0,1185.1 L1902.5,1152.2 L1903.0,1164.7 L1903.5,1169.5 L1904.0,1171.4 L1904.5,1165.5 L1905.0,1159.6 L1905.5,1171.3 L1906.0,1162.6 L1906.5,1166.3 L1907.0,1175.0 L1907.5,1152.5 L1908.0,1153.6 L1908.5,1162.1 L1909.0,1172.7 L1909.5,1164.7 L1910.0,1165.8 L1910.5,1168.0 L1911.0,1161.4 L1911.5,1168.7 L1912.0,1176.3 L1912.5,1166.6 L1913.0,1172.5 L1913.5,1164.2 L1914.0,1150.4 L1914.5,1131.9 L1915.0,1123.7 L1915.5,1124.5 L1916.0,1099.1 L1916.5,1103.3 L1917.0,1088.3 L1917.5,1086.3 L1918.0,1096.3 L1918.5,1107.1 L1919.0,1111.1 L1919.5,1129.0 L1920.0,1129.7 L1920.5,1148.1 L1921.0,1153.6 L1921.5,1165.5 L1922.0,1186.2 L1922.5,1178.4 L1923.0,1179.5 L1923.5,1173.9 L1924.0,1171.9 L1924.5,1171.9 L1925.0,1180.4 L1925.5,1169.4 L1926.0,1167.0 L1926.5,1173.4 L1927.0,1186.9 L1927.5,1173.1 L1928.0,1178.2 L1928.5,1181.5 L1929.0,1171.0 L1929.5,1170.9 L1930.0,1175.1 L1930.5,1178.0 L1931.0,1171.6 L1931.5,1178.3 L1932.0,1179.8 L1932.5,1169.8 L1933.0,1187.4 L1933.5,1203.6 L1934.0,1219.6 L1934.5,1237.5 L1935.0,1250.0 L1935.5,1232.5 L1936.0,1222.4 L1936.5,1208.1 L1937.0,1191.0 L1937.5,1170.3 L1938.0,1164.5 L1938.5,1172.5 L1939.0,1170.6 L1939.5,1172.1 L1940.0,1166.0 L1940.5,1166.7 L1941.0,1178.3 L1941.5,1170.3 L1942.0,1160.2 L1942.5,1152.5 L1943.0,1163.5 L1943.5,1148.8 L1944.0,1140.7 L1944.5,1142.1 L1945.0,1157.1 L1945.5,1161.4 L1946.0,1155.9 L1946.5,1173.3 L1947.0,1163.5 L1947.5,1163.8 L1948.0,1153.9 L1948.5,1146.5 L1949.0,1160.5 L1949.5,1155.6 L1950.0,1152.5 L1950.5,1150.7 L1951.0,1134.6 L1951.5,1130.4 L1952.0,1144.8 L1952.5,1140.6 L1953.0,1151.3 L1953.5,1144.1 L1954.0,1155.7 L1954.5,1149.9 L1955.0,1168.9 L1955.5,1196.5 L1956.0,1208.3 L1956.5,1230.9 L1957.0,1245.0 L1957.5,1230.8 L1958.0,1214.5 L1958.5,1202.9 L1959.0,1180.9 L1959.5,1170.9 L1960.0,1164.8 L1960.5,1173.0 L1961.0,1168.3 L1961.5,1170.9 L1962.0,1172.9 L1962.5,1157.9 L1963.0,1169.3 L1963.5,1169.7 L1964.0,1156.7 L1964.5,1167.6 L1965.0,1165.3 L1965.5,1174.8 L1966.0,1177.8 L1966.5,1169.2 L1967.0,1165.1 L1967.5,1158.5 L1968.0,1163.4 L1968.5,1178.1 L1969.0,1168.7 L1969.5,1170.5 L1970.0,1167.7 L1970.5,1169.1 L1971.0,1166.2 L1971.5,1171.2 L1972.0,1169.4 L1972.5,1161.4 L1973.0,1166.3 L1973.5,1160.3 L1974.0,1157.9 L1974.5,1167.2 L1975.0,1152.1 L1975.5,1161.9 L1976.0,1161.9 L1976.5,1158.8 L1977.0,1154.7 L1977.5,1157.8 L1978.0,1152.8 L1978.5,1139.9 L1979.0,1143.4 L1979.5,1161.6 L1980.0,1153.7 L1980.5,1153.6 L1981.0,1155.3 L1981.5,1160.8 L1982.0,1149.7 L1982.5,1152.5 L1983.0,1151.0 L1983.5,1144.0 L1984.0,1152.2 L1984.5,1156.6 L1985.0,1159.4 L1985.5,1159.0 L1986.0,1154.0 L1986.5,1153.6 L1987.0,1156.4 L1987.5,1154.2 L1988.0,1156.4 L1988.5,1155.5 L1989.0,1146.9 L1989.5,1141.6 L1990.0,1149.8 L1990.5,1133.3 L1991.0,1126.9 L1991.5,1128.2 L1992.0,1110.4 L1992.5,1113.6 L1993.0,1107.5 L1993.5,1109.3 L1994.0,1103.3 L1994.5,1111.7 L1995.0,1120.8 L1995.5,1128.6 L1996.0,1124.8 L1996.5,1145.6 L1997.0,1146.4 L1997.5,1146.5 L1998.0,1142.5 L1998.5,1130.1 L1999.0,1130.8 L1999.5,1142.5 L2000.0,1142.2 L2000.5,1142.6 L2001.0,1134.6 L2001.5,1139.8 L2002.0,1128.3 L2002.5,1141.1 L2003.0,1129.7 L2003.5,1125.5 L2004.0,1131.1 L2004.5,1137.5 L2005.0,1118.9 L2005.5,1094.9 L2006.0,1076.0 L2006.5,1075.3 L2007.0,1054.2 L2007.5,1066.4 L2008.0,1089.8 L2008.5,1120.5 L2009.0,1137.7 L2009.5,1171.7 L2010.0,1182.6 L2010.5,1190.4 L2011.0,1205.6 L2011.5,1202.6 L2012.0,1322.4 L2012.5,1321.2 L2013.0,1333.6 L2013.5,1327.3 L2014.0,1340.0 L2014.5,1358.1 L2015.0,1350.0 L2015.5,1353.0 L2016.0,1365.9 L2016.5,1371.8 L2017.0,1375.4 L2017.5,1363.4 L2018.0,1378.7 L2018.5,1385.1 L2019.0,1363.2 L2019.5,1364.3 L2020.0,1370.5 L2020.5,1367.4 L2021.0,1354.8 L2021.5,1345.0 L2022.0,1344.4 L2022.5,1340.8 L2023.0,1336.7 L2023.5,1330.2 L2024.0,1328.4 L2024.5,1319.6 L2025.0,1329.6 L2025.5,1145.6 L2026.0,1154.2 L2026.5,1156.7 L2027.0,1130.9 L2027.5,1147.0 L2028.0,1153.8 L2028.5,1157.0 L2029.0,1151.3 L2029.5,1143.7 L2030.0,1143.0 L2030.5,1156.3 L2031.0,1149.3 L2031.5,1153.7 L2032.0,1150.8 L2032.5,1148.6 L2033.0,1146.8 L2033.5,1154.7 L2034.0,1156.0 L2034.5,1152.2 L2035.0,1155.0 L2035.5,1153.3 L2036.0,1146.3 L2036.5,1154.2 L2037.0,1152.1 L2037.5,1178.1 L2038.0,1177.1 L2038.5,1187.8 L2039.0,1202.9 L2039.5,1224.6 L2040.0,1240.0 L2040.5,1224.7 L2041.0,1206.9 L2041.5,1192.5 L2042.0,1173.6 L2042.5,1161.1 L2043.0,1158.1 L2043.5,1166.5 L2044.0,1160.2 L2044.5,1151.6 L2045.0,1159.7 L2045.5,1157.8 L2046.0,1159.9 L2046.5,1148.2 L2047.0,1143.2 L2047.5,1155.8 L2048.0,1138.8 L2048.5,1141.6 L2049.0,1136.4 L2049.5,1147.0 L2050.0,1144.2 L2050.5,1143.2 L2051.0,1135.1 L2051.5,1132.5 L2052.0,1123.1 L2052.5,1118.0 L2053.0,1107.0 L2053.5,1105.9 L2054.0,1095.3 L2054.5,1092.1 L2055.0,1104.5 L2055.5,1097.7 L2056.0,1120.9" fill="none" stroke="#28B473" stroke-width="3.2" stroke-linejoin="round"/>
<path d="M1332.5,868 V1438.8 H2056.0" fill="none" stroke="#000" stroke-width="2.2"/>
<line x1="1332.5" y1="1438.8" x2="1340.5" y2="1438.8" stroke="#000" stroke-width="2.2"/>
<line x1="1332.5" y1="1324.2" x2="1340.5" y2="1324.2" stroke="#000" stroke-width="2.2"/>
<line x1="1332.5" y1="1209.5" x2="1340.5" y2="1209.5" stroke="#000" stroke-width="2.2"/>
<line x1="1332.5" y1="1094.8" x2="1340.5" y2="1094.8" stroke="#000" stroke-width="2.2"/>
<line x1="1332.5" y1="980.2" x2="1340.5" y2="980.2" stroke="#000" stroke-width="2.2"/>
<line x1="1332.5" y1="1438.8" x2="1332.5" y2="1430.8" stroke="#000" stroke-width="2.2"/>
<line x1="1412.9" y1="1438.8" x2="1412.9" y2="1430.8" stroke="#000" stroke-width="2.2"/>
<line x1="1493.3" y1="1438.8" x2="1493.3" y2="1430.8" stroke="#000" stroke-width="2.2"/>
<line x1="1573.7" y1="1438.8" x2="1573.7" y2="1430.8" stroke="#000" stroke-width="2.2"/>
<line x1="1654.1" y1="1438.8" x2="1654.1" y2="1430.8" stroke="#000" stroke-width="2.2"/>
<line x1="1734.4" y1="1438.8" x2="1734.4" y2="1430.8" stroke="#000" stroke-width="2.2"/>
<line x1="1814.8" y1="1438.8" x2="1814.8" y2="1430.8" stroke="#000" stroke-width="2.2"/>
<line x1="1895.2" y1="1438.8" x2="1895.2" y2="1430.8" stroke="#000" stroke-width="2.2"/>
<line x1="1975.6" y1="1438.8" x2="1975.6" y2="1430.8" stroke="#000" stroke-width="2.2"/>
<line x1="2056.0" y1="1438.8" x2="2056.0" y2="1430.8" stroke="#000" stroke-width="2.2"/>
<text x="1253.3" y="1001.5" font-size="64" textLength="67.2" lengthAdjust="spacingAndGlyphs" fill="#000">10</text>
<text x="1285.5" y="1230.5" font-size="64" textLength="35.0" lengthAdjust="spacingAndGlyphs" fill="#000">0</text>
<text x="1229.2" y="1449.0" font-size="64" textLength="91.4" lengthAdjust="spacingAndGlyphs" fill="#000">-10</text>
<text x="1288.8" y="1494.5" font-size="64" textLength="81.8" lengthAdjust="spacingAndGlyphs" fill="#262626">3.3</text>
<text x="1430.3" y="1494.5" font-size="64" textLength="118.9" lengthAdjust="spacingAndGlyphs" fill="#262626">3.32</text>
<text x="1590.1" y="1494.5" font-size="64" textLength="117.7" lengthAdjust="spacingAndGlyphs" fill="#262626">3.34</text>
<text x="1749.7" y="1494.5" font-size="64" textLength="119.0" lengthAdjust="spacingAndGlyphs" fill="#262626">3.36</text>
<text x="1909.7" y="1494.5" font-size="64" textLength="119.0" lengthAdjust="spacingAndGlyphs" fill="#262626">3.38</text>
<text x="1500.6" y="1546.0" font-size="64" textLength="396.6" lengthAdjust="spacingAndGlyphs" fill="#262626">northing (km)</text>
<text x="1945.3" y="1548.5" font-size="64" textLength="99.1" lengthAdjust="spacingAndGlyphs" fill="#262626">x10</text>
<text x="2045.8" y="1519.0" font-size="64" textLength="32.5" lengthAdjust="spacingAndGlyphs" fill="#262626">3</text>
<g transform="rotate(-90)"><text x="-1398.4" y="1149.0" font-size="64" textLength="354.8" lengthAdjust="spacingAndGlyphs" fill="#000">plane-fitting</text><text x="-1494.3" y="1207.0" font-size="64" textLength="558.5" lengthAdjust="spacingAndGlyphs" fill="#000">residual for modern</text><text x="-1347.2" y="1266.0" font-size="64" textLength="269.0" lengthAdjust="spacingAndGlyphs" fill="#000">valley (m)</text></g>
<rect x="1350.8" y="866" width="695" height="172" fill="#fff" stroke="#000" stroke-width="2"/>
<line x1="1358" y1="903.9" x2="1424" y2="903.9" stroke="#28B473" stroke-width="4"/>
<rect x="1358" y="942" width="66" height="19.5" fill="#808080"/>
<rect x="1358" y="993.7" width="66" height="20.3" fill="#BEBEBE"/>
<text x="1428.5" y="922.3" font-size="54" textLength="605.1" lengthAdjust="spacingAndGlyphs" fill="#000">median per northing (m)</text>
<text x="1429.5" y="974.0" font-size="54" textLength="406.9" lengthAdjust="spacingAndGlyphs" fill="#000">25-75 % quantile</text>
<text x="1430.0" y="1027.6" font-size="54" textLength="377.4" lengthAdjust="spacingAndGlyphs" fill="#000">5-95 % quantile</text>
</svg></body></html>
